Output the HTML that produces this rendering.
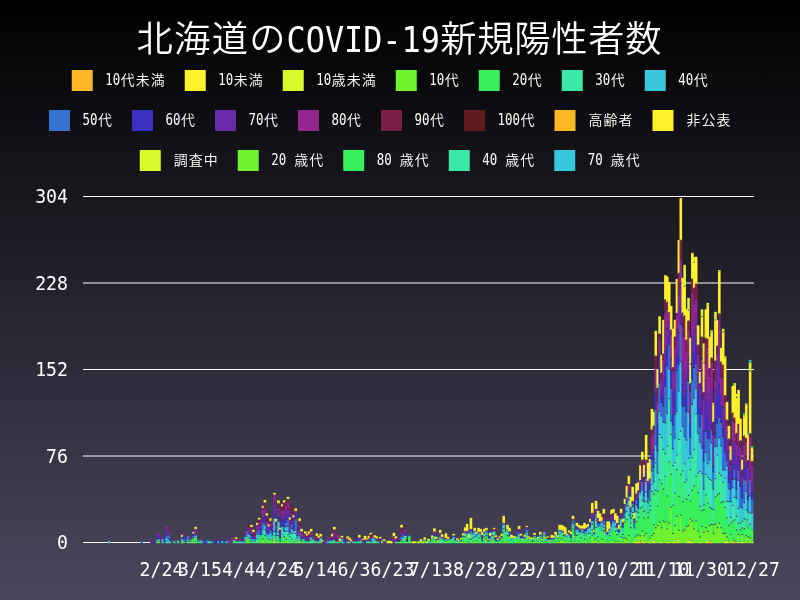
<!DOCTYPE html>
<html lang="ja"><head><meta charset="utf-8"><title>北海道のCOVID-19新規陽性者数</title>
<style>html,body{margin:0;padding:0;background:#000;overflow:hidden}svg{display:block}text{white-space:pre}.k{font-family:"Noto Sans CJK JP DemiLight","Noto Sans CJK JP","IPAGothic",sans-serif}.a{font-family:"DejaVu Sans Mono","Liberation Mono",monospace}</style></head>
<body>
<svg width="800" height="600" viewBox="0 0 800 600">
<defs><linearGradient id="bg" x1="0" y1="0" x2="0" y2="1"><stop offset="0" stop-color="#000000"/><stop offset="1" stop-color="#4a475d"/></linearGradient></defs>
<rect width="800" height="600" fill="url(#bg)"/>
<text fill="#fff"><tspan class="k" x="136.46" y="51.60" font-size="36.28" textLength="149.08" lengthAdjust="spacing">北海道の</tspan><tspan class="a" x="286.60" y="52.30" font-size="36.00" textLength="153.20" lengthAdjust="spacingAndGlyphs">COVID-19</tspan><tspan class="k" x="440.27" y="51.60" font-size="36.26" textLength="221.26" lengthAdjust="spacing">新規陽性者数</tspan></text>
<rect x="71.75" y="70" width="21" height="21" fill="#fdb827"/>
<text fill="#fff"><tspan class="a" x="105.30" y="85.40" font-size="15.00" textLength="15.00" lengthAdjust="spacingAndGlyphs">10</tspan><tspan class="k" x="120.83" y="85.10" font-size="13.95" textLength="43.95" lengthAdjust="spacing">代未満</tspan></text>
<rect x="184.75" y="70" width="21" height="21" fill="#fff12a"/>
<text fill="#fff"><tspan class="a" x="218.30" y="85.40" font-size="15.00" textLength="15.00" lengthAdjust="spacingAndGlyphs">10</tspan><tspan class="k" x="233.83" y="85.10" font-size="13.95" textLength="28.95" lengthAdjust="spacing">未満</tspan></text>
<rect x="282.75" y="70" width="21" height="21" fill="#d8fb2b"/>
<text fill="#fff"><tspan class="a" x="316.30" y="85.40" font-size="15.00" textLength="15.00" lengthAdjust="spacingAndGlyphs">10</tspan><tspan class="k" x="331.82" y="85.10" font-size="13.95" textLength="43.95" lengthAdjust="spacing">歳未満</tspan></text>
<rect x="395.75" y="70" width="21" height="21" fill="#70f32f"/>
<text fill="#fff"><tspan class="a" x="429.30" y="85.40" font-size="15.00" textLength="15.00" lengthAdjust="spacingAndGlyphs">10</tspan><tspan class="k" x="444.82" y="85.10" font-size="13.95" textLength="13.95" lengthAdjust="spacing">代</tspan></text>
<rect x="478.75" y="70" width="21" height="21" fill="#38ef5c"/>
<text fill="#fff"><tspan class="a" x="512.30" y="85.40" font-size="15.00" textLength="15.00" lengthAdjust="spacingAndGlyphs">20</tspan><tspan class="k" x="527.82" y="85.10" font-size="13.95" textLength="13.95" lengthAdjust="spacing">代</tspan></text>
<rect x="561.75" y="70" width="21" height="21" fill="#3ce8a8"/>
<text fill="#fff"><tspan class="a" x="595.30" y="85.40" font-size="15.00" textLength="15.00" lengthAdjust="spacingAndGlyphs">30</tspan><tspan class="k" x="610.82" y="85.10" font-size="13.95" textLength="13.95" lengthAdjust="spacing">代</tspan></text>
<rect x="644.75" y="70" width="21" height="21" fill="#38c8dc"/>
<text fill="#fff"><tspan class="a" x="678.30" y="85.40" font-size="15.00" textLength="15.00" lengthAdjust="spacingAndGlyphs">40</tspan><tspan class="k" x="693.82" y="85.10" font-size="13.95" textLength="13.95" lengthAdjust="spacing">代</tspan></text>
<rect x="49.00" y="110" width="21" height="21" fill="#3572d0"/>
<text fill="#fff"><tspan class="a" x="82.55" y="125.40" font-size="15.00" textLength="15.00" lengthAdjust="spacingAndGlyphs">50</tspan><tspan class="k" x="98.08" y="125.10" font-size="13.95" textLength="13.95" lengthAdjust="spacing">代</tspan></text>
<rect x="132.00" y="110" width="21" height="21" fill="#3a2fbf"/>
<text fill="#fff"><tspan class="a" x="165.55" y="125.40" font-size="15.00" textLength="15.00" lengthAdjust="spacingAndGlyphs">60</tspan><tspan class="k" x="181.08" y="125.10" font-size="13.95" textLength="13.95" lengthAdjust="spacing">代</tspan></text>
<rect x="215.00" y="110" width="21" height="21" fill="#6a2aa8"/>
<text fill="#fff"><tspan class="a" x="248.55" y="125.40" font-size="15.00" textLength="15.00" lengthAdjust="spacingAndGlyphs">70</tspan><tspan class="k" x="264.07" y="125.10" font-size="13.95" textLength="13.95" lengthAdjust="spacing">代</tspan></text>
<rect x="298.00" y="110" width="21" height="21" fill="#93258f"/>
<text fill="#fff"><tspan class="a" x="331.55" y="125.40" font-size="15.00" textLength="15.00" lengthAdjust="spacingAndGlyphs">80</tspan><tspan class="k" x="347.07" y="125.10" font-size="13.95" textLength="13.95" lengthAdjust="spacing">代</tspan></text>
<rect x="381.00" y="110" width="21" height="21" fill="#7a1f4a"/>
<text fill="#fff"><tspan class="a" x="414.55" y="125.40" font-size="15.00" textLength="15.00" lengthAdjust="spacingAndGlyphs">90</tspan><tspan class="k" x="430.07" y="125.10" font-size="13.95" textLength="13.95" lengthAdjust="spacing">代</tspan></text>
<rect x="464.00" y="110" width="21" height="21" fill="#5e1c1c"/>
<text fill="#fff"><tspan class="a" x="497.55" y="125.40" font-size="15.00" textLength="22.50" lengthAdjust="spacingAndGlyphs">100</tspan><tspan class="k" x="520.57" y="125.10" font-size="13.95" textLength="13.95" lengthAdjust="spacing">代</tspan></text>
<rect x="554.50" y="110" width="21" height="21" fill="#fdb827"/>
<text fill="#fff"><tspan class="k" x="588.57" y="125.10" font-size="13.95" textLength="43.95" lengthAdjust="spacing">高齢者</tspan></text>
<rect x="652.50" y="110" width="21" height="21" fill="#fff12a"/>
<text fill="#fff"><tspan class="k" x="686.57" y="125.10" font-size="13.95" textLength="43.95" lengthAdjust="spacing">非公表</tspan></text>
<rect x="139.75" y="150" width="21" height="21" fill="#d8fb2b"/>
<text fill="#fff"><tspan class="k" x="173.83" y="165.10" font-size="13.95" textLength="43.95" lengthAdjust="spacing">調査中</tspan></text>
<rect x="237.75" y="150" width="21" height="21" fill="#70f32f"/>
<text fill="#fff"><tspan class="a" x="271.30" y="165.40" font-size="15.00" textLength="22.50" lengthAdjust="spacingAndGlyphs">20 </tspan><tspan class="k" x="294.32" y="165.10" font-size="13.95" textLength="28.95" lengthAdjust="spacing">歳代</tspan></text>
<rect x="343.25" y="150" width="21" height="21" fill="#38ef5c"/>
<text fill="#fff"><tspan class="a" x="376.80" y="165.40" font-size="15.00" textLength="22.50" lengthAdjust="spacingAndGlyphs">80 </tspan><tspan class="k" x="399.82" y="165.10" font-size="13.95" textLength="28.95" lengthAdjust="spacing">歳代</tspan></text>
<rect x="448.75" y="150" width="21" height="21" fill="#3ce8a8"/>
<text fill="#fff"><tspan class="a" x="482.30" y="165.40" font-size="15.00" textLength="22.50" lengthAdjust="spacingAndGlyphs">40 </tspan><tspan class="k" x="505.32" y="165.10" font-size="13.95" textLength="28.95" lengthAdjust="spacing">歳代</tspan></text>
<rect x="554.25" y="150" width="21" height="21" fill="#38c8dc"/>
<text fill="#fff"><tspan class="a" x="587.80" y="165.40" font-size="15.00" textLength="22.50" lengthAdjust="spacingAndGlyphs">70 </tspan><tspan class="k" x="610.82" y="165.10" font-size="13.95" textLength="28.95" lengthAdjust="spacing">歳代</tspan></text>
<line x1="83.0" x2="753.8" y1="542.5" y2="542.5" stroke="#fff" stroke-width="1"/>
<text fill="#fff"><tspan class="a" x="57.05" y="549.40" font-size="20.05" textLength="10.95" lengthAdjust="spacingAndGlyphs">0</tspan></text>
<line x1="83.0" x2="753.8" y1="456.0" y2="456.0" stroke="#fff" stroke-width="1"/>
<text fill="#fff"><tspan class="a" x="46.10" y="462.90" font-size="20.05" textLength="21.90" lengthAdjust="spacingAndGlyphs">76</tspan></text>
<line x1="83.0" x2="753.8" y1="369.5" y2="369.5" stroke="#fff" stroke-width="1"/>
<text fill="#fff"><tspan class="a" x="35.15" y="376.40" font-size="20.05" textLength="32.85" lengthAdjust="spacingAndGlyphs">152</tspan></text>
<line x1="83.0" x2="753.8" y1="283.0" y2="283.0" stroke="#fff" stroke-width="1"/>
<text fill="#fff"><tspan class="a" x="35.15" y="289.90" font-size="20.05" textLength="32.85" lengthAdjust="spacingAndGlyphs">228</tspan></text>
<line x1="83.0" x2="753.8" y1="196.5" y2="196.5" stroke="#fff" stroke-width="1"/>
<text fill="#fff"><tspan class="a" x="35.15" y="203.40" font-size="20.05" textLength="32.85" lengthAdjust="spacingAndGlyphs">304</tspan></text>
<text fill="#fff"><tspan class="a" x="139.58" y="575.60" font-size="20.05" textLength="43.79" lengthAdjust="spacingAndGlyphs">2/24</tspan></text>
<text fill="#fff"><tspan class="a" x="178.08" y="575.60" font-size="20.05" textLength="43.79" lengthAdjust="spacingAndGlyphs">3/15</tspan></text>
<text fill="#fff"><tspan class="a" x="222.06" y="575.60" font-size="20.05" textLength="32.85" lengthAdjust="spacingAndGlyphs">4/4</tspan></text>
<text fill="#fff"><tspan class="a" x="255.09" y="575.60" font-size="20.05" textLength="43.79" lengthAdjust="spacingAndGlyphs">4/24</tspan></text>
<text fill="#fff"><tspan class="a" x="293.60" y="575.60" font-size="20.05" textLength="43.79" lengthAdjust="spacingAndGlyphs">5/14</tspan></text>
<text fill="#fff"><tspan class="a" x="337.58" y="575.60" font-size="20.05" textLength="32.85" lengthAdjust="spacingAndGlyphs">6/3</tspan></text>
<text fill="#fff"><tspan class="a" x="370.61" y="575.60" font-size="20.05" textLength="43.79" lengthAdjust="spacingAndGlyphs">6/23</tspan></text>
<text fill="#fff"><tspan class="a" x="409.12" y="575.60" font-size="20.05" textLength="43.79" lengthAdjust="spacingAndGlyphs">7/13</tspan></text>
<text fill="#fff"><tspan class="a" x="453.10" y="575.60" font-size="20.05" textLength="32.85" lengthAdjust="spacingAndGlyphs">8/2</tspan></text>
<text fill="#fff"><tspan class="a" x="486.13" y="575.60" font-size="20.05" textLength="43.79" lengthAdjust="spacingAndGlyphs">8/22</tspan></text>
<text fill="#fff"><tspan class="a" x="524.63" y="575.60" font-size="20.05" textLength="43.79" lengthAdjust="spacingAndGlyphs">9/11</tspan></text>
<text fill="#fff"><tspan class="a" x="563.14" y="575.60" font-size="20.05" textLength="43.79" lengthAdjust="spacingAndGlyphs">10/1</tspan></text>
<text fill="#fff"><tspan class="a" x="596.17" y="575.60" font-size="20.05" textLength="54.74" lengthAdjust="spacingAndGlyphs">10/21</tspan></text>
<text fill="#fff"><tspan class="a" x="634.68" y="575.60" font-size="20.05" textLength="54.74" lengthAdjust="spacingAndGlyphs">11/10</tspan></text>
<text fill="#fff"><tspan class="a" x="673.18" y="575.60" font-size="20.05" textLength="54.74" lengthAdjust="spacingAndGlyphs">11/30</tspan></text>
<text fill="#fff"><tspan class="a" x="725.17" y="575.60" font-size="20.05" textLength="54.74" lengthAdjust="spacingAndGlyphs">12/27</tspan></text>
<g shape-rendering="geometricPrecision">
<rect x="107.70" y="541.25" width="2.585" height="1.95" fill="#38c8dc"/>
<rect x="140.43" y="541.25" width="2.585" height="1.95" fill="#3572d0"/>
<rect x="150.06" y="541.35" width="2.585" height="1.85" fill="#6a2aa8"/>
<rect x="150.06" y="540.35" width="2.585" height="1.30" fill="#7a1f4a"/>
<rect x="151.98" y="540.35" width="2.585" height="2.85" fill="#6a2aa8"/>
<rect x="153.91" y="541.10" width="2.585" height="2.10" fill="#3a2fbf"/>
<rect x="153.91" y="539.85" width="2.585" height="1.55" fill="#7a1f4a"/>
<rect x="155.83" y="541.21" width="2.585" height="1.99" fill="#38ef5c"/>
<rect x="155.83" y="540.06" width="2.585" height="1.44" fill="#38c8dc"/>
<rect x="155.83" y="538.92" width="2.585" height="1.44" fill="#3572d0"/>
<rect x="155.83" y="536.63" width="2.585" height="2.59" fill="#3a2fbf"/>
<rect x="155.83" y="533.19" width="2.585" height="3.73" fill="#6a2aa8"/>
<rect x="155.83" y="532.05" width="2.585" height="1.44" fill="#93258f"/>
<rect x="157.76" y="541.15" width="2.585" height="2.05" fill="#70f32f"/>
<rect x="157.76" y="538.75" width="2.585" height="2.70" fill="#38ef5c"/>
<rect x="157.76" y="536.35" width="2.585" height="2.70" fill="#3a2fbf"/>
<rect x="157.76" y="535.15" width="2.585" height="1.50" fill="#6a2aa8"/>
<rect x="157.76" y="533.95" width="2.585" height="1.50" fill="#93258f"/>
<rect x="159.68" y="538.90" width="2.585" height="4.30" fill="#6a2aa8"/>
<rect x="159.68" y="537.75" width="2.585" height="1.45" fill="#7a1f4a"/>
<rect x="161.61" y="541.10" width="2.585" height="2.10" fill="#38ef5c"/>
<rect x="161.61" y="538.60" width="2.585" height="2.80" fill="#38c8dc"/>
<rect x="161.61" y="537.35" width="2.585" height="1.55" fill="#3a2fbf"/>
<rect x="163.53" y="541.35" width="2.585" height="1.85" fill="#3572d0"/>
<rect x="163.53" y="538.35" width="2.585" height="3.30" fill="#3a2fbf"/>
<rect x="165.46" y="541.24" width="2.585" height="1.96" fill="#38ef5c"/>
<rect x="165.46" y="540.14" width="2.585" height="1.41" fill="#3ce8a8"/>
<rect x="165.46" y="537.92" width="2.585" height="2.51" fill="#38c8dc"/>
<rect x="165.46" y="535.71" width="2.585" height="2.51" fill="#3572d0"/>
<rect x="165.46" y="529.06" width="2.585" height="6.94" fill="#3a2fbf"/>
<rect x="165.46" y="526.85" width="2.585" height="2.51" fill="#93258f"/>
<rect x="167.38" y="538.94" width="2.585" height="4.26" fill="#38c8dc"/>
<rect x="167.38" y="535.53" width="2.585" height="3.71" fill="#3572d0"/>
<rect x="167.38" y="533.26" width="2.585" height="2.57" fill="#6a2aa8"/>
<rect x="167.38" y="530.99" width="2.585" height="2.57" fill="#93258f"/>
<rect x="167.38" y="529.85" width="2.585" height="1.44" fill="#7a1f4a"/>
<rect x="169.31" y="541.18" width="2.585" height="2.02" fill="#38ef5c"/>
<rect x="169.31" y="538.85" width="2.585" height="2.63" fill="#3a2fbf"/>
<rect x="171.23" y="541.35" width="2.585" height="1.85" fill="#3a2fbf"/>
<rect x="171.23" y="540.35" width="2.585" height="1.30" fill="#93258f"/>
<rect x="173.16" y="541.35" width="2.585" height="1.85" fill="#70f32f"/>
<rect x="173.16" y="540.35" width="2.585" height="1.30" fill="#38ef5c"/>
<rect x="173.16" y="539.35" width="2.585" height="1.30" fill="#6a2aa8"/>
<rect x="173.16" y="538.35" width="2.585" height="1.30" fill="#7a1f4a"/>
<rect x="175.08" y="540.85" width="2.585" height="2.35" fill="#3572d0"/>
<rect x="177.01" y="540.85" width="2.585" height="2.35" fill="#38ef5c"/>
<rect x="178.93" y="540.85" width="2.585" height="2.35" fill="#93258f"/>
<rect x="180.86" y="541.25" width="2.585" height="1.95" fill="#70f32f"/>
<rect x="180.86" y="539.05" width="2.585" height="2.50" fill="#38c8dc"/>
<rect x="180.86" y="537.95" width="2.585" height="1.40" fill="#3572d0"/>
<rect x="180.86" y="536.85" width="2.585" height="1.40" fill="#7a1f4a"/>
<rect x="180.86" y="534.85" width="2.585" height="2.30" fill="#fff12a"/>
<rect x="182.78" y="541.14" width="2.585" height="2.06" fill="#38ef5c"/>
<rect x="182.78" y="539.92" width="2.585" height="1.51" fill="#38c8dc"/>
<rect x="182.78" y="538.71" width="2.585" height="1.51" fill="#3572d0"/>
<rect x="182.78" y="535.06" width="2.585" height="3.94" fill="#3a2fbf"/>
<rect x="182.78" y="533.85" width="2.585" height="1.51" fill="#93258f"/>
<rect x="184.71" y="541.35" width="2.585" height="1.85" fill="#3572d0"/>
<rect x="184.71" y="540.35" width="2.585" height="1.30" fill="#6a2aa8"/>
<rect x="186.64" y="541.27" width="2.585" height="1.93" fill="#70f32f"/>
<rect x="186.64" y="539.10" width="2.585" height="2.47" fill="#38c8dc"/>
<rect x="186.64" y="535.85" width="2.585" height="3.55" fill="#3572d0"/>
<rect x="188.56" y="541.35" width="2.585" height="1.85" fill="#3ce8a8"/>
<rect x="188.56" y="540.35" width="2.585" height="1.30" fill="#3572d0"/>
<rect x="190.49" y="541.27" width="2.585" height="1.93" fill="#70f32f"/>
<rect x="190.49" y="539.10" width="2.585" height="2.47" fill="#38ef5c"/>
<rect x="190.49" y="536.93" width="2.585" height="2.47" fill="#93258f"/>
<rect x="190.49" y="535.85" width="2.585" height="1.38" fill="#7a1f4a"/>
<rect x="192.41" y="541.23" width="2.585" height="1.97" fill="#70f32f"/>
<rect x="192.41" y="538.98" width="2.585" height="2.55" fill="#38ef5c"/>
<rect x="192.41" y="537.85" width="2.585" height="1.42" fill="#3ce8a8"/>
<rect x="192.41" y="535.60" width="2.585" height="2.55" fill="#3572d0"/>
<rect x="192.41" y="533.35" width="2.585" height="2.55" fill="#3a2fbf"/>
<rect x="192.41" y="531.85" width="2.585" height="1.80" fill="#fff12a"/>
<rect x="194.34" y="541.23" width="2.585" height="1.97" fill="#70f32f"/>
<rect x="194.34" y="536.73" width="2.585" height="4.80" fill="#38ef5c"/>
<rect x="194.34" y="535.60" width="2.585" height="1.42" fill="#38c8dc"/>
<rect x="194.34" y="534.48" width="2.585" height="1.42" fill="#3572d0"/>
<rect x="194.34" y="531.10" width="2.585" height="3.67" fill="#6a2aa8"/>
<rect x="194.34" y="528.85" width="2.585" height="2.55" fill="#93258f"/>
<rect x="194.34" y="526.85" width="2.585" height="2.30" fill="#fff12a"/>
<rect x="196.26" y="540.85" width="2.585" height="2.35" fill="#38c8dc"/>
<rect x="198.19" y="541.35" width="2.585" height="1.85" fill="#38ef5c"/>
<rect x="198.19" y="540.35" width="2.585" height="1.30" fill="#3ce8a8"/>
<rect x="198.19" y="539.35" width="2.585" height="1.30" fill="#3572d0"/>
<rect x="200.11" y="541.18" width="2.585" height="2.02" fill="#38ef5c"/>
<rect x="200.11" y="540.02" width="2.585" height="1.47" fill="#38c8dc"/>
<rect x="200.11" y="538.85" width="2.585" height="1.47" fill="#93258f"/>
<rect x="202.04" y="541.35" width="2.585" height="1.85" fill="#3572d0"/>
<rect x="203.96" y="540.85" width="2.585" height="2.35" fill="#3a2fbf"/>
<rect x="205.89" y="539.85" width="2.585" height="3.35" fill="#3572d0"/>
<rect x="207.81" y="541.35" width="2.585" height="1.85" fill="#38ef5c"/>
<rect x="209.74" y="541.35" width="2.585" height="1.85" fill="#38c8dc"/>
<rect x="211.66" y="541.35" width="2.585" height="1.85" fill="#3572d0"/>
<rect x="213.59" y="541.35" width="2.585" height="1.85" fill="#3a2fbf"/>
<rect x="215.51" y="541.85" width="2.585" height="1.35" fill="#3a2fbf"/>
<rect x="217.44" y="541.18" width="2.585" height="2.02" fill="#38ef5c"/>
<rect x="217.44" y="538.85" width="2.585" height="2.63" fill="#6a2aa8"/>
<rect x="219.37" y="540.85" width="2.585" height="2.35" fill="#3a2fbf"/>
<rect x="221.29" y="540.85" width="2.585" height="2.35" fill="#38c8dc"/>
<rect x="223.22" y="541.35" width="2.585" height="1.85" fill="#3a2fbf"/>
<rect x="223.22" y="540.35" width="2.585" height="1.30" fill="#6a2aa8"/>
<rect x="225.14" y="541.35" width="2.585" height="1.85" fill="#38ef5c"/>
<rect x="225.14" y="540.35" width="2.585" height="1.30" fill="#3572d0"/>
<rect x="225.14" y="539.35" width="2.585" height="1.30" fill="#6a2aa8"/>
<rect x="227.07" y="540.85" width="2.585" height="2.35" fill="#3572d0"/>
<rect x="228.99" y="541.35" width="2.585" height="1.85" fill="#93258f"/>
<rect x="230.92" y="541.10" width="2.585" height="2.10" fill="#6a2aa8"/>
<rect x="230.92" y="537.35" width="2.585" height="4.05" fill="#93258f"/>
<rect x="232.84" y="540.35" width="2.585" height="2.85" fill="#38ef5c"/>
<rect x="232.84" y="539.35" width="2.585" height="1.30" fill="#3ce8a8"/>
<rect x="232.84" y="538.35" width="2.585" height="1.30" fill="#93258f"/>
<rect x="234.77" y="541.18" width="2.585" height="2.02" fill="#38ef5c"/>
<rect x="234.77" y="540.02" width="2.585" height="1.47" fill="#3ce8a8"/>
<rect x="234.77" y="538.85" width="2.585" height="1.47" fill="#7a1f4a"/>
<rect x="234.77" y="537.35" width="2.585" height="1.80" fill="#fff12a"/>
<rect x="236.69" y="541.35" width="2.585" height="1.85" fill="#3ce8a8"/>
<rect x="236.69" y="540.35" width="2.585" height="1.30" fill="#6a2aa8"/>
<rect x="236.69" y="539.35" width="2.585" height="1.30" fill="#93258f"/>
<rect x="238.62" y="540.85" width="2.585" height="2.35" fill="#38c8dc"/>
<rect x="240.54" y="541.35" width="2.585" height="1.85" fill="#3ce8a8"/>
<rect x="240.54" y="540.35" width="2.585" height="1.30" fill="#6a2aa8"/>
<rect x="242.47" y="541.18" width="2.585" height="2.02" fill="#38c8dc"/>
<rect x="242.47" y="540.02" width="2.585" height="1.47" fill="#6a2aa8"/>
<rect x="242.47" y="538.85" width="2.585" height="1.47" fill="#93258f"/>
<rect x="244.39" y="541.18" width="2.585" height="2.02" fill="#38ef5c"/>
<rect x="244.39" y="540.02" width="2.585" height="1.47" fill="#3ce8a8"/>
<rect x="244.39" y="536.52" width="2.585" height="3.80" fill="#38c8dc"/>
<rect x="244.39" y="535.35" width="2.585" height="1.47" fill="#3a2fbf"/>
<rect x="244.39" y="534.18" width="2.585" height="1.47" fill="#6a2aa8"/>
<rect x="244.39" y="531.85" width="2.585" height="2.63" fill="#93258f"/>
<rect x="246.32" y="538.88" width="2.585" height="4.32" fill="#70f32f"/>
<rect x="246.32" y="536.57" width="2.585" height="2.61" fill="#38ef5c"/>
<rect x="246.32" y="534.26" width="2.585" height="2.61" fill="#38c8dc"/>
<rect x="246.32" y="530.79" width="2.585" height="3.77" fill="#3572d0"/>
<rect x="246.32" y="529.63" width="2.585" height="1.46" fill="#3a2fbf"/>
<rect x="246.32" y="527.32" width="2.585" height="2.61" fill="#6a2aa8"/>
<rect x="246.32" y="526.16" width="2.585" height="1.46" fill="#93258f"/>
<rect x="246.32" y="523.85" width="2.585" height="2.61" fill="#7a1f4a"/>
<rect x="248.24" y="541.23" width="2.585" height="1.97" fill="#70f32f"/>
<rect x="248.24" y="537.89" width="2.585" height="3.65" fill="#38ef5c"/>
<rect x="248.24" y="534.54" width="2.585" height="3.65" fill="#38c8dc"/>
<rect x="248.24" y="533.43" width="2.585" height="1.42" fill="#3572d0"/>
<rect x="248.24" y="532.31" width="2.585" height="1.42" fill="#3a2fbf"/>
<rect x="248.24" y="530.08" width="2.585" height="2.53" fill="#6a2aa8"/>
<rect x="248.24" y="527.85" width="2.585" height="2.53" fill="#93258f"/>
<rect x="250.17" y="541.24" width="2.585" height="1.96" fill="#38ef5c"/>
<rect x="250.17" y="540.14" width="2.585" height="1.41" fill="#3ce8a8"/>
<rect x="250.17" y="539.03" width="2.585" height="1.41" fill="#38c8dc"/>
<rect x="250.17" y="535.71" width="2.585" height="3.62" fill="#3572d0"/>
<rect x="250.17" y="534.60" width="2.585" height="1.41" fill="#3a2fbf"/>
<rect x="250.17" y="531.28" width="2.585" height="3.62" fill="#6a2aa8"/>
<rect x="250.17" y="529.06" width="2.585" height="2.51" fill="#93258f"/>
<rect x="250.17" y="526.85" width="2.585" height="2.51" fill="#7a1f4a"/>
<rect x="250.17" y="524.85" width="2.585" height="2.30" fill="#fff12a"/>
<rect x="252.10" y="541.18" width="2.585" height="2.02" fill="#3ce8a8"/>
<rect x="252.10" y="538.85" width="2.585" height="2.63" fill="#38c8dc"/>
<rect x="252.10" y="536.52" width="2.585" height="2.63" fill="#3a2fbf"/>
<rect x="252.10" y="535.35" width="2.585" height="1.47" fill="#93258f"/>
<rect x="252.10" y="531.85" width="2.585" height="3.80" fill="#7a1f4a"/>
<rect x="252.10" y="529.85" width="2.585" height="2.30" fill="#fff12a"/>
<rect x="254.02" y="541.16" width="2.585" height="2.04" fill="#38ef5c"/>
<rect x="254.02" y="539.98" width="2.585" height="1.49" fill="#3ce8a8"/>
<rect x="254.02" y="538.79" width="2.585" height="1.49" fill="#3572d0"/>
<rect x="254.02" y="535.23" width="2.585" height="3.86" fill="#93258f"/>
<rect x="254.02" y="532.85" width="2.585" height="2.67" fill="#7a1f4a"/>
<rect x="255.95" y="538.85" width="2.585" height="4.35" fill="#3ce8a8"/>
<rect x="255.95" y="534.18" width="2.585" height="4.97" fill="#38c8dc"/>
<rect x="255.95" y="531.85" width="2.585" height="2.63" fill="#3572d0"/>
<rect x="255.95" y="530.68" width="2.585" height="1.47" fill="#6a2aa8"/>
<rect x="255.95" y="524.85" width="2.585" height="6.13" fill="#93258f"/>
<rect x="255.95" y="522.85" width="2.585" height="2.30" fill="#fff12a"/>
<rect x="257.87" y="538.90" width="2.585" height="4.30" fill="#38ef5c"/>
<rect x="257.87" y="536.60" width="2.585" height="2.60" fill="#3ce8a8"/>
<rect x="257.87" y="534.30" width="2.585" height="2.60" fill="#38c8dc"/>
<rect x="257.87" y="529.70" width="2.585" height="4.90" fill="#3572d0"/>
<rect x="257.87" y="528.55" width="2.585" height="1.45" fill="#3a2fbf"/>
<rect x="257.87" y="525.10" width="2.585" height="3.75" fill="#6a2aa8"/>
<rect x="257.87" y="521.65" width="2.585" height="3.75" fill="#93258f"/>
<rect x="257.87" y="519.35" width="2.585" height="2.60" fill="#7a1f4a"/>
<rect x="257.87" y="517.85" width="2.585" height="1.80" fill="#fff12a"/>
<rect x="259.80" y="541.23" width="2.585" height="1.97" fill="#70f32f"/>
<rect x="259.80" y="537.85" width="2.585" height="3.67" fill="#38ef5c"/>
<rect x="259.80" y="535.60" width="2.585" height="2.55" fill="#3ce8a8"/>
<rect x="259.80" y="534.48" width="2.585" height="1.42" fill="#38c8dc"/>
<rect x="259.80" y="529.98" width="2.585" height="4.80" fill="#3a2fbf"/>
<rect x="259.80" y="524.35" width="2.585" height="5.93" fill="#6a2aa8"/>
<rect x="259.80" y="520.98" width="2.585" height="3.67" fill="#93258f"/>
<rect x="259.80" y="519.85" width="2.585" height="1.42" fill="#7a1f4a"/>
<rect x="261.72" y="538.90" width="2.585" height="4.30" fill="#70f32f"/>
<rect x="261.72" y="534.30" width="2.585" height="4.90" fill="#38ef5c"/>
<rect x="261.72" y="532.00" width="2.585" height="2.60" fill="#3ce8a8"/>
<rect x="261.72" y="529.70" width="2.585" height="2.60" fill="#38c8dc"/>
<rect x="261.72" y="522.80" width="2.585" height="7.20" fill="#3572d0"/>
<rect x="261.72" y="518.20" width="2.585" height="4.90" fill="#3a2fbf"/>
<rect x="261.72" y="509.00" width="2.585" height="9.50" fill="#93258f"/>
<rect x="261.72" y="507.85" width="2.585" height="1.45" fill="#7a1f4a"/>
<rect x="261.72" y="505.85" width="2.585" height="2.30" fill="#fff12a"/>
<rect x="263.65" y="541.21" width="2.585" height="1.99" fill="#70f32f"/>
<rect x="263.65" y="535.49" width="2.585" height="6.01" fill="#38ef5c"/>
<rect x="263.65" y="529.78" width="2.585" height="6.01" fill="#3ce8a8"/>
<rect x="263.65" y="525.21" width="2.585" height="4.87" fill="#38c8dc"/>
<rect x="263.65" y="522.92" width="2.585" height="2.59" fill="#3572d0"/>
<rect x="263.65" y="514.92" width="2.585" height="8.30" fill="#3a2fbf"/>
<rect x="263.65" y="513.78" width="2.585" height="1.44" fill="#6a2aa8"/>
<rect x="263.65" y="508.06" width="2.585" height="6.01" fill="#93258f"/>
<rect x="263.65" y="502.35" width="2.585" height="6.01" fill="#7a1f4a"/>
<rect x="263.65" y="499.85" width="2.585" height="2.80" fill="#fff12a"/>
<rect x="265.57" y="538.98" width="2.585" height="4.22" fill="#38ef5c"/>
<rect x="265.57" y="536.73" width="2.585" height="2.55" fill="#3ce8a8"/>
<rect x="265.57" y="534.48" width="2.585" height="2.55" fill="#38c8dc"/>
<rect x="265.57" y="532.23" width="2.585" height="2.55" fill="#3572d0"/>
<rect x="265.57" y="526.60" width="2.585" height="5.93" fill="#3a2fbf"/>
<rect x="265.57" y="524.35" width="2.585" height="2.55" fill="#6a2aa8"/>
<rect x="265.57" y="520.98" width="2.585" height="3.67" fill="#93258f"/>
<rect x="265.57" y="515.35" width="2.585" height="5.93" fill="#7a1f4a"/>
<rect x="265.57" y="513.35" width="2.585" height="2.30" fill="#fff12a"/>
<rect x="267.50" y="538.92" width="2.585" height="4.28" fill="#38ef5c"/>
<rect x="267.50" y="534.35" width="2.585" height="4.87" fill="#38c8dc"/>
<rect x="267.50" y="533.21" width="2.585" height="1.44" fill="#3572d0"/>
<rect x="267.50" y="532.06" width="2.585" height="1.44" fill="#3a2fbf"/>
<rect x="267.50" y="530.92" width="2.585" height="1.44" fill="#6a2aa8"/>
<rect x="267.50" y="526.35" width="2.585" height="4.87" fill="#93258f"/>
<rect x="267.50" y="524.35" width="2.585" height="2.30" fill="#fff12a"/>
<rect x="269.42" y="540.09" width="2.585" height="3.11" fill="#70f32f"/>
<rect x="269.42" y="538.96" width="2.585" height="1.43" fill="#38ef5c"/>
<rect x="269.42" y="536.69" width="2.585" height="2.56" fill="#3ce8a8"/>
<rect x="269.42" y="532.17" width="2.585" height="4.83" fill="#38c8dc"/>
<rect x="269.42" y="529.90" width="2.585" height="2.56" fill="#3572d0"/>
<rect x="269.42" y="527.64" width="2.585" height="2.56" fill="#3a2fbf"/>
<rect x="269.42" y="526.51" width="2.585" height="1.43" fill="#6a2aa8"/>
<rect x="269.42" y="523.11" width="2.585" height="3.69" fill="#93258f"/>
<rect x="269.42" y="520.85" width="2.585" height="2.56" fill="#7a1f4a"/>
<rect x="269.42" y="518.35" width="2.585" height="2.80" fill="#fff12a"/>
<rect x="271.35" y="540.11" width="2.585" height="3.09" fill="#38ef5c"/>
<rect x="271.35" y="538.99" width="2.585" height="1.42" fill="#3ce8a8"/>
<rect x="271.35" y="535.64" width="2.585" height="3.66" fill="#38c8dc"/>
<rect x="271.35" y="533.40" width="2.585" height="2.54" fill="#3572d0"/>
<rect x="271.35" y="530.04" width="2.585" height="3.66" fill="#3a2fbf"/>
<rect x="271.35" y="526.68" width="2.585" height="3.66" fill="#6a2aa8"/>
<rect x="271.35" y="521.09" width="2.585" height="5.90" fill="#93258f"/>
<rect x="271.35" y="518.85" width="2.585" height="2.54" fill="#7a1f4a"/>
<rect x="273.27" y="541.23" width="2.585" height="1.97" fill="#fff12a"/>
<rect x="273.27" y="537.88" width="2.585" height="3.65" fill="#70f32f"/>
<rect x="273.27" y="535.65" width="2.585" height="2.53" fill="#38ef5c"/>
<rect x="273.27" y="531.19" width="2.585" height="4.77" fill="#3ce8a8"/>
<rect x="273.27" y="517.79" width="2.585" height="13.70" fill="#38c8dc"/>
<rect x="273.27" y="514.44" width="2.585" height="3.65" fill="#3a2fbf"/>
<rect x="273.27" y="502.16" width="2.585" height="12.58" fill="#6a2aa8"/>
<rect x="273.27" y="494.35" width="2.585" height="8.11" fill="#93258f"/>
<rect x="273.27" y="492.85" width="2.585" height="1.80" fill="#fff12a"/>
<rect x="275.20" y="540.02" width="2.585" height="3.18" fill="#38ef5c"/>
<rect x="275.20" y="538.85" width="2.585" height="1.47" fill="#3ce8a8"/>
<rect x="275.20" y="535.35" width="2.585" height="3.80" fill="#38c8dc"/>
<rect x="275.20" y="531.85" width="2.585" height="3.80" fill="#3572d0"/>
<rect x="275.20" y="530.68" width="2.585" height="1.47" fill="#3a2fbf"/>
<rect x="275.20" y="528.35" width="2.585" height="2.63" fill="#6a2aa8"/>
<rect x="275.20" y="524.85" width="2.585" height="3.80" fill="#93258f"/>
<rect x="275.20" y="521.35" width="2.585" height="3.80" fill="#7a1f4a"/>
<rect x="275.20" y="518.85" width="2.585" height="2.80" fill="#fff12a"/>
<rect x="277.12" y="541.20" width="2.585" height="2.00" fill="#70f32f"/>
<rect x="277.12" y="535.47" width="2.585" height="6.04" fill="#38ef5c"/>
<rect x="277.12" y="532.03" width="2.585" height="3.74" fill="#3ce8a8"/>
<rect x="277.12" y="521.70" width="2.585" height="10.62" fill="#38c8dc"/>
<rect x="277.12" y="520.56" width="2.585" height="1.45" fill="#3572d0"/>
<rect x="277.12" y="517.11" width="2.585" height="3.74" fill="#3a2fbf"/>
<rect x="277.12" y="511.38" width="2.585" height="6.04" fill="#6a2aa8"/>
<rect x="277.12" y="507.94" width="2.585" height="3.74" fill="#93258f"/>
<rect x="277.12" y="503.35" width="2.585" height="4.89" fill="#7a1f4a"/>
<rect x="277.12" y="500.35" width="2.585" height="3.30" fill="#fff12a"/>
<rect x="279.05" y="541.17" width="2.585" height="2.03" fill="#3ce8a8"/>
<rect x="279.05" y="539.99" width="2.585" height="1.48" fill="#38c8dc"/>
<rect x="279.05" y="537.62" width="2.585" height="2.66" fill="#3572d0"/>
<rect x="279.05" y="536.44" width="2.585" height="1.48" fill="#3a2fbf"/>
<rect x="279.05" y="534.08" width="2.585" height="2.66" fill="#6a2aa8"/>
<rect x="279.05" y="532.90" width="2.585" height="1.48" fill="#93258f"/>
<rect x="279.05" y="529.35" width="2.585" height="3.85" fill="#7a1f4a"/>
<rect x="279.05" y="527.85" width="2.585" height="1.80" fill="#fff12a"/>
<rect x="280.97" y="541.23" width="2.585" height="1.97" fill="#70f32f"/>
<rect x="280.97" y="536.73" width="2.585" height="4.80" fill="#38ef5c"/>
<rect x="280.97" y="534.48" width="2.585" height="2.55" fill="#3ce8a8"/>
<rect x="280.97" y="526.60" width="2.585" height="8.18" fill="#38c8dc"/>
<rect x="280.97" y="525.48" width="2.585" height="1.42" fill="#3572d0"/>
<rect x="280.97" y="519.85" width="2.585" height="5.93" fill="#3a2fbf"/>
<rect x="280.97" y="515.35" width="2.585" height="4.80" fill="#6a2aa8"/>
<rect x="280.97" y="509.73" width="2.585" height="5.93" fill="#93258f"/>
<rect x="280.97" y="506.35" width="2.585" height="3.67" fill="#7a1f4a"/>
<rect x="280.97" y="504.35" width="2.585" height="2.30" fill="#fff12a"/>
<rect x="282.90" y="541.21" width="2.585" height="1.99" fill="#70f32f"/>
<rect x="282.90" y="536.64" width="2.585" height="4.87" fill="#38ef5c"/>
<rect x="282.90" y="530.92" width="2.585" height="6.01" fill="#38c8dc"/>
<rect x="282.90" y="526.35" width="2.585" height="4.87" fill="#3572d0"/>
<rect x="282.90" y="519.49" width="2.585" height="7.16" fill="#3a2fbf"/>
<rect x="282.90" y="514.92" width="2.585" height="4.87" fill="#6a2aa8"/>
<rect x="282.90" y="509.21" width="2.585" height="6.01" fill="#93258f"/>
<rect x="282.90" y="502.35" width="2.585" height="7.16" fill="#7a1f4a"/>
<rect x="282.90" y="500.35" width="2.585" height="2.30" fill="#fff12a"/>
<rect x="284.83" y="538.98" width="2.585" height="4.22" fill="#38ef5c"/>
<rect x="284.83" y="531.10" width="2.585" height="8.18" fill="#3ce8a8"/>
<rect x="284.83" y="526.60" width="2.585" height="4.80" fill="#38c8dc"/>
<rect x="284.83" y="522.10" width="2.585" height="4.80" fill="#3572d0"/>
<rect x="284.83" y="517.60" width="2.585" height="4.80" fill="#3a2fbf"/>
<rect x="284.83" y="510.85" width="2.585" height="7.05" fill="#6a2aa8"/>
<rect x="284.83" y="505.23" width="2.585" height="5.93" fill="#93258f"/>
<rect x="284.83" y="501.85" width="2.585" height="3.67" fill="#7a1f4a"/>
<rect x="286.75" y="540.06" width="2.585" height="3.14" fill="#70f32f"/>
<rect x="286.75" y="534.34" width="2.585" height="6.02" fill="#38ef5c"/>
<rect x="286.75" y="530.90" width="2.585" height="3.73" fill="#3ce8a8"/>
<rect x="286.75" y="526.32" width="2.585" height="4.88" fill="#38c8dc"/>
<rect x="286.75" y="519.46" width="2.585" height="7.17" fill="#3572d0"/>
<rect x="286.75" y="514.88" width="2.585" height="4.88" fill="#3a2fbf"/>
<rect x="286.75" y="509.15" width="2.585" height="6.02" fill="#6a2aa8"/>
<rect x="286.75" y="502.28" width="2.585" height="7.17" fill="#93258f"/>
<rect x="286.75" y="498.85" width="2.585" height="3.73" fill="#7a1f4a"/>
<rect x="286.75" y="496.85" width="2.585" height="2.30" fill="#fff12a"/>
<rect x="288.68" y="541.23" width="2.585" height="1.97" fill="#70f32f"/>
<rect x="288.68" y="536.73" width="2.585" height="4.80" fill="#3ce8a8"/>
<rect x="288.68" y="533.35" width="2.585" height="3.67" fill="#38c8dc"/>
<rect x="288.68" y="532.23" width="2.585" height="1.42" fill="#3572d0"/>
<rect x="288.68" y="529.98" width="2.585" height="2.55" fill="#3a2fbf"/>
<rect x="288.68" y="523.23" width="2.585" height="7.05" fill="#6a2aa8"/>
<rect x="288.68" y="520.98" width="2.585" height="2.55" fill="#93258f"/>
<rect x="288.68" y="519.85" width="2.585" height="1.42" fill="#7a1f4a"/>
<rect x="288.68" y="517.35" width="2.585" height="2.80" fill="#fff12a"/>
<rect x="290.60" y="538.91" width="2.585" height="4.29" fill="#38ef5c"/>
<rect x="290.60" y="533.19" width="2.585" height="6.03" fill="#3ce8a8"/>
<rect x="290.60" y="528.61" width="2.585" height="4.88" fill="#38c8dc"/>
<rect x="290.60" y="524.03" width="2.585" height="4.88" fill="#3572d0"/>
<rect x="290.60" y="519.45" width="2.585" height="4.88" fill="#3a2fbf"/>
<rect x="290.60" y="514.87" width="2.585" height="4.88" fill="#6a2aa8"/>
<rect x="290.60" y="512.58" width="2.585" height="2.59" fill="#93258f"/>
<rect x="290.60" y="506.85" width="2.585" height="6.03" fill="#7a1f4a"/>
<rect x="292.53" y="541.21" width="2.585" height="1.99" fill="#38ef5c"/>
<rect x="292.53" y="533.26" width="2.585" height="8.25" fill="#3ce8a8"/>
<rect x="292.53" y="530.99" width="2.585" height="2.57" fill="#38c8dc"/>
<rect x="292.53" y="526.44" width="2.585" height="4.85" fill="#3a2fbf"/>
<rect x="292.53" y="520.76" width="2.585" height="5.98" fill="#6a2aa8"/>
<rect x="292.53" y="517.35" width="2.585" height="3.71" fill="#7a1f4a"/>
<rect x="292.53" y="515.35" width="2.585" height="2.30" fill="#fff12a"/>
<rect x="294.45" y="541.23" width="2.585" height="1.97" fill="#70f32f"/>
<rect x="294.45" y="538.98" width="2.585" height="2.55" fill="#38ef5c"/>
<rect x="294.45" y="533.35" width="2.585" height="5.93" fill="#3ce8a8"/>
<rect x="294.45" y="529.98" width="2.585" height="3.67" fill="#38c8dc"/>
<rect x="294.45" y="518.73" width="2.585" height="11.55" fill="#3572d0"/>
<rect x="294.45" y="514.23" width="2.585" height="4.80" fill="#3a2fbf"/>
<rect x="294.45" y="513.10" width="2.585" height="1.42" fill="#6a2aa8"/>
<rect x="294.45" y="511.98" width="2.585" height="1.42" fill="#93258f"/>
<rect x="294.45" y="510.85" width="2.585" height="1.42" fill="#7a1f4a"/>
<rect x="294.45" y="508.35" width="2.585" height="2.80" fill="#fff12a"/>
<rect x="296.38" y="540.10" width="2.585" height="3.10" fill="#3ce8a8"/>
<rect x="296.38" y="537.85" width="2.585" height="2.55" fill="#38c8dc"/>
<rect x="296.38" y="535.60" width="2.585" height="2.55" fill="#3572d0"/>
<rect x="296.38" y="534.48" width="2.585" height="1.42" fill="#3a2fbf"/>
<rect x="296.38" y="529.98" width="2.585" height="4.80" fill="#93258f"/>
<rect x="296.38" y="528.85" width="2.585" height="1.42" fill="#7a1f4a"/>
<rect x="298.30" y="540.09" width="2.585" height="3.11" fill="#70f32f"/>
<rect x="298.30" y="537.82" width="2.585" height="2.56" fill="#38ef5c"/>
<rect x="298.30" y="536.69" width="2.585" height="1.43" fill="#3ce8a8"/>
<rect x="298.30" y="535.56" width="2.585" height="1.43" fill="#38c8dc"/>
<rect x="298.30" y="532.17" width="2.585" height="3.69" fill="#3572d0"/>
<rect x="298.30" y="527.64" width="2.585" height="4.83" fill="#3a2fbf"/>
<rect x="298.30" y="524.24" width="2.585" height="3.69" fill="#93258f"/>
<rect x="298.30" y="520.85" width="2.585" height="3.69" fill="#7a1f4a"/>
<rect x="298.30" y="518.35" width="2.585" height="2.80" fill="#fff12a"/>
<rect x="300.23" y="541.25" width="2.585" height="1.95" fill="#38ef5c"/>
<rect x="300.23" y="540.15" width="2.585" height="1.40" fill="#3ce8a8"/>
<rect x="300.23" y="539.05" width="2.585" height="1.40" fill="#3572d0"/>
<rect x="300.23" y="536.85" width="2.585" height="2.50" fill="#6a2aa8"/>
<rect x="300.23" y="532.45" width="2.585" height="4.70" fill="#93258f"/>
<rect x="300.23" y="531.35" width="2.585" height="1.40" fill="#7a1f4a"/>
<rect x="300.23" y="528.85" width="2.585" height="2.80" fill="#fff12a"/>
<rect x="302.15" y="541.25" width="2.585" height="1.95" fill="#70f32f"/>
<rect x="302.15" y="539.05" width="2.585" height="2.50" fill="#3ce8a8"/>
<rect x="302.15" y="537.95" width="2.585" height="1.40" fill="#3572d0"/>
<rect x="302.15" y="536.85" width="2.585" height="1.40" fill="#6a2aa8"/>
<rect x="304.08" y="541.23" width="2.585" height="1.97" fill="#38ef5c"/>
<rect x="304.08" y="540.10" width="2.585" height="1.42" fill="#3ce8a8"/>
<rect x="304.08" y="538.98" width="2.585" height="1.42" fill="#3572d0"/>
<rect x="304.08" y="537.85" width="2.585" height="1.42" fill="#3a2fbf"/>
<rect x="304.08" y="535.60" width="2.585" height="2.55" fill="#6a2aa8"/>
<rect x="304.08" y="533.35" width="2.585" height="2.55" fill="#93258f"/>
<rect x="304.08" y="531.35" width="2.585" height="2.30" fill="#fff12a"/>
<rect x="306.00" y="541.18" width="2.585" height="2.02" fill="#3ce8a8"/>
<rect x="306.00" y="540.02" width="2.585" height="1.47" fill="#3572d0"/>
<rect x="306.00" y="538.85" width="2.585" height="1.47" fill="#3a2fbf"/>
<rect x="306.00" y="536.52" width="2.585" height="2.63" fill="#93258f"/>
<rect x="306.00" y="535.35" width="2.585" height="1.47" fill="#7a1f4a"/>
<rect x="306.00" y="533.85" width="2.585" height="1.80" fill="#fff12a"/>
<rect x="307.93" y="541.14" width="2.585" height="2.06" fill="#3ce8a8"/>
<rect x="307.93" y="539.92" width="2.585" height="1.51" fill="#3572d0"/>
<rect x="307.93" y="538.71" width="2.585" height="1.51" fill="#6a2aa8"/>
<rect x="307.93" y="536.28" width="2.585" height="2.73" fill="#93258f"/>
<rect x="307.93" y="533.85" width="2.585" height="2.73" fill="#7a1f4a"/>
<rect x="307.93" y="531.35" width="2.585" height="2.80" fill="#fff12a"/>
<rect x="309.85" y="540.15" width="2.585" height="3.05" fill="#3ce8a8"/>
<rect x="309.85" y="536.85" width="2.585" height="3.60" fill="#38c8dc"/>
<rect x="309.85" y="535.75" width="2.585" height="1.40" fill="#3a2fbf"/>
<rect x="309.85" y="532.45" width="2.585" height="3.60" fill="#93258f"/>
<rect x="309.85" y="531.35" width="2.585" height="1.40" fill="#7a1f4a"/>
<rect x="309.85" y="528.85" width="2.585" height="2.80" fill="#fff12a"/>
<rect x="311.78" y="541.23" width="2.585" height="1.97" fill="#70f32f"/>
<rect x="311.78" y="538.98" width="2.585" height="2.55" fill="#38ef5c"/>
<rect x="311.78" y="537.85" width="2.585" height="1.42" fill="#7a1f4a"/>
<rect x="313.70" y="540.15" width="2.585" height="3.05" fill="#38c8dc"/>
<rect x="313.70" y="539.05" width="2.585" height="1.40" fill="#6a2aa8"/>
<rect x="313.70" y="536.85" width="2.585" height="2.50" fill="#93258f"/>
<rect x="315.63" y="541.27" width="2.585" height="1.93" fill="#38ef5c"/>
<rect x="315.63" y="540.18" width="2.585" height="1.38" fill="#3572d0"/>
<rect x="315.63" y="539.10" width="2.585" height="1.38" fill="#6a2aa8"/>
<rect x="315.63" y="535.85" width="2.585" height="3.55" fill="#7a1f4a"/>
<rect x="315.63" y="533.35" width="2.585" height="2.80" fill="#fff12a"/>
<rect x="317.56" y="541.23" width="2.585" height="1.97" fill="#3ce8a8"/>
<rect x="317.56" y="540.10" width="2.585" height="1.42" fill="#3572d0"/>
<rect x="317.56" y="538.98" width="2.585" height="1.42" fill="#3a2fbf"/>
<rect x="317.56" y="537.85" width="2.585" height="1.42" fill="#7a1f4a"/>
<rect x="317.56" y="535.85" width="2.585" height="2.30" fill="#fff12a"/>
<rect x="319.48" y="541.15" width="2.585" height="2.05" fill="#70f32f"/>
<rect x="319.48" y="538.75" width="2.585" height="2.70" fill="#3ce8a8"/>
<rect x="319.48" y="537.55" width="2.585" height="1.50" fill="#38c8dc"/>
<rect x="319.48" y="536.35" width="2.585" height="1.50" fill="#93258f"/>
<rect x="319.48" y="533.85" width="2.585" height="2.80" fill="#fff12a"/>
<rect x="321.41" y="541.85" width="2.585" height="1.35" fill="#7a1f4a"/>
<rect x="321.41" y="540.35" width="2.585" height="1.80" fill="#fff12a"/>
<rect x="323.33" y="540.35" width="2.585" height="2.85" fill="#3a2fbf"/>
<rect x="325.26" y="541.10" width="2.585" height="2.10" fill="#3572d0"/>
<rect x="325.26" y="539.85" width="2.585" height="1.55" fill="#93258f"/>
<rect x="327.18" y="541.23" width="2.585" height="1.97" fill="#38c8dc"/>
<rect x="327.18" y="540.10" width="2.585" height="1.42" fill="#3572d0"/>
<rect x="327.18" y="537.85" width="2.585" height="2.55" fill="#93258f"/>
<rect x="329.11" y="540.15" width="2.585" height="3.05" fill="#38c8dc"/>
<rect x="329.11" y="539.05" width="2.585" height="1.40" fill="#3a2fbf"/>
<rect x="329.11" y="537.95" width="2.585" height="1.40" fill="#6a2aa8"/>
<rect x="329.11" y="536.85" width="2.585" height="1.40" fill="#93258f"/>
<rect x="331.03" y="541.15" width="2.585" height="2.05" fill="#38ef5c"/>
<rect x="331.03" y="539.95" width="2.585" height="1.50" fill="#38c8dc"/>
<rect x="331.03" y="538.75" width="2.585" height="1.50" fill="#3a2fbf"/>
<rect x="331.03" y="536.35" width="2.585" height="2.70" fill="#7a1f4a"/>
<rect x="331.03" y="533.85" width="2.585" height="2.80" fill="#fff12a"/>
<rect x="332.96" y="539.99" width="2.585" height="3.21" fill="#38ef5c"/>
<rect x="332.96" y="538.80" width="2.585" height="1.48" fill="#3572d0"/>
<rect x="332.96" y="537.62" width="2.585" height="1.48" fill="#3a2fbf"/>
<rect x="332.96" y="535.26" width="2.585" height="2.66" fill="#6a2aa8"/>
<rect x="332.96" y="531.71" width="2.585" height="3.85" fill="#93258f"/>
<rect x="332.96" y="529.35" width="2.585" height="2.66" fill="#7a1f4a"/>
<rect x="332.96" y="526.85" width="2.585" height="2.80" fill="#fff12a"/>
<rect x="334.88" y="541.23" width="2.585" height="1.97" fill="#38c8dc"/>
<rect x="334.88" y="540.10" width="2.585" height="1.42" fill="#6a2aa8"/>
<rect x="334.88" y="538.98" width="2.585" height="1.42" fill="#93258f"/>
<rect x="334.88" y="537.85" width="2.585" height="1.42" fill="#7a1f4a"/>
<rect x="336.81" y="541.16" width="2.585" height="2.04" fill="#70f32f"/>
<rect x="336.81" y="539.98" width="2.585" height="1.49" fill="#3a2fbf"/>
<rect x="336.81" y="538.79" width="2.585" height="1.49" fill="#6a2aa8"/>
<rect x="336.81" y="534.04" width="2.585" height="5.05" fill="#93258f"/>
<rect x="336.81" y="532.85" width="2.585" height="1.49" fill="#7a1f4a"/>
<rect x="338.73" y="541.35" width="2.585" height="1.85" fill="#3572d0"/>
<rect x="338.73" y="538.35" width="2.585" height="3.30" fill="#fff12a"/>
<rect x="340.66" y="541.10" width="2.585" height="2.10" fill="#38ef5c"/>
<rect x="340.66" y="539.85" width="2.585" height="1.55" fill="#3ce8a8"/>
<rect x="340.66" y="538.60" width="2.585" height="1.55" fill="#38c8dc"/>
<rect x="340.66" y="537.35" width="2.585" height="1.55" fill="#6a2aa8"/>
<rect x="340.66" y="535.85" width="2.585" height="1.80" fill="#fff12a"/>
<rect x="342.58" y="541.35" width="2.585" height="1.85" fill="#38c8dc"/>
<rect x="342.58" y="540.35" width="2.585" height="1.30" fill="#6a2aa8"/>
<rect x="344.51" y="540.35" width="2.585" height="2.85" fill="#3a2fbf"/>
<rect x="344.51" y="539.35" width="2.585" height="1.30" fill="#93258f"/>
<rect x="346.43" y="541.35" width="2.585" height="1.85" fill="#38ef5c"/>
<rect x="346.43" y="540.35" width="2.585" height="1.30" fill="#6a2aa8"/>
<rect x="346.43" y="538.35" width="2.585" height="2.30" fill="#93258f"/>
<rect x="346.43" y="536.35" width="2.585" height="2.30" fill="#fff12a"/>
<rect x="348.36" y="541.10" width="2.585" height="2.10" fill="#3ce8a8"/>
<rect x="348.36" y="539.85" width="2.585" height="1.55" fill="#6a2aa8"/>
<rect x="348.36" y="537.85" width="2.585" height="2.30" fill="#fff12a"/>
<rect x="350.28" y="541.35" width="2.585" height="1.85" fill="#93258f"/>
<rect x="350.28" y="539.85" width="2.585" height="1.80" fill="#fff12a"/>
<rect x="352.21" y="541.10" width="2.585" height="2.10" fill="#38ef5c"/>
<rect x="352.21" y="539.85" width="2.585" height="1.55" fill="#7a1f4a"/>
<rect x="354.14" y="541.35" width="2.585" height="1.85" fill="#38c8dc"/>
<rect x="354.14" y="540.35" width="2.585" height="1.30" fill="#3572d0"/>
<rect x="354.14" y="539.35" width="2.585" height="1.30" fill="#3a2fbf"/>
<rect x="356.06" y="541.10" width="2.585" height="2.10" fill="#38c8dc"/>
<rect x="356.06" y="539.85" width="2.585" height="1.55" fill="#6a2aa8"/>
<rect x="357.99" y="541.10" width="2.585" height="2.10" fill="#38ef5c"/>
<rect x="357.99" y="539.85" width="2.585" height="1.55" fill="#3572d0"/>
<rect x="357.99" y="537.35" width="2.585" height="2.80" fill="#6a2aa8"/>
<rect x="357.99" y="534.85" width="2.585" height="2.80" fill="#fff12a"/>
<rect x="359.91" y="541.18" width="2.585" height="2.02" fill="#38ef5c"/>
<rect x="359.91" y="540.02" width="2.585" height="1.47" fill="#38c8dc"/>
<rect x="359.91" y="538.85" width="2.585" height="1.47" fill="#93258f"/>
<rect x="361.84" y="541.10" width="2.585" height="2.10" fill="#3572d0"/>
<rect x="361.84" y="539.85" width="2.585" height="1.55" fill="#7a1f4a"/>
<rect x="361.84" y="538.85" width="2.585" height="1.30" fill="#fff12a"/>
<rect x="363.76" y="541.35" width="2.585" height="1.85" fill="#3a2fbf"/>
<rect x="363.76" y="540.35" width="2.585" height="1.30" fill="#6a2aa8"/>
<rect x="363.76" y="539.35" width="2.585" height="1.30" fill="#93258f"/>
<rect x="363.76" y="535.85" width="2.585" height="3.80" fill="#fff12a"/>
<rect x="365.69" y="541.35" width="2.585" height="1.85" fill="#38ef5c"/>
<rect x="365.69" y="540.35" width="2.585" height="1.30" fill="#3572d0"/>
<rect x="365.69" y="539.35" width="2.585" height="1.30" fill="#6a2aa8"/>
<rect x="365.69" y="538.35" width="2.585" height="1.30" fill="#fff12a"/>
<rect x="367.61" y="541.35" width="2.585" height="1.85" fill="#70f32f"/>
<rect x="367.61" y="540.35" width="2.585" height="1.30" fill="#38ef5c"/>
<rect x="367.61" y="539.35" width="2.585" height="1.30" fill="#6a2aa8"/>
<rect x="367.61" y="538.35" width="2.585" height="1.30" fill="#93258f"/>
<rect x="367.61" y="535.85" width="2.585" height="2.80" fill="#fff12a"/>
<rect x="369.54" y="541.21" width="2.585" height="1.99" fill="#38c8dc"/>
<rect x="369.54" y="538.92" width="2.585" height="2.59" fill="#3a2fbf"/>
<rect x="369.54" y="537.78" width="2.585" height="1.44" fill="#6a2aa8"/>
<rect x="369.54" y="536.64" width="2.585" height="1.44" fill="#93258f"/>
<rect x="369.54" y="534.35" width="2.585" height="2.59" fill="#7a1f4a"/>
<rect x="369.54" y="532.85" width="2.585" height="1.80" fill="#fff12a"/>
<rect x="371.46" y="541.21" width="2.585" height="1.99" fill="#38ef5c"/>
<rect x="371.46" y="537.78" width="2.585" height="3.73" fill="#38c8dc"/>
<rect x="371.46" y="536.64" width="2.585" height="1.44" fill="#6a2aa8"/>
<rect x="371.46" y="535.49" width="2.585" height="1.44" fill="#93258f"/>
<rect x="371.46" y="534.35" width="2.585" height="1.44" fill="#7a1f4a"/>
<rect x="373.39" y="539.85" width="2.585" height="3.35" fill="#3ce8a8"/>
<rect x="373.39" y="538.60" width="2.585" height="1.55" fill="#38c8dc"/>
<rect x="373.39" y="537.35" width="2.585" height="1.55" fill="#3a2fbf"/>
<rect x="373.39" y="535.35" width="2.585" height="2.30" fill="#fff12a"/>
<rect x="375.31" y="541.35" width="2.585" height="1.85" fill="#38ef5c"/>
<rect x="375.31" y="540.35" width="2.585" height="1.30" fill="#38c8dc"/>
<rect x="375.31" y="539.35" width="2.585" height="1.30" fill="#6a2aa8"/>
<rect x="375.31" y="538.35" width="2.585" height="1.30" fill="#93258f"/>
<rect x="375.31" y="536.35" width="2.585" height="2.30" fill="#fff12a"/>
<rect x="377.24" y="541.10" width="2.585" height="2.10" fill="#38c8dc"/>
<rect x="377.24" y="539.85" width="2.585" height="1.55" fill="#93258f"/>
<rect x="379.16" y="540.35" width="2.585" height="2.85" fill="#93258f"/>
<rect x="379.16" y="538.35" width="2.585" height="2.30" fill="#7a1f4a"/>
<rect x="379.16" y="536.85" width="2.585" height="1.80" fill="#fff12a"/>
<rect x="381.09" y="540.10" width="2.585" height="3.10" fill="#38ef5c"/>
<rect x="381.09" y="538.98" width="2.585" height="1.42" fill="#3572d0"/>
<rect x="381.09" y="537.85" width="2.585" height="1.42" fill="#6a2aa8"/>
<rect x="383.01" y="540.85" width="2.585" height="2.35" fill="#7a1f4a"/>
<rect x="383.01" y="539.35" width="2.585" height="1.80" fill="#fff12a"/>
<rect x="384.94" y="541.35" width="2.585" height="1.85" fill="#3572d0"/>
<rect x="386.87" y="540.85" width="2.585" height="2.35" fill="#fff12a"/>
<rect x="388.79" y="540.85" width="2.585" height="2.35" fill="#fff12a"/>
<rect x="390.72" y="541.35" width="2.585" height="1.85" fill="#fff12a"/>
<rect x="392.64" y="541.15" width="2.585" height="2.05" fill="#3a2fbf"/>
<rect x="392.64" y="536.35" width="2.585" height="5.10" fill="#93258f"/>
<rect x="392.64" y="532.85" width="2.585" height="3.80" fill="#fff12a"/>
<rect x="394.57" y="541.35" width="2.585" height="1.85" fill="#70f32f"/>
<rect x="394.57" y="539.35" width="2.585" height="2.30" fill="#6a2aa8"/>
<rect x="394.57" y="538.35" width="2.585" height="1.30" fill="#93258f"/>
<rect x="394.57" y="536.35" width="2.585" height="2.30" fill="#fff12a"/>
<rect x="396.49" y="541.35" width="2.585" height="1.85" fill="#3ce8a8"/>
<rect x="396.49" y="540.35" width="2.585" height="1.30" fill="#3a2fbf"/>
<rect x="396.49" y="539.35" width="2.585" height="1.30" fill="#6a2aa8"/>
<rect x="396.49" y="538.35" width="2.585" height="1.30" fill="#7a1f4a"/>
<rect x="398.42" y="541.35" width="2.585" height="1.85" fill="#38ef5c"/>
<rect x="398.42" y="540.35" width="2.585" height="1.30" fill="#3a2fbf"/>
<rect x="398.42" y="539.35" width="2.585" height="1.30" fill="#6a2aa8"/>
<rect x="398.42" y="538.35" width="2.585" height="1.30" fill="#93258f"/>
<rect x="400.34" y="541.20" width="2.585" height="2.00" fill="#70f32f"/>
<rect x="400.34" y="540.04" width="2.585" height="1.45" fill="#3ce8a8"/>
<rect x="400.34" y="536.58" width="2.585" height="3.76" fill="#3572d0"/>
<rect x="400.34" y="534.27" width="2.585" height="2.61" fill="#3a2fbf"/>
<rect x="400.34" y="531.97" width="2.585" height="2.61" fill="#93258f"/>
<rect x="400.34" y="527.35" width="2.585" height="4.92" fill="#7a1f4a"/>
<rect x="400.34" y="524.85" width="2.585" height="2.80" fill="#fff12a"/>
<rect x="402.27" y="541.21" width="2.585" height="1.99" fill="#38ef5c"/>
<rect x="402.27" y="537.80" width="2.585" height="3.71" fill="#3ce8a8"/>
<rect x="402.27" y="536.67" width="2.585" height="1.44" fill="#38c8dc"/>
<rect x="402.27" y="534.40" width="2.585" height="2.57" fill="#3572d0"/>
<rect x="402.27" y="533.26" width="2.585" height="1.44" fill="#3a2fbf"/>
<rect x="402.27" y="532.12" width="2.585" height="1.44" fill="#6a2aa8"/>
<rect x="402.27" y="530.99" width="2.585" height="1.44" fill="#93258f"/>
<rect x="402.27" y="529.85" width="2.585" height="1.44" fill="#7a1f4a"/>
<rect x="404.19" y="541.21" width="2.585" height="1.99" fill="#70f32f"/>
<rect x="404.19" y="537.80" width="2.585" height="3.71" fill="#38ef5c"/>
<rect x="404.19" y="535.53" width="2.585" height="2.57" fill="#3ce8a8"/>
<rect x="404.19" y="534.40" width="2.585" height="1.44" fill="#3a2fbf"/>
<rect x="404.19" y="532.12" width="2.585" height="2.57" fill="#6a2aa8"/>
<rect x="404.19" y="529.85" width="2.585" height="2.57" fill="#93258f"/>
<rect x="406.12" y="541.18" width="2.585" height="2.02" fill="#3ce8a8"/>
<rect x="406.12" y="540.02" width="2.585" height="1.47" fill="#3a2fbf"/>
<rect x="406.12" y="538.85" width="2.585" height="1.47" fill="#7a1f4a"/>
<rect x="408.04" y="536.64" width="2.585" height="6.56" fill="#38ef5c"/>
<rect x="408.04" y="535.49" width="2.585" height="1.44" fill="#3ce8a8"/>
<rect x="408.04" y="534.35" width="2.585" height="1.44" fill="#6a2aa8"/>
<rect x="409.97" y="541.85" width="2.585" height="1.35" fill="#38ef5c"/>
<rect x="411.89" y="541.35" width="2.585" height="1.85" fill="#fff12a"/>
<rect x="413.82" y="541.35" width="2.585" height="1.85" fill="#fff12a"/>
<rect x="415.74" y="541.85" width="2.585" height="1.35" fill="#38ef5c"/>
<rect x="417.67" y="541.35" width="2.585" height="1.85" fill="#fff12a"/>
<rect x="419.60" y="541.35" width="2.585" height="1.85" fill="#38ef5c"/>
<rect x="419.60" y="539.35" width="2.585" height="2.30" fill="#fff12a"/>
<rect x="421.52" y="541.35" width="2.585" height="1.85" fill="#fff12a"/>
<rect x="423.45" y="541.35" width="2.585" height="1.85" fill="#38ef5c"/>
<rect x="423.45" y="539.35" width="2.585" height="2.30" fill="#3ce8a8"/>
<rect x="423.45" y="537.35" width="2.585" height="2.30" fill="#fff12a"/>
<rect x="425.37" y="541.35" width="2.585" height="1.85" fill="#fff12a"/>
<rect x="427.30" y="540.85" width="2.585" height="2.35" fill="#3ce8a8"/>
<rect x="427.30" y="538.85" width="2.585" height="2.30" fill="#fff12a"/>
<rect x="429.22" y="541.35" width="2.585" height="1.85" fill="#38c8dc"/>
<rect x="431.15" y="541.23" width="2.585" height="1.97" fill="#70f32f"/>
<rect x="431.15" y="538.98" width="2.585" height="2.55" fill="#38ef5c"/>
<rect x="431.15" y="537.85" width="2.585" height="1.42" fill="#3ce8a8"/>
<rect x="431.15" y="535.35" width="2.585" height="2.80" fill="#fff12a"/>
<rect x="433.07" y="536.85" width="2.585" height="6.35" fill="#38ef5c"/>
<rect x="433.07" y="535.75" width="2.585" height="1.40" fill="#38c8dc"/>
<rect x="433.07" y="533.55" width="2.585" height="2.50" fill="#3a2fbf"/>
<rect x="433.07" y="531.35" width="2.585" height="2.50" fill="#93258f"/>
<rect x="433.07" y="528.35" width="2.585" height="3.30" fill="#fff12a"/>
<rect x="435.00" y="541.18" width="2.585" height="2.02" fill="#70f32f"/>
<rect x="435.00" y="540.02" width="2.585" height="1.47" fill="#38ef5c"/>
<rect x="435.00" y="538.85" width="2.585" height="1.47" fill="#6a2aa8"/>
<rect x="435.00" y="536.85" width="2.585" height="2.30" fill="#fff12a"/>
<rect x="436.92" y="541.85" width="2.585" height="1.35" fill="#3ce8a8"/>
<rect x="436.92" y="540.35" width="2.585" height="1.80" fill="#fff12a"/>
<rect x="438.85" y="538.79" width="2.585" height="4.41" fill="#38ef5c"/>
<rect x="438.85" y="537.60" width="2.585" height="1.49" fill="#3ce8a8"/>
<rect x="438.85" y="536.41" width="2.585" height="1.49" fill="#38c8dc"/>
<rect x="438.85" y="534.04" width="2.585" height="2.67" fill="#3a2fbf"/>
<rect x="438.85" y="532.85" width="2.585" height="1.49" fill="#6a2aa8"/>
<rect x="438.85" y="529.85" width="2.585" height="3.30" fill="#fff12a"/>
<rect x="440.77" y="539.05" width="2.585" height="4.15" fill="#3ce8a8"/>
<rect x="440.77" y="537.95" width="2.585" height="1.40" fill="#38c8dc"/>
<rect x="440.77" y="536.85" width="2.585" height="1.40" fill="#93258f"/>
<rect x="440.77" y="534.35" width="2.585" height="2.80" fill="#fff12a"/>
<rect x="442.70" y="540.85" width="2.585" height="2.35" fill="#38ef5c"/>
<rect x="444.62" y="541.23" width="2.585" height="1.97" fill="#70f32f"/>
<rect x="444.62" y="538.98" width="2.585" height="2.55" fill="#38ef5c"/>
<rect x="444.62" y="537.85" width="2.585" height="1.42" fill="#7a1f4a"/>
<rect x="444.62" y="533.35" width="2.585" height="4.80" fill="#fff12a"/>
<rect x="446.55" y="540.02" width="2.585" height="3.18" fill="#3ce8a8"/>
<rect x="446.55" y="538.85" width="2.585" height="1.47" fill="#3572d0"/>
<rect x="446.55" y="536.85" width="2.585" height="2.30" fill="#fff12a"/>
<rect x="448.47" y="539.85" width="2.585" height="3.35" fill="#38ef5c"/>
<rect x="450.40" y="539.95" width="2.585" height="3.25" fill="#38ef5c"/>
<rect x="450.40" y="538.75" width="2.585" height="1.50" fill="#3ce8a8"/>
<rect x="450.40" y="537.55" width="2.585" height="1.50" fill="#3a2fbf"/>
<rect x="450.40" y="536.35" width="2.585" height="1.50" fill="#7a1f4a"/>
<rect x="452.33" y="541.18" width="2.585" height="2.02" fill="#38ef5c"/>
<rect x="452.33" y="537.68" width="2.585" height="3.80" fill="#3ce8a8"/>
<rect x="452.33" y="536.52" width="2.585" height="1.47" fill="#38c8dc"/>
<rect x="452.33" y="535.35" width="2.585" height="1.47" fill="#3a2fbf"/>
<rect x="452.33" y="533.85" width="2.585" height="1.80" fill="#fff12a"/>
<rect x="454.25" y="540.02" width="2.585" height="3.18" fill="#38ef5c"/>
<rect x="454.25" y="538.85" width="2.585" height="1.47" fill="#3a2fbf"/>
<rect x="456.18" y="541.10" width="2.585" height="2.10" fill="#3ce8a8"/>
<rect x="456.18" y="539.85" width="2.585" height="1.55" fill="#38c8dc"/>
<rect x="456.18" y="538.35" width="2.585" height="1.80" fill="#fff12a"/>
<rect x="458.10" y="541.35" width="2.585" height="1.85" fill="#3ce8a8"/>
<rect x="458.10" y="540.35" width="2.585" height="1.30" fill="#fff12a"/>
<rect x="460.03" y="541.35" width="2.585" height="1.85" fill="#70f32f"/>
<rect x="460.03" y="540.35" width="2.585" height="1.30" fill="#38ef5c"/>
<rect x="460.03" y="539.35" width="2.585" height="1.30" fill="#3572d0"/>
<rect x="460.03" y="537.85" width="2.585" height="1.80" fill="#fff12a"/>
<rect x="461.95" y="541.18" width="2.585" height="2.02" fill="#70f32f"/>
<rect x="461.95" y="536.52" width="2.585" height="4.97" fill="#38ef5c"/>
<rect x="461.95" y="535.35" width="2.585" height="1.47" fill="#3572d0"/>
<rect x="461.95" y="533.35" width="2.585" height="2.30" fill="#fff12a"/>
<rect x="463.88" y="536.60" width="2.585" height="6.60" fill="#38ef5c"/>
<rect x="463.88" y="533.15" width="2.585" height="3.75" fill="#3ce8a8"/>
<rect x="463.88" y="532.00" width="2.585" height="1.45" fill="#38c8dc"/>
<rect x="463.88" y="530.85" width="2.585" height="1.45" fill="#93258f"/>
<rect x="463.88" y="527.35" width="2.585" height="3.80" fill="#fff12a"/>
<rect x="465.80" y="541.20" width="2.585" height="2.00" fill="#70f32f"/>
<rect x="465.80" y="537.75" width="2.585" height="3.75" fill="#38ef5c"/>
<rect x="465.80" y="535.45" width="2.585" height="2.60" fill="#3ce8a8"/>
<rect x="465.80" y="533.15" width="2.585" height="2.60" fill="#38c8dc"/>
<rect x="465.80" y="532.00" width="2.585" height="1.45" fill="#3a2fbf"/>
<rect x="465.80" y="530.85" width="2.585" height="1.45" fill="#93258f"/>
<rect x="465.80" y="523.85" width="2.585" height="7.30" fill="#fff12a"/>
<rect x="467.73" y="541.23" width="2.585" height="1.97" fill="#38ef5c"/>
<rect x="467.73" y="538.98" width="2.585" height="2.55" fill="#3ce8a8"/>
<rect x="467.73" y="537.85" width="2.585" height="1.42" fill="#38c8dc"/>
<rect x="467.73" y="533.85" width="2.585" height="4.30" fill="#fff12a"/>
<rect x="469.65" y="538.98" width="2.585" height="4.22" fill="#38ef5c"/>
<rect x="469.65" y="534.48" width="2.585" height="4.80" fill="#3ce8a8"/>
<rect x="469.65" y="532.23" width="2.585" height="2.55" fill="#38c8dc"/>
<rect x="469.65" y="529.98" width="2.585" height="2.55" fill="#3572d0"/>
<rect x="469.65" y="528.85" width="2.585" height="1.42" fill="#3a2fbf"/>
<rect x="469.65" y="517.85" width="2.585" height="11.30" fill="#fff12a"/>
<rect x="471.58" y="541.20" width="2.585" height="2.00" fill="#70f32f"/>
<rect x="471.58" y="537.75" width="2.585" height="3.75" fill="#38ef5c"/>
<rect x="471.58" y="534.30" width="2.585" height="3.75" fill="#3ce8a8"/>
<rect x="471.58" y="533.15" width="2.585" height="1.45" fill="#38c8dc"/>
<rect x="471.58" y="532.00" width="2.585" height="1.45" fill="#3572d0"/>
<rect x="471.58" y="530.85" width="2.585" height="1.45" fill="#3a2fbf"/>
<rect x="473.50" y="540.05" width="2.585" height="3.15" fill="#38ef5c"/>
<rect x="473.50" y="536.60" width="2.585" height="3.75" fill="#3ce8a8"/>
<rect x="473.50" y="532.00" width="2.585" height="4.90" fill="#38c8dc"/>
<rect x="473.50" y="530.85" width="2.585" height="1.45" fill="#3572d0"/>
<rect x="473.50" y="527.85" width="2.585" height="3.30" fill="#fff12a"/>
<rect x="475.43" y="541.14" width="2.585" height="2.06" fill="#70f32f"/>
<rect x="475.43" y="539.92" width="2.585" height="1.51" fill="#38ef5c"/>
<rect x="475.43" y="536.28" width="2.585" height="3.94" fill="#3ce8a8"/>
<rect x="475.43" y="535.06" width="2.585" height="1.51" fill="#38c8dc"/>
<rect x="475.43" y="533.85" width="2.585" height="1.51" fill="#3a2fbf"/>
<rect x="475.43" y="531.85" width="2.585" height="2.30" fill="#fff12a"/>
<rect x="477.35" y="537.68" width="2.585" height="5.52" fill="#38ef5c"/>
<rect x="477.35" y="534.18" width="2.585" height="3.80" fill="#3ce8a8"/>
<rect x="477.35" y="533.02" width="2.585" height="1.47" fill="#38c8dc"/>
<rect x="477.35" y="531.85" width="2.585" height="1.47" fill="#3572d0"/>
<rect x="477.35" y="527.85" width="2.585" height="4.30" fill="#fff12a"/>
<rect x="479.28" y="536.52" width="2.585" height="6.68" fill="#38ef5c"/>
<rect x="479.28" y="535.35" width="2.585" height="1.47" fill="#3ce8a8"/>
<rect x="479.28" y="533.02" width="2.585" height="2.63" fill="#38c8dc"/>
<rect x="479.28" y="531.85" width="2.585" height="1.47" fill="#7a1f4a"/>
<rect x="479.28" y="528.85" width="2.585" height="3.30" fill="#fff12a"/>
<rect x="481.20" y="541.28" width="2.585" height="1.92" fill="#38ef5c"/>
<rect x="481.20" y="540.21" width="2.585" height="1.37" fill="#38c8dc"/>
<rect x="481.20" y="539.14" width="2.585" height="1.37" fill="#3572d0"/>
<rect x="481.20" y="536.99" width="2.585" height="2.44" fill="#6a2aa8"/>
<rect x="481.20" y="535.92" width="2.585" height="1.37" fill="#93258f"/>
<rect x="481.20" y="534.85" width="2.585" height="1.37" fill="#7a1f4a"/>
<rect x="481.20" y="531.85" width="2.585" height="3.30" fill="#fff12a"/>
<rect x="483.13" y="536.52" width="2.585" height="6.68" fill="#38ef5c"/>
<rect x="483.13" y="533.02" width="2.585" height="3.80" fill="#3ce8a8"/>
<rect x="483.13" y="531.85" width="2.585" height="1.47" fill="#6a2aa8"/>
<rect x="483.13" y="528.85" width="2.585" height="3.30" fill="#fff12a"/>
<rect x="485.06" y="538.94" width="2.585" height="4.26" fill="#70f32f"/>
<rect x="485.06" y="535.53" width="2.585" height="3.71" fill="#38ef5c"/>
<rect x="485.06" y="532.12" width="2.585" height="3.71" fill="#38c8dc"/>
<rect x="485.06" y="529.85" width="2.585" height="2.57" fill="#3572d0"/>
<rect x="485.06" y="527.85" width="2.585" height="2.30" fill="#fff12a"/>
<rect x="486.98" y="541.10" width="2.585" height="2.10" fill="#3ce8a8"/>
<rect x="486.98" y="539.85" width="2.585" height="1.55" fill="#93258f"/>
<rect x="486.98" y="538.85" width="2.585" height="1.30" fill="#fff12a"/>
<rect x="488.91" y="540.18" width="2.585" height="3.02" fill="#3ce8a8"/>
<rect x="488.91" y="538.02" width="2.585" height="2.47" fill="#38c8dc"/>
<rect x="488.91" y="536.93" width="2.585" height="1.38" fill="#3a2fbf"/>
<rect x="488.91" y="535.85" width="2.585" height="1.38" fill="#6a2aa8"/>
<rect x="488.91" y="532.85" width="2.585" height="3.30" fill="#fff12a"/>
<rect x="490.83" y="541.20" width="2.585" height="2.00" fill="#70f32f"/>
<rect x="490.83" y="538.90" width="2.585" height="2.60" fill="#38ef5c"/>
<rect x="490.83" y="535.45" width="2.585" height="3.75" fill="#3ce8a8"/>
<rect x="490.83" y="532.00" width="2.585" height="3.75" fill="#38c8dc"/>
<rect x="490.83" y="530.85" width="2.585" height="1.45" fill="#3a2fbf"/>
<rect x="492.76" y="538.98" width="2.585" height="4.22" fill="#70f32f"/>
<rect x="492.76" y="535.60" width="2.585" height="3.67" fill="#38ef5c"/>
<rect x="492.76" y="531.10" width="2.585" height="4.80" fill="#3ce8a8"/>
<rect x="492.76" y="529.98" width="2.585" height="1.42" fill="#93258f"/>
<rect x="492.76" y="528.85" width="2.585" height="1.42" fill="#7a1f4a"/>
<rect x="492.76" y="527.85" width="2.585" height="1.30" fill="#fff12a"/>
<rect x="494.68" y="541.25" width="2.585" height="1.95" fill="#38ef5c"/>
<rect x="494.68" y="540.15" width="2.585" height="1.40" fill="#38c8dc"/>
<rect x="494.68" y="537.95" width="2.585" height="2.50" fill="#3a2fbf"/>
<rect x="494.68" y="536.85" width="2.585" height="1.40" fill="#93258f"/>
<rect x="494.68" y="535.35" width="2.585" height="1.80" fill="#fff12a"/>
<rect x="496.61" y="541.10" width="2.585" height="2.10" fill="#38ef5c"/>
<rect x="496.61" y="539.85" width="2.585" height="1.55" fill="#3572d0"/>
<rect x="496.61" y="538.35" width="2.585" height="1.80" fill="#fff12a"/>
<rect x="498.53" y="540.10" width="2.585" height="3.10" fill="#38ef5c"/>
<rect x="498.53" y="538.98" width="2.585" height="1.42" fill="#38c8dc"/>
<rect x="498.53" y="537.85" width="2.585" height="1.42" fill="#93258f"/>
<rect x="498.53" y="536.35" width="2.585" height="1.80" fill="#fff12a"/>
<rect x="500.46" y="541.27" width="2.585" height="1.93" fill="#70f32f"/>
<rect x="500.46" y="538.02" width="2.585" height="3.55" fill="#38ef5c"/>
<rect x="500.46" y="536.93" width="2.585" height="1.38" fill="#3572d0"/>
<rect x="500.46" y="535.85" width="2.585" height="1.38" fill="#3a2fbf"/>
<rect x="500.46" y="533.85" width="2.585" height="2.30" fill="#fff12a"/>
<rect x="502.38" y="541.20" width="2.585" height="2.00" fill="#70f32f"/>
<rect x="502.38" y="532.03" width="2.585" height="9.48" fill="#38ef5c"/>
<rect x="502.38" y="528.59" width="2.585" height="3.74" fill="#3ce8a8"/>
<rect x="502.38" y="524.00" width="2.585" height="4.89" fill="#38c8dc"/>
<rect x="502.38" y="522.85" width="2.585" height="1.45" fill="#6a2aa8"/>
<rect x="502.38" y="515.85" width="2.585" height="7.30" fill="#fff12a"/>
<rect x="504.31" y="534.18" width="2.585" height="9.02" fill="#38ef5c"/>
<rect x="504.31" y="531.85" width="2.585" height="2.63" fill="#3ce8a8"/>
<rect x="506.23" y="541.23" width="2.585" height="1.97" fill="#70f32f"/>
<rect x="506.23" y="535.60" width="2.585" height="5.93" fill="#38ef5c"/>
<rect x="506.23" y="531.10" width="2.585" height="4.80" fill="#3ce8a8"/>
<rect x="506.23" y="528.85" width="2.585" height="2.55" fill="#38c8dc"/>
<rect x="506.23" y="524.85" width="2.585" height="4.30" fill="#fff12a"/>
<rect x="508.16" y="540.15" width="2.585" height="3.05" fill="#38ef5c"/>
<rect x="508.16" y="535.75" width="2.585" height="4.70" fill="#3ce8a8"/>
<rect x="508.16" y="532.45" width="2.585" height="3.60" fill="#3572d0"/>
<rect x="508.16" y="531.35" width="2.585" height="1.40" fill="#7a1f4a"/>
<rect x="508.16" y="527.85" width="2.585" height="3.80" fill="#fff12a"/>
<rect x="510.08" y="540.10" width="2.585" height="3.10" fill="#38ef5c"/>
<rect x="510.08" y="537.85" width="2.585" height="2.55" fill="#38c8dc"/>
<rect x="510.08" y="534.85" width="2.585" height="3.30" fill="#fff12a"/>
<rect x="512.01" y="541.23" width="2.585" height="1.97" fill="#38ef5c"/>
<rect x="512.01" y="538.98" width="2.585" height="2.55" fill="#3ce8a8"/>
<rect x="512.01" y="537.85" width="2.585" height="1.42" fill="#38c8dc"/>
<rect x="512.01" y="535.85" width="2.585" height="2.30" fill="#fff12a"/>
<rect x="513.93" y="537.85" width="2.585" height="5.35" fill="#38ef5c"/>
<rect x="513.93" y="536.35" width="2.585" height="1.80" fill="#fff12a"/>
<rect x="515.86" y="538.85" width="2.585" height="4.35" fill="#38ef5c"/>
<rect x="515.86" y="536.52" width="2.585" height="2.63" fill="#3ce8a8"/>
<rect x="515.86" y="535.35" width="2.585" height="1.47" fill="#3572d0"/>
<rect x="515.86" y="534.18" width="2.585" height="1.47" fill="#3a2fbf"/>
<rect x="515.86" y="531.85" width="2.585" height="2.63" fill="#6a2aa8"/>
<rect x="517.78" y="541.23" width="2.585" height="1.97" fill="#70f32f"/>
<rect x="517.78" y="536.73" width="2.585" height="4.80" fill="#38ef5c"/>
<rect x="517.78" y="534.48" width="2.585" height="2.55" fill="#3ce8a8"/>
<rect x="517.78" y="533.35" width="2.585" height="1.42" fill="#38c8dc"/>
<rect x="517.78" y="532.23" width="2.585" height="1.42" fill="#3572d0"/>
<rect x="517.78" y="531.10" width="2.585" height="1.42" fill="#3a2fbf"/>
<rect x="517.78" y="529.98" width="2.585" height="1.42" fill="#6a2aa8"/>
<rect x="517.78" y="528.85" width="2.585" height="1.42" fill="#93258f"/>
<rect x="517.78" y="525.85" width="2.585" height="3.30" fill="#fff12a"/>
<rect x="519.71" y="540.02" width="2.585" height="3.18" fill="#38ef5c"/>
<rect x="519.71" y="538.85" width="2.585" height="1.47" fill="#3ce8a8"/>
<rect x="519.71" y="537.68" width="2.585" height="1.47" fill="#38c8dc"/>
<rect x="519.71" y="535.35" width="2.585" height="2.63" fill="#3a2fbf"/>
<rect x="519.71" y="533.85" width="2.585" height="1.80" fill="#fff12a"/>
<rect x="521.64" y="539.85" width="2.585" height="3.35" fill="#38ef5c"/>
<rect x="521.64" y="538.85" width="2.585" height="1.30" fill="#fff12a"/>
<rect x="523.56" y="539.05" width="2.585" height="4.15" fill="#38ef5c"/>
<rect x="523.56" y="537.95" width="2.585" height="1.40" fill="#38c8dc"/>
<rect x="523.56" y="536.85" width="2.585" height="1.40" fill="#3a2fbf"/>
<rect x="523.56" y="534.85" width="2.585" height="2.30" fill="#fff12a"/>
<rect x="525.49" y="541.24" width="2.585" height="1.96" fill="#70f32f"/>
<rect x="525.49" y="535.71" width="2.585" height="5.84" fill="#38ef5c"/>
<rect x="525.49" y="534.60" width="2.585" height="1.41" fill="#3ce8a8"/>
<rect x="525.49" y="532.39" width="2.585" height="2.51" fill="#38c8dc"/>
<rect x="525.49" y="529.06" width="2.585" height="3.62" fill="#3572d0"/>
<rect x="525.49" y="527.96" width="2.585" height="1.41" fill="#3a2fbf"/>
<rect x="525.49" y="526.85" width="2.585" height="1.41" fill="#6a2aa8"/>
<rect x="525.49" y="525.85" width="2.585" height="1.30" fill="#fff12a"/>
<rect x="527.41" y="541.23" width="2.585" height="1.97" fill="#70f32f"/>
<rect x="527.41" y="538.98" width="2.585" height="2.55" fill="#38ef5c"/>
<rect x="527.41" y="537.85" width="2.585" height="1.42" fill="#38c8dc"/>
<rect x="527.41" y="536.35" width="2.585" height="1.80" fill="#fff12a"/>
<rect x="529.34" y="538.85" width="2.585" height="4.35" fill="#38ef5c"/>
<rect x="529.34" y="537.35" width="2.585" height="1.80" fill="#fff12a"/>
<rect x="531.26" y="541.35" width="2.585" height="1.85" fill="#38ef5c"/>
<rect x="531.26" y="540.35" width="2.585" height="1.30" fill="#3ce8a8"/>
<rect x="531.26" y="539.35" width="2.585" height="1.30" fill="#3572d0"/>
<rect x="531.26" y="537.85" width="2.585" height="1.80" fill="#fff12a"/>
<rect x="533.19" y="541.28" width="2.585" height="1.92" fill="#70f32f"/>
<rect x="533.19" y="536.99" width="2.585" height="4.59" fill="#38ef5c"/>
<rect x="533.19" y="535.92" width="2.585" height="1.37" fill="#3ce8a8"/>
<rect x="533.19" y="534.85" width="2.585" height="1.37" fill="#3a2fbf"/>
<rect x="533.19" y="532.85" width="2.585" height="2.30" fill="#fff12a"/>
<rect x="535.11" y="540.10" width="2.585" height="3.10" fill="#38ef5c"/>
<rect x="535.11" y="537.85" width="2.585" height="2.55" fill="#3ce8a8"/>
<rect x="537.04" y="541.35" width="2.585" height="1.85" fill="#70f32f"/>
<rect x="537.04" y="538.35" width="2.585" height="3.30" fill="#38ef5c"/>
<rect x="537.04" y="536.85" width="2.585" height="1.80" fill="#fff12a"/>
<rect x="538.96" y="538.92" width="2.585" height="4.28" fill="#38ef5c"/>
<rect x="538.96" y="537.78" width="2.585" height="1.44" fill="#3ce8a8"/>
<rect x="538.96" y="535.49" width="2.585" height="2.59" fill="#38c8dc"/>
<rect x="538.96" y="534.35" width="2.585" height="1.44" fill="#3572d0"/>
<rect x="538.96" y="531.85" width="2.585" height="2.80" fill="#fff12a"/>
<rect x="540.89" y="541.10" width="2.585" height="2.10" fill="#38ef5c"/>
<rect x="540.89" y="539.85" width="2.585" height="1.55" fill="#3ce8a8"/>
<rect x="540.89" y="538.85" width="2.585" height="1.30" fill="#fff12a"/>
<rect x="542.81" y="541.20" width="2.585" height="2.00" fill="#70f32f"/>
<rect x="542.81" y="535.45" width="2.585" height="6.05" fill="#38ef5c"/>
<rect x="542.81" y="534.30" width="2.585" height="1.45" fill="#3ce8a8"/>
<rect x="542.81" y="532.00" width="2.585" height="2.60" fill="#38c8dc"/>
<rect x="542.81" y="530.85" width="2.585" height="1.45" fill="#93258f"/>
<rect x="544.74" y="540.35" width="2.585" height="2.85" fill="#38ef5c"/>
<rect x="544.74" y="538.35" width="2.585" height="2.30" fill="#38c8dc"/>
<rect x="544.74" y="537.35" width="2.585" height="1.30" fill="#fff12a"/>
<rect x="546.66" y="539.85" width="2.585" height="3.35" fill="#38ef5c"/>
<rect x="546.66" y="538.60" width="2.585" height="1.55" fill="#3572d0"/>
<rect x="546.66" y="537.35" width="2.585" height="1.55" fill="#93258f"/>
<rect x="546.66" y="536.35" width="2.585" height="1.30" fill="#fff12a"/>
<rect x="548.59" y="541.35" width="2.585" height="1.85" fill="#3ce8a8"/>
<rect x="548.59" y="540.35" width="2.585" height="1.30" fill="#fff12a"/>
<rect x="550.51" y="541.23" width="2.585" height="1.97" fill="#38ef5c"/>
<rect x="550.51" y="538.98" width="2.585" height="2.55" fill="#3ce8a8"/>
<rect x="550.51" y="537.85" width="2.585" height="1.42" fill="#3a2fbf"/>
<rect x="550.51" y="534.85" width="2.585" height="3.30" fill="#fff12a"/>
<rect x="552.44" y="540.10" width="2.585" height="3.10" fill="#38ef5c"/>
<rect x="552.44" y="538.98" width="2.585" height="1.42" fill="#3ce8a8"/>
<rect x="552.44" y="537.85" width="2.585" height="1.42" fill="#6a2aa8"/>
<rect x="552.44" y="535.85" width="2.585" height="2.30" fill="#fff12a"/>
<rect x="554.37" y="541.28" width="2.585" height="1.92" fill="#70f32f"/>
<rect x="554.37" y="538.06" width="2.585" height="3.51" fill="#38ef5c"/>
<rect x="554.37" y="536.99" width="2.585" height="1.37" fill="#3ce8a8"/>
<rect x="554.37" y="534.85" width="2.585" height="2.44" fill="#38c8dc"/>
<rect x="554.37" y="531.85" width="2.585" height="3.30" fill="#fff12a"/>
<rect x="556.29" y="541.10" width="2.585" height="2.10" fill="#70f32f"/>
<rect x="556.29" y="538.60" width="2.585" height="2.80" fill="#38ef5c"/>
<rect x="556.29" y="537.35" width="2.585" height="1.55" fill="#3ce8a8"/>
<rect x="556.29" y="535.35" width="2.585" height="2.30" fill="#fff12a"/>
<rect x="558.22" y="541.21" width="2.585" height="1.99" fill="#70f32f"/>
<rect x="558.22" y="536.67" width="2.585" height="4.85" fill="#38ef5c"/>
<rect x="558.22" y="534.40" width="2.585" height="2.57" fill="#3ce8a8"/>
<rect x="558.22" y="530.99" width="2.585" height="3.71" fill="#38c8dc"/>
<rect x="558.22" y="529.85" width="2.585" height="1.44" fill="#3572d0"/>
<rect x="558.22" y="524.85" width="2.585" height="5.30" fill="#fff12a"/>
<rect x="560.14" y="538.94" width="2.585" height="4.26" fill="#70f32f"/>
<rect x="560.14" y="533.26" width="2.585" height="5.98" fill="#38ef5c"/>
<rect x="560.14" y="532.12" width="2.585" height="1.44" fill="#3ce8a8"/>
<rect x="560.14" y="530.99" width="2.585" height="1.44" fill="#38c8dc"/>
<rect x="560.14" y="529.85" width="2.585" height="1.44" fill="#3572d0"/>
<rect x="560.14" y="524.85" width="2.585" height="5.30" fill="#fff12a"/>
<rect x="562.07" y="540.05" width="2.585" height="3.15" fill="#70f32f"/>
<rect x="562.07" y="535.45" width="2.585" height="4.90" fill="#38ef5c"/>
<rect x="562.07" y="532.00" width="2.585" height="3.75" fill="#3ce8a8"/>
<rect x="562.07" y="530.85" width="2.585" height="1.45" fill="#6a2aa8"/>
<rect x="562.07" y="525.85" width="2.585" height="5.30" fill="#fff12a"/>
<rect x="563.99" y="541.14" width="2.585" height="2.06" fill="#70f32f"/>
<rect x="563.99" y="537.49" width="2.585" height="3.94" fill="#38ef5c"/>
<rect x="563.99" y="536.28" width="2.585" height="1.51" fill="#3ce8a8"/>
<rect x="563.99" y="535.06" width="2.585" height="1.51" fill="#38c8dc"/>
<rect x="563.99" y="533.85" width="2.585" height="1.51" fill="#3572d0"/>
<rect x="563.99" y="527.35" width="2.585" height="6.80" fill="#fff12a"/>
<rect x="565.92" y="538.85" width="2.585" height="4.35" fill="#38ef5c"/>
<rect x="565.92" y="536.52" width="2.585" height="2.63" fill="#3ce8a8"/>
<rect x="565.92" y="535.35" width="2.585" height="1.47" fill="#38c8dc"/>
<rect x="565.92" y="533.85" width="2.585" height="1.80" fill="#fff12a"/>
<rect x="567.84" y="541.24" width="2.585" height="1.96" fill="#70f32f"/>
<rect x="567.84" y="535.68" width="2.585" height="5.86" fill="#38ef5c"/>
<rect x="567.84" y="534.57" width="2.585" height="1.41" fill="#3ce8a8"/>
<rect x="567.84" y="533.46" width="2.585" height="1.41" fill="#3572d0"/>
<rect x="567.84" y="532.35" width="2.585" height="1.41" fill="#6a2aa8"/>
<rect x="567.84" y="530.35" width="2.585" height="2.30" fill="#fff12a"/>
<rect x="569.77" y="541.14" width="2.585" height="2.06" fill="#70f32f"/>
<rect x="569.77" y="539.92" width="2.585" height="1.51" fill="#38ef5c"/>
<rect x="569.77" y="538.71" width="2.585" height="1.51" fill="#3ce8a8"/>
<rect x="569.77" y="537.49" width="2.585" height="1.51" fill="#38c8dc"/>
<rect x="569.77" y="536.28" width="2.585" height="1.51" fill="#3572d0"/>
<rect x="569.77" y="535.06" width="2.585" height="1.51" fill="#3a2fbf"/>
<rect x="569.77" y="533.85" width="2.585" height="1.51" fill="#93258f"/>
<rect x="569.77" y="531.85" width="2.585" height="2.30" fill="#fff12a"/>
<rect x="571.69" y="528.92" width="2.585" height="14.28" fill="#38ef5c"/>
<rect x="571.69" y="525.56" width="2.585" height="3.66" fill="#3ce8a8"/>
<rect x="571.69" y="523.33" width="2.585" height="2.54" fill="#38c8dc"/>
<rect x="571.69" y="519.97" width="2.585" height="3.66" fill="#3572d0"/>
<rect x="571.69" y="518.85" width="2.585" height="1.42" fill="#7a1f4a"/>
<rect x="571.69" y="515.85" width="2.585" height="3.30" fill="#fff12a"/>
<rect x="573.62" y="541.10" width="2.585" height="2.10" fill="#70f32f"/>
<rect x="573.62" y="539.85" width="2.585" height="1.55" fill="#38ef5c"/>
<rect x="573.62" y="537.35" width="2.585" height="2.80" fill="#3ce8a8"/>
<rect x="573.62" y="536.35" width="2.585" height="1.30" fill="#fff12a"/>
<rect x="575.54" y="535.28" width="2.585" height="7.92" fill="#38ef5c"/>
<rect x="575.54" y="531.74" width="2.585" height="3.84" fill="#3ce8a8"/>
<rect x="575.54" y="529.39" width="2.585" height="2.66" fill="#38c8dc"/>
<rect x="575.54" y="528.21" width="2.585" height="1.48" fill="#3572d0"/>
<rect x="575.54" y="525.85" width="2.585" height="2.66" fill="#3a2fbf"/>
<rect x="575.54" y="522.85" width="2.585" height="3.30" fill="#fff12a"/>
<rect x="577.47" y="541.20" width="2.585" height="2.00" fill="#70f32f"/>
<rect x="577.47" y="534.27" width="2.585" height="7.22" fill="#38ef5c"/>
<rect x="577.47" y="531.97" width="2.585" height="2.61" fill="#3ce8a8"/>
<rect x="577.47" y="530.81" width="2.585" height="1.45" fill="#38c8dc"/>
<rect x="577.47" y="528.50" width="2.585" height="2.61" fill="#3572d0"/>
<rect x="577.47" y="527.35" width="2.585" height="1.45" fill="#6a2aa8"/>
<rect x="577.47" y="524.85" width="2.585" height="2.80" fill="#fff12a"/>
<rect x="579.39" y="537.68" width="2.585" height="5.52" fill="#38ef5c"/>
<rect x="579.39" y="533.02" width="2.585" height="4.97" fill="#3ce8a8"/>
<rect x="579.39" y="531.85" width="2.585" height="1.47" fill="#38c8dc"/>
<rect x="579.39" y="530.68" width="2.585" height="1.47" fill="#3a2fbf"/>
<rect x="579.39" y="529.52" width="2.585" height="1.47" fill="#6a2aa8"/>
<rect x="579.39" y="528.35" width="2.585" height="1.47" fill="#93258f"/>
<rect x="579.39" y="525.85" width="2.585" height="2.80" fill="#fff12a"/>
<rect x="581.32" y="532.23" width="2.585" height="10.97" fill="#38ef5c"/>
<rect x="581.32" y="528.85" width="2.585" height="3.67" fill="#3ce8a8"/>
<rect x="581.32" y="525.35" width="2.585" height="3.80" fill="#fff12a"/>
<rect x="583.24" y="538.98" width="2.585" height="4.22" fill="#38ef5c"/>
<rect x="583.24" y="535.60" width="2.585" height="3.67" fill="#3ce8a8"/>
<rect x="583.24" y="533.35" width="2.585" height="2.55" fill="#38c8dc"/>
<rect x="583.24" y="531.10" width="2.585" height="2.55" fill="#3572d0"/>
<rect x="583.24" y="529.98" width="2.585" height="1.42" fill="#3a2fbf"/>
<rect x="583.24" y="528.85" width="2.585" height="1.42" fill="#6a2aa8"/>
<rect x="583.24" y="522.85" width="2.585" height="6.30" fill="#fff12a"/>
<rect x="585.17" y="540.12" width="2.585" height="3.08" fill="#70f32f"/>
<rect x="585.17" y="534.54" width="2.585" height="5.88" fill="#38ef5c"/>
<rect x="585.17" y="533.43" width="2.585" height="1.42" fill="#3ce8a8"/>
<rect x="585.17" y="531.20" width="2.585" height="2.53" fill="#38c8dc"/>
<rect x="585.17" y="530.08" width="2.585" height="1.42" fill="#3572d0"/>
<rect x="585.17" y="527.85" width="2.585" height="2.53" fill="#6a2aa8"/>
<rect x="585.17" y="524.85" width="2.585" height="3.30" fill="#fff12a"/>
<rect x="587.10" y="541.21" width="2.585" height="1.99" fill="#70f32f"/>
<rect x="587.10" y="533.21" width="2.585" height="8.30" fill="#38ef5c"/>
<rect x="587.10" y="532.06" width="2.585" height="1.44" fill="#3ce8a8"/>
<rect x="587.10" y="528.64" width="2.585" height="3.73" fill="#38c8dc"/>
<rect x="587.10" y="526.35" width="2.585" height="2.59" fill="#3572d0"/>
<rect x="587.10" y="523.85" width="2.585" height="2.80" fill="#fff12a"/>
<rect x="589.02" y="537.79" width="2.585" height="5.41" fill="#38ef5c"/>
<rect x="589.02" y="533.24" width="2.585" height="4.86" fill="#3ce8a8"/>
<rect x="589.02" y="527.54" width="2.585" height="5.99" fill="#38c8dc"/>
<rect x="589.02" y="526.41" width="2.585" height="1.44" fill="#3572d0"/>
<rect x="589.02" y="522.99" width="2.585" height="3.72" fill="#3a2fbf"/>
<rect x="589.02" y="521.85" width="2.585" height="1.44" fill="#93258f"/>
<rect x="589.02" y="518.85" width="2.585" height="3.30" fill="#fff12a"/>
<rect x="590.95" y="535.54" width="2.585" height="7.66" fill="#70f32f"/>
<rect x="590.95" y="529.87" width="2.585" height="5.97" fill="#38ef5c"/>
<rect x="590.95" y="524.20" width="2.585" height="5.97" fill="#3ce8a8"/>
<rect x="590.95" y="520.79" width="2.585" height="3.70" fill="#38c8dc"/>
<rect x="590.95" y="518.52" width="2.585" height="2.57" fill="#3a2fbf"/>
<rect x="590.95" y="516.25" width="2.585" height="2.57" fill="#6a2aa8"/>
<rect x="590.95" y="513.98" width="2.585" height="2.57" fill="#93258f"/>
<rect x="590.95" y="512.85" width="2.585" height="1.43" fill="#7a1f4a"/>
<rect x="590.95" y="502.85" width="2.585" height="10.30" fill="#fff12a"/>
<rect x="592.87" y="540.02" width="2.585" height="3.18" fill="#70f32f"/>
<rect x="592.87" y="537.68" width="2.585" height="2.63" fill="#38ef5c"/>
<rect x="592.87" y="534.18" width="2.585" height="3.80" fill="#3ce8a8"/>
<rect x="592.87" y="533.02" width="2.585" height="1.47" fill="#3572d0"/>
<rect x="592.87" y="531.85" width="2.585" height="1.47" fill="#3a2fbf"/>
<rect x="592.87" y="530.35" width="2.585" height="1.80" fill="#fff12a"/>
<rect x="594.80" y="538.88" width="2.585" height="4.32" fill="#70f32f"/>
<rect x="594.80" y="527.33" width="2.585" height="11.85" fill="#38ef5c"/>
<rect x="594.80" y="520.40" width="2.585" height="7.23" fill="#3ce8a8"/>
<rect x="594.80" y="518.09" width="2.585" height="2.61" fill="#38c8dc"/>
<rect x="594.80" y="513.47" width="2.585" height="4.92" fill="#3572d0"/>
<rect x="594.80" y="512.32" width="2.585" height="1.46" fill="#3a2fbf"/>
<rect x="594.80" y="510.01" width="2.585" height="2.61" fill="#6a2aa8"/>
<rect x="594.80" y="508.85" width="2.585" height="1.46" fill="#93258f"/>
<rect x="594.80" y="500.85" width="2.585" height="8.30" fill="#fff12a"/>
<rect x="596.72" y="541.24" width="2.585" height="1.96" fill="#70f32f"/>
<rect x="596.72" y="536.78" width="2.585" height="4.75" fill="#38ef5c"/>
<rect x="596.72" y="526.76" width="2.585" height="10.32" fill="#3ce8a8"/>
<rect x="596.72" y="525.65" width="2.585" height="1.41" fill="#38c8dc"/>
<rect x="596.72" y="523.42" width="2.585" height="2.53" fill="#3572d0"/>
<rect x="596.72" y="521.19" width="2.585" height="2.53" fill="#6a2aa8"/>
<rect x="596.72" y="518.96" width="2.585" height="2.53" fill="#93258f"/>
<rect x="596.72" y="517.85" width="2.585" height="1.41" fill="#7a1f4a"/>
<rect x="596.72" y="510.85" width="2.585" height="7.30" fill="#fff12a"/>
<rect x="598.65" y="541.18" width="2.585" height="2.02" fill="#70f32f"/>
<rect x="598.65" y="530.68" width="2.585" height="10.80" fill="#38ef5c"/>
<rect x="598.65" y="528.35" width="2.585" height="2.63" fill="#3ce8a8"/>
<rect x="598.65" y="526.02" width="2.585" height="2.63" fill="#38c8dc"/>
<rect x="598.65" y="523.68" width="2.585" height="2.63" fill="#3572d0"/>
<rect x="598.65" y="522.52" width="2.585" height="1.47" fill="#3a2fbf"/>
<rect x="598.65" y="521.35" width="2.585" height="1.47" fill="#7a1f4a"/>
<rect x="598.65" y="513.35" width="2.585" height="8.30" fill="#fff12a"/>
<rect x="600.57" y="538.96" width="2.585" height="4.24" fill="#70f32f"/>
<rect x="600.57" y="529.90" width="2.585" height="9.35" fill="#38ef5c"/>
<rect x="600.57" y="526.51" width="2.585" height="3.69" fill="#3ce8a8"/>
<rect x="600.57" y="521.98" width="2.585" height="4.83" fill="#38c8dc"/>
<rect x="600.57" y="520.85" width="2.585" height="1.43" fill="#3572d0"/>
<rect x="600.57" y="516.85" width="2.585" height="4.30" fill="#fff12a"/>
<rect x="602.50" y="540.07" width="2.585" height="3.13" fill="#70f32f"/>
<rect x="602.50" y="530.95" width="2.585" height="9.42" fill="#38ef5c"/>
<rect x="602.50" y="527.53" width="2.585" height="3.72" fill="#3ce8a8"/>
<rect x="602.50" y="524.11" width="2.585" height="3.72" fill="#38c8dc"/>
<rect x="602.50" y="520.69" width="2.585" height="3.72" fill="#3572d0"/>
<rect x="602.50" y="519.55" width="2.585" height="1.44" fill="#3a2fbf"/>
<rect x="602.50" y="517.27" width="2.585" height="2.58" fill="#93258f"/>
<rect x="602.50" y="513.85" width="2.585" height="3.72" fill="#7a1f4a"/>
<rect x="602.50" y="508.85" width="2.585" height="5.30" fill="#fff12a"/>
<rect x="604.42" y="541.21" width="2.585" height="1.99" fill="#70f32f"/>
<rect x="604.42" y="535.53" width="2.585" height="5.98" fill="#38ef5c"/>
<rect x="604.42" y="533.26" width="2.585" height="2.57" fill="#3ce8a8"/>
<rect x="604.42" y="530.99" width="2.585" height="2.57" fill="#38c8dc"/>
<rect x="604.42" y="529.85" width="2.585" height="1.44" fill="#7a1f4a"/>
<rect x="606.35" y="541.18" width="2.585" height="2.02" fill="#70f32f"/>
<rect x="606.35" y="538.85" width="2.585" height="2.63" fill="#38ef5c"/>
<rect x="606.35" y="534.18" width="2.585" height="4.97" fill="#3ce8a8"/>
<rect x="606.35" y="533.02" width="2.585" height="1.47" fill="#6a2aa8"/>
<rect x="606.35" y="531.85" width="2.585" height="1.47" fill="#7a1f4a"/>
<rect x="606.35" y="521.35" width="2.585" height="10.80" fill="#fff12a"/>
<rect x="608.27" y="535.60" width="2.585" height="7.60" fill="#38ef5c"/>
<rect x="608.27" y="532.23" width="2.585" height="3.67" fill="#3ce8a8"/>
<rect x="608.27" y="529.98" width="2.585" height="2.55" fill="#38c8dc"/>
<rect x="608.27" y="528.85" width="2.585" height="1.42" fill="#6a2aa8"/>
<rect x="608.27" y="521.35" width="2.585" height="7.80" fill="#fff12a"/>
<rect x="610.20" y="540.07" width="2.585" height="3.13" fill="#70f32f"/>
<rect x="610.20" y="530.95" width="2.585" height="9.42" fill="#38ef5c"/>
<rect x="610.20" y="528.67" width="2.585" height="2.58" fill="#3ce8a8"/>
<rect x="610.20" y="526.39" width="2.585" height="2.58" fill="#38c8dc"/>
<rect x="610.20" y="522.97" width="2.585" height="3.72" fill="#3572d0"/>
<rect x="610.20" y="519.55" width="2.585" height="3.72" fill="#3a2fbf"/>
<rect x="610.20" y="517.27" width="2.585" height="2.58" fill="#6a2aa8"/>
<rect x="610.20" y="516.13" width="2.585" height="1.44" fill="#93258f"/>
<rect x="610.20" y="513.85" width="2.585" height="2.58" fill="#7a1f4a"/>
<rect x="610.20" y="509.85" width="2.585" height="4.30" fill="#fff12a"/>
<rect x="612.12" y="540.08" width="2.585" height="3.12" fill="#70f32f"/>
<rect x="612.12" y="529.87" width="2.585" height="10.51" fill="#38ef5c"/>
<rect x="612.12" y="527.60" width="2.585" height="2.57" fill="#3ce8a8"/>
<rect x="612.12" y="521.93" width="2.585" height="5.97" fill="#38c8dc"/>
<rect x="612.12" y="520.79" width="2.585" height="1.43" fill="#3572d0"/>
<rect x="612.12" y="519.66" width="2.585" height="1.43" fill="#3a2fbf"/>
<rect x="612.12" y="515.12" width="2.585" height="4.84" fill="#6a2aa8"/>
<rect x="612.12" y="513.98" width="2.585" height="1.43" fill="#93258f"/>
<rect x="612.12" y="512.85" width="2.585" height="1.43" fill="#7a1f4a"/>
<rect x="612.12" y="508.85" width="2.585" height="4.30" fill="#fff12a"/>
<rect x="614.05" y="541.23" width="2.585" height="1.97" fill="#70f32f"/>
<rect x="614.05" y="531.10" width="2.585" height="10.43" fill="#38ef5c"/>
<rect x="614.05" y="526.60" width="2.585" height="4.80" fill="#3ce8a8"/>
<rect x="614.05" y="522.10" width="2.585" height="4.80" fill="#38c8dc"/>
<rect x="614.05" y="519.85" width="2.585" height="2.55" fill="#3572d0"/>
<rect x="614.05" y="513.35" width="2.585" height="6.80" fill="#fff12a"/>
<rect x="615.97" y="541.20" width="2.585" height="2.00" fill="#70f32f"/>
<rect x="615.97" y="534.32" width="2.585" height="7.18" fill="#38ef5c"/>
<rect x="615.97" y="530.88" width="2.585" height="3.74" fill="#3ce8a8"/>
<rect x="615.97" y="527.44" width="2.585" height="3.74" fill="#38c8dc"/>
<rect x="615.97" y="526.29" width="2.585" height="1.45" fill="#3572d0"/>
<rect x="615.97" y="525.14" width="2.585" height="1.45" fill="#3a2fbf"/>
<rect x="615.97" y="522.85" width="2.585" height="2.59" fill="#6a2aa8"/>
<rect x="615.97" y="515.85" width="2.585" height="7.30" fill="#fff12a"/>
<rect x="617.90" y="541.23" width="2.585" height="1.97" fill="#70f32f"/>
<rect x="617.90" y="532.23" width="2.585" height="9.30" fill="#38ef5c"/>
<rect x="617.90" y="531.10" width="2.585" height="1.42" fill="#3572d0"/>
<rect x="617.90" y="529.98" width="2.585" height="1.42" fill="#3a2fbf"/>
<rect x="617.90" y="528.85" width="2.585" height="1.42" fill="#93258f"/>
<rect x="617.90" y="524.85" width="2.585" height="4.30" fill="#fff12a"/>
<rect x="619.83" y="536.68" width="2.585" height="6.52" fill="#70f32f"/>
<rect x="619.83" y="526.47" width="2.585" height="10.51" fill="#38ef5c"/>
<rect x="619.83" y="519.66" width="2.585" height="7.11" fill="#3ce8a8"/>
<rect x="619.83" y="518.52" width="2.585" height="1.43" fill="#38c8dc"/>
<rect x="619.83" y="517.39" width="2.585" height="1.43" fill="#3572d0"/>
<rect x="619.83" y="516.25" width="2.585" height="1.43" fill="#3a2fbf"/>
<rect x="619.83" y="515.12" width="2.585" height="1.43" fill="#6a2aa8"/>
<rect x="619.83" y="513.98" width="2.585" height="1.43" fill="#93258f"/>
<rect x="619.83" y="512.85" width="2.585" height="1.43" fill="#7a1f4a"/>
<rect x="619.83" y="508.85" width="2.585" height="4.30" fill="#fff12a"/>
<rect x="621.75" y="541.21" width="2.585" height="1.99" fill="#70f32f"/>
<rect x="621.75" y="537.79" width="2.585" height="3.72" fill="#38ef5c"/>
<rect x="621.75" y="534.38" width="2.585" height="3.72" fill="#3ce8a8"/>
<rect x="621.75" y="527.54" width="2.585" height="7.13" fill="#38c8dc"/>
<rect x="621.75" y="526.41" width="2.585" height="1.44" fill="#3572d0"/>
<rect x="621.75" y="524.13" width="2.585" height="2.58" fill="#3a2fbf"/>
<rect x="621.75" y="522.99" width="2.585" height="1.44" fill="#6a2aa8"/>
<rect x="621.75" y="521.85" width="2.585" height="1.44" fill="#7a1f4a"/>
<rect x="621.75" y="518.85" width="2.585" height="3.30" fill="#fff12a"/>
<rect x="623.68" y="537.82" width="2.585" height="5.38" fill="#70f32f"/>
<rect x="623.68" y="521.97" width="2.585" height="16.15" fill="#38ef5c"/>
<rect x="623.68" y="518.57" width="2.585" height="3.70" fill="#3ce8a8"/>
<rect x="623.68" y="517.44" width="2.585" height="1.43" fill="#38c8dc"/>
<rect x="623.68" y="512.91" width="2.585" height="4.83" fill="#3572d0"/>
<rect x="623.68" y="510.64" width="2.585" height="2.56" fill="#3a2fbf"/>
<rect x="623.68" y="506.11" width="2.585" height="4.83" fill="#6a2aa8"/>
<rect x="623.68" y="504.98" width="2.585" height="1.43" fill="#93258f"/>
<rect x="623.68" y="503.85" width="2.585" height="1.43" fill="#7a1f4a"/>
<rect x="623.68" y="498.85" width="2.585" height="5.30" fill="#fff12a"/>
<rect x="625.60" y="538.93" width="2.585" height="4.27" fill="#70f32f"/>
<rect x="625.60" y="519.53" width="2.585" height="19.70" fill="#38ef5c"/>
<rect x="625.60" y="511.54" width="2.585" height="8.29" fill="#3ce8a8"/>
<rect x="625.60" y="505.84" width="2.585" height="6.01" fill="#38c8dc"/>
<rect x="625.60" y="502.41" width="2.585" height="3.72" fill="#3572d0"/>
<rect x="625.60" y="497.85" width="2.585" height="4.86" fill="#3a2fbf"/>
<rect x="625.60" y="485.85" width="2.585" height="12.30" fill="#fff12a"/>
<rect x="627.53" y="535.47" width="2.585" height="7.73" fill="#70f32f"/>
<rect x="627.53" y="514.82" width="2.585" height="20.95" fill="#38ef5c"/>
<rect x="627.53" y="505.64" width="2.585" height="9.48" fill="#3ce8a8"/>
<rect x="627.53" y="499.91" width="2.585" height="6.04" fill="#38c8dc"/>
<rect x="627.53" y="495.32" width="2.585" height="4.89" fill="#3572d0"/>
<rect x="627.53" y="491.88" width="2.585" height="3.74" fill="#3a2fbf"/>
<rect x="627.53" y="489.59" width="2.585" height="2.59" fill="#6a2aa8"/>
<rect x="627.53" y="485.00" width="2.585" height="4.89" fill="#93258f"/>
<rect x="627.53" y="483.85" width="2.585" height="1.45" fill="#7a1f4a"/>
<rect x="627.53" y="475.85" width="2.585" height="8.30" fill="#fff12a"/>
<rect x="629.45" y="541.20" width="2.585" height="2.00" fill="#70f32f"/>
<rect x="629.45" y="527.46" width="2.585" height="14.04" fill="#38ef5c"/>
<rect x="629.45" y="522.88" width="2.585" height="4.88" fill="#3ce8a8"/>
<rect x="629.45" y="518.30" width="2.585" height="4.88" fill="#38c8dc"/>
<rect x="629.45" y="511.43" width="2.585" height="7.17" fill="#3572d0"/>
<rect x="629.45" y="510.29" width="2.585" height="1.45" fill="#3a2fbf"/>
<rect x="629.45" y="508.00" width="2.585" height="2.59" fill="#6a2aa8"/>
<rect x="629.45" y="506.85" width="2.585" height="1.45" fill="#93258f"/>
<rect x="629.45" y="496.85" width="2.585" height="10.30" fill="#fff12a"/>
<rect x="631.38" y="540.04" width="2.585" height="3.16" fill="#70f32f"/>
<rect x="631.38" y="515.84" width="2.585" height="24.51" fill="#38ef5c"/>
<rect x="631.38" y="512.38" width="2.585" height="3.76" fill="#3ce8a8"/>
<rect x="631.38" y="506.61" width="2.585" height="6.06" fill="#38c8dc"/>
<rect x="631.38" y="503.16" width="2.585" height="3.76" fill="#3572d0"/>
<rect x="631.38" y="502.00" width="2.585" height="1.45" fill="#3a2fbf"/>
<rect x="631.38" y="500.85" width="2.585" height="1.45" fill="#93258f"/>
<rect x="631.38" y="486.85" width="2.585" height="14.30" fill="#fff12a"/>
<rect x="633.30" y="537.78" width="2.585" height="5.42" fill="#70f32f"/>
<rect x="633.30" y="536.64" width="2.585" height="1.44" fill="#38ef5c"/>
<rect x="633.30" y="528.64" width="2.585" height="8.30" fill="#3ce8a8"/>
<rect x="633.30" y="527.49" width="2.585" height="1.44" fill="#38c8dc"/>
<rect x="633.30" y="522.92" width="2.585" height="4.87" fill="#3572d0"/>
<rect x="633.30" y="520.64" width="2.585" height="2.59" fill="#6a2aa8"/>
<rect x="633.30" y="519.49" width="2.585" height="1.44" fill="#93258f"/>
<rect x="633.30" y="518.35" width="2.585" height="1.44" fill="#7a1f4a"/>
<rect x="633.30" y="512.85" width="2.585" height="5.80" fill="#fff12a"/>
<rect x="635.23" y="541.25" width="2.585" height="1.95" fill="#d8fb2b"/>
<rect x="635.23" y="535.74" width="2.585" height="5.81" fill="#70f32f"/>
<rect x="635.23" y="521.41" width="2.585" height="14.63" fill="#38ef5c"/>
<rect x="635.23" y="511.49" width="2.585" height="10.22" fill="#3ce8a8"/>
<rect x="635.23" y="504.87" width="2.585" height="6.91" fill="#38c8dc"/>
<rect x="635.23" y="499.36" width="2.585" height="5.81" fill="#3572d0"/>
<rect x="635.23" y="497.16" width="2.585" height="2.50" fill="#3a2fbf"/>
<rect x="635.23" y="493.85" width="2.585" height="3.61" fill="#6a2aa8"/>
<rect x="635.23" y="483.35" width="2.585" height="10.80" fill="#fff12a"/>
<rect x="637.15" y="541.24" width="2.585" height="1.96" fill="#fff12a"/>
<rect x="637.15" y="534.61" width="2.585" height="6.94" fill="#70f32f"/>
<rect x="637.15" y="516.90" width="2.585" height="18.00" fill="#38ef5c"/>
<rect x="637.15" y="512.48" width="2.585" height="4.73" fill="#3ce8a8"/>
<rect x="637.15" y="508.05" width="2.585" height="4.73" fill="#38c8dc"/>
<rect x="637.15" y="499.20" width="2.585" height="9.15" fill="#3a2fbf"/>
<rect x="637.15" y="498.09" width="2.585" height="1.41" fill="#6a2aa8"/>
<rect x="637.15" y="491.46" width="2.585" height="6.94" fill="#93258f"/>
<rect x="637.15" y="490.35" width="2.585" height="1.41" fill="#7a1f4a"/>
<rect x="637.15" y="482.35" width="2.585" height="8.30" fill="#fff12a"/>
<rect x="639.08" y="541.24" width="2.585" height="1.96" fill="#fdb827"/>
<rect x="639.08" y="540.14" width="2.585" height="1.41" fill="#d8fb2b"/>
<rect x="639.08" y="535.71" width="2.585" height="4.73" fill="#70f32f"/>
<rect x="639.08" y="508.03" width="2.585" height="27.98" fill="#38ef5c"/>
<rect x="639.08" y="494.74" width="2.585" height="13.59" fill="#3ce8a8"/>
<rect x="639.08" y="492.53" width="2.585" height="2.51" fill="#38c8dc"/>
<rect x="639.08" y="491.42" width="2.585" height="1.41" fill="#3572d0"/>
<rect x="639.08" y="485.89" width="2.585" height="5.84" fill="#3a2fbf"/>
<rect x="639.08" y="484.78" width="2.585" height="1.41" fill="#6a2aa8"/>
<rect x="639.08" y="480.35" width="2.585" height="4.73" fill="#93258f"/>
<rect x="639.08" y="465.35" width="2.585" height="15.30" fill="#fff12a"/>
<rect x="641.00" y="530.89" width="2.585" height="12.31" fill="#70f32f"/>
<rect x="641.00" y="506.83" width="2.585" height="24.36" fill="#38ef5c"/>
<rect x="641.00" y="499.95" width="2.585" height="7.18" fill="#3ce8a8"/>
<rect x="641.00" y="489.64" width="2.585" height="10.61" fill="#38c8dc"/>
<rect x="641.00" y="481.62" width="2.585" height="8.32" fill="#3572d0"/>
<rect x="641.00" y="478.18" width="2.585" height="3.74" fill="#3a2fbf"/>
<rect x="641.00" y="474.75" width="2.585" height="3.74" fill="#6a2aa8"/>
<rect x="641.00" y="467.87" width="2.585" height="7.18" fill="#93258f"/>
<rect x="641.00" y="459.85" width="2.585" height="8.32" fill="#7a1f4a"/>
<rect x="641.00" y="451.85" width="2.585" height="8.30" fill="#fff12a"/>
<rect x="642.93" y="541.24" width="2.585" height="1.96" fill="#fff12a"/>
<rect x="642.93" y="535.69" width="2.585" height="5.85" fill="#70f32f"/>
<rect x="642.93" y="517.93" width="2.585" height="18.06" fill="#38ef5c"/>
<rect x="642.93" y="511.27" width="2.585" height="6.96" fill="#3ce8a8"/>
<rect x="642.93" y="501.27" width="2.585" height="10.29" fill="#38c8dc"/>
<rect x="642.93" y="495.72" width="2.585" height="5.85" fill="#3572d0"/>
<rect x="642.93" y="491.28" width="2.585" height="4.74" fill="#3a2fbf"/>
<rect x="642.93" y="484.62" width="2.585" height="6.96" fill="#6a2aa8"/>
<rect x="642.93" y="481.29" width="2.585" height="3.63" fill="#93258f"/>
<rect x="642.93" y="476.85" width="2.585" height="4.74" fill="#7a1f4a"/>
<rect x="642.93" y="464.85" width="2.585" height="12.30" fill="#fff12a"/>
<rect x="644.85" y="533.18" width="2.585" height="10.02" fill="#70f32f"/>
<rect x="644.85" y="501.10" width="2.585" height="32.38" fill="#38ef5c"/>
<rect x="644.85" y="491.93" width="2.585" height="9.47" fill="#3ce8a8"/>
<rect x="644.85" y="481.62" width="2.585" height="10.61" fill="#38c8dc"/>
<rect x="644.85" y="478.18" width="2.585" height="3.74" fill="#3572d0"/>
<rect x="644.85" y="469.02" width="2.585" height="9.47" fill="#3a2fbf"/>
<rect x="644.85" y="463.29" width="2.585" height="6.03" fill="#6a2aa8"/>
<rect x="644.85" y="459.85" width="2.585" height="3.74" fill="#93258f"/>
<rect x="644.85" y="434.85" width="2.585" height="25.30" fill="#fff12a"/>
<rect x="646.78" y="540.07" width="2.585" height="3.13" fill="#70f32f"/>
<rect x="646.78" y="517.29" width="2.585" height="23.08" fill="#38ef5c"/>
<rect x="646.78" y="512.74" width="2.585" height="4.86" fill="#3ce8a8"/>
<rect x="646.78" y="502.49" width="2.585" height="10.55" fill="#38c8dc"/>
<rect x="646.78" y="496.79" width="2.585" height="5.99" fill="#3572d0"/>
<rect x="646.78" y="489.96" width="2.585" height="7.13" fill="#3a2fbf"/>
<rect x="646.78" y="483.13" width="2.585" height="7.13" fill="#6a2aa8"/>
<rect x="646.78" y="480.85" width="2.585" height="2.58" fill="#93258f"/>
<rect x="646.78" y="462.85" width="2.585" height="18.30" fill="#fff12a"/>
<rect x="648.70" y="541.24" width="2.585" height="1.96" fill="#fff12a"/>
<rect x="648.70" y="537.89" width="2.585" height="3.64" fill="#70f32f"/>
<rect x="648.70" y="510.04" width="2.585" height="28.15" fill="#38ef5c"/>
<rect x="648.70" y="505.59" width="2.585" height="4.76" fill="#3ce8a8"/>
<rect x="648.70" y="500.02" width="2.585" height="5.87" fill="#38c8dc"/>
<rect x="648.70" y="488.88" width="2.585" height="11.44" fill="#3572d0"/>
<rect x="648.70" y="485.53" width="2.585" height="3.64" fill="#3a2fbf"/>
<rect x="648.70" y="483.31" width="2.585" height="2.53" fill="#6a2aa8"/>
<rect x="648.70" y="478.85" width="2.585" height="4.76" fill="#93258f"/>
<rect x="648.70" y="458.85" width="2.585" height="20.30" fill="#fff12a"/>
<rect x="650.63" y="535.53" width="2.585" height="7.67" fill="#70f32f"/>
<rect x="650.63" y="491.21" width="2.585" height="44.62" fill="#38ef5c"/>
<rect x="650.63" y="484.40" width="2.585" height="7.12" fill="#3ce8a8"/>
<rect x="650.63" y="470.76" width="2.585" height="13.94" fill="#38c8dc"/>
<rect x="650.63" y="459.40" width="2.585" height="11.66" fill="#3572d0"/>
<rect x="650.63" y="452.58" width="2.585" height="7.12" fill="#3a2fbf"/>
<rect x="650.63" y="451.44" width="2.585" height="1.44" fill="#6a2aa8"/>
<rect x="650.63" y="436.67" width="2.585" height="15.07" fill="#93258f"/>
<rect x="650.63" y="429.85" width="2.585" height="7.12" fill="#7a1f4a"/>
<rect x="650.63" y="408.85" width="2.585" height="21.30" fill="#fff12a"/>
<rect x="652.56" y="540.11" width="2.585" height="3.09" fill="#d8fb2b"/>
<rect x="652.56" y="533.39" width="2.585" height="7.02" fill="#70f32f"/>
<rect x="652.56" y="524.43" width="2.585" height="9.26" fill="#38ef5c"/>
<rect x="652.56" y="494.18" width="2.585" height="30.55" fill="#3ce8a8"/>
<rect x="652.56" y="481.86" width="2.585" height="12.62" fill="#38c8dc"/>
<rect x="652.56" y="467.30" width="2.585" height="14.86" fill="#3572d0"/>
<rect x="652.56" y="458.34" width="2.585" height="9.26" fill="#3a2fbf"/>
<rect x="652.56" y="449.37" width="2.585" height="9.26" fill="#6a2aa8"/>
<rect x="652.56" y="433.69" width="2.585" height="15.98" fill="#93258f"/>
<rect x="652.56" y="425.85" width="2.585" height="8.14" fill="#7a1f4a"/>
<rect x="652.56" y="411.85" width="2.585" height="14.30" fill="#fff12a"/>
<rect x="654.48" y="527.57" width="2.585" height="15.63" fill="#70f32f"/>
<rect x="654.48" y="490.04" width="2.585" height="37.83" fill="#38ef5c"/>
<rect x="654.48" y="462.75" width="2.585" height="27.59" fill="#3ce8a8"/>
<rect x="654.48" y="444.55" width="2.585" height="18.50" fill="#38c8dc"/>
<rect x="654.48" y="409.30" width="2.585" height="35.55" fill="#3572d0"/>
<rect x="654.48" y="393.38" width="2.585" height="16.22" fill="#3a2fbf"/>
<rect x="654.48" y="385.42" width="2.585" height="8.26" fill="#6a2aa8"/>
<rect x="654.48" y="367.22" width="2.585" height="18.50" fill="#93258f"/>
<rect x="654.48" y="355.85" width="2.585" height="11.67" fill="#7a1f4a"/>
<rect x="654.48" y="330.85" width="2.585" height="25.30" fill="#fff12a"/>
<rect x="656.41" y="525.31" width="2.585" height="17.89" fill="#70f32f"/>
<rect x="656.41" y="506.00" width="2.585" height="19.61" fill="#38ef5c"/>
<rect x="656.41" y="491.23" width="2.585" height="15.07" fill="#3ce8a8"/>
<rect x="656.41" y="473.05" width="2.585" height="18.48" fill="#38c8dc"/>
<rect x="656.41" y="450.33" width="2.585" height="23.02" fill="#3572d0"/>
<rect x="656.41" y="424.20" width="2.585" height="26.43" fill="#3a2fbf"/>
<rect x="656.41" y="413.98" width="2.585" height="10.52" fill="#6a2aa8"/>
<rect x="656.41" y="401.48" width="2.585" height="12.80" fill="#93258f"/>
<rect x="656.41" y="387.85" width="2.585" height="13.93" fill="#7a1f4a"/>
<rect x="656.41" y="369.35" width="2.585" height="18.80" fill="#fff12a"/>
<rect x="658.33" y="521.84" width="2.585" height="21.36" fill="#70f32f"/>
<rect x="658.33" y="479.69" width="2.585" height="42.46" fill="#38ef5c"/>
<rect x="658.33" y="434.11" width="2.585" height="45.87" fill="#3ce8a8"/>
<rect x="658.33" y="411.33" width="2.585" height="23.09" fill="#38c8dc"/>
<rect x="658.33" y="382.84" width="2.585" height="28.78" fill="#3572d0"/>
<rect x="658.33" y="368.03" width="2.585" height="15.11" fill="#3a2fbf"/>
<rect x="658.33" y="355.50" width="2.585" height="12.83" fill="#6a2aa8"/>
<rect x="658.33" y="338.41" width="2.585" height="17.39" fill="#93258f"/>
<rect x="658.33" y="333.85" width="2.585" height="4.86" fill="#7a1f4a"/>
<rect x="658.33" y="316.35" width="2.585" height="17.80" fill="#fff12a"/>
<rect x="660.26" y="541.22" width="2.585" height="1.98" fill="#fff12a"/>
<rect x="660.26" y="527.66" width="2.585" height="13.86" fill="#70f32f"/>
<rect x="660.26" y="483.59" width="2.585" height="44.37" fill="#38ef5c"/>
<rect x="660.26" y="437.26" width="2.585" height="46.63" fill="#3ce8a8"/>
<rect x="660.26" y="415.79" width="2.585" height="21.77" fill="#38c8dc"/>
<rect x="660.26" y="402.23" width="2.585" height="13.86" fill="#3572d0"/>
<rect x="660.26" y="394.32" width="2.585" height="8.21" fill="#3a2fbf"/>
<rect x="660.26" y="389.80" width="2.585" height="4.82" fill="#6a2aa8"/>
<rect x="660.26" y="378.50" width="2.585" height="11.60" fill="#93258f"/>
<rect x="660.26" y="372.85" width="2.585" height="5.95" fill="#7a1f4a"/>
<rect x="660.26" y="354.85" width="2.585" height="18.30" fill="#fff12a"/>
<rect x="662.18" y="520.77" width="2.585" height="22.43" fill="#70f32f"/>
<rect x="662.18" y="488.98" width="2.585" height="32.10" fill="#38ef5c"/>
<rect x="662.18" y="449.24" width="2.585" height="40.04" fill="#3ce8a8"/>
<rect x="662.18" y="421.98" width="2.585" height="27.55" fill="#38c8dc"/>
<rect x="662.18" y="406.08" width="2.585" height="16.20" fill="#3572d0"/>
<rect x="662.18" y="398.14" width="2.585" height="8.25" fill="#3a2fbf"/>
<rect x="662.18" y="379.97" width="2.585" height="18.47" fill="#6a2aa8"/>
<rect x="662.18" y="359.53" width="2.585" height="20.74" fill="#93258f"/>
<rect x="662.18" y="353.85" width="2.585" height="5.98" fill="#7a1f4a"/>
<rect x="662.18" y="319.85" width="2.585" height="34.30" fill="#fff12a"/>
<rect x="664.11" y="521.84" width="2.585" height="21.36" fill="#70f32f"/>
<rect x="664.11" y="476.26" width="2.585" height="45.88" fill="#38ef5c"/>
<rect x="664.11" y="453.47" width="2.585" height="23.09" fill="#3ce8a8"/>
<rect x="664.11" y="422.71" width="2.585" height="31.06" fill="#38c8dc"/>
<rect x="664.11" y="386.25" width="2.585" height="36.76" fill="#3572d0"/>
<rect x="664.11" y="363.46" width="2.585" height="23.09" fill="#3a2fbf"/>
<rect x="664.11" y="350.92" width="2.585" height="12.83" fill="#6a2aa8"/>
<rect x="664.11" y="312.18" width="2.585" height="39.04" fill="#93258f"/>
<rect x="664.11" y="299.65" width="2.585" height="12.83" fill="#7a1f4a"/>
<rect x="664.11" y="275.15" width="2.585" height="24.80" fill="#fff12a"/>
<rect x="666.03" y="541.22" width="2.585" height="1.98" fill="#d8fb2b"/>
<rect x="666.03" y="528.74" width="2.585" height="12.77" fill="#70f32f"/>
<rect x="666.03" y="495.86" width="2.585" height="33.18" fill="#38ef5c"/>
<rect x="666.03" y="445.96" width="2.585" height="50.19" fill="#3ce8a8"/>
<rect x="666.03" y="413.08" width="2.585" height="33.18" fill="#38c8dc"/>
<rect x="666.03" y="365.45" width="2.585" height="47.93" fill="#3572d0"/>
<rect x="666.03" y="346.17" width="2.585" height="19.58" fill="#3a2fbf"/>
<rect x="666.03" y="328.03" width="2.585" height="18.44" fill="#6a2aa8"/>
<rect x="666.03" y="308.75" width="2.585" height="19.58" fill="#93258f"/>
<rect x="666.03" y="301.95" width="2.585" height="7.10" fill="#7a1f4a"/>
<rect x="666.03" y="276.45" width="2.585" height="25.80" fill="#fff12a"/>
<rect x="667.96" y="541.22" width="2.585" height="1.98" fill="#d8fb2b"/>
<rect x="667.96" y="523.09" width="2.585" height="18.43" fill="#70f32f"/>
<rect x="667.96" y="461.91" width="2.585" height="61.48" fill="#38ef5c"/>
<rect x="667.96" y="398.46" width="2.585" height="63.75" fill="#3ce8a8"/>
<rect x="667.96" y="369.00" width="2.585" height="29.76" fill="#38c8dc"/>
<rect x="667.96" y="344.07" width="2.585" height="25.23" fill="#3572d0"/>
<rect x="667.96" y="336.14" width="2.585" height="8.23" fill="#3a2fbf"/>
<rect x="667.96" y="322.55" width="2.585" height="13.90" fill="#6a2aa8"/>
<rect x="667.96" y="312.35" width="2.585" height="10.50" fill="#93258f"/>
<rect x="667.96" y="281.85" width="2.585" height="30.80" fill="#fff12a"/>
<rect x="669.88" y="507.12" width="2.585" height="36.08" fill="#70f32f"/>
<rect x="669.88" y="474.17" width="2.585" height="33.25" fill="#38ef5c"/>
<rect x="669.88" y="434.40" width="2.585" height="40.07" fill="#3ce8a8"/>
<rect x="669.88" y="420.76" width="2.585" height="13.94" fill="#38c8dc"/>
<rect x="669.88" y="387.80" width="2.585" height="33.25" fill="#3572d0"/>
<rect x="669.88" y="370.76" width="2.585" height="17.35" fill="#3a2fbf"/>
<rect x="669.88" y="358.26" width="2.585" height="12.80" fill="#6a2aa8"/>
<rect x="669.88" y="334.40" width="2.585" height="24.16" fill="#93258f"/>
<rect x="669.88" y="329.85" width="2.585" height="4.85" fill="#7a1f4a"/>
<rect x="669.88" y="305.85" width="2.585" height="24.30" fill="#fff12a"/>
<rect x="671.81" y="541.22" width="2.585" height="1.98" fill="#d8fb2b"/>
<rect x="671.81" y="533.32" width="2.585" height="8.20" fill="#70f32f"/>
<rect x="671.81" y="505.09" width="2.585" height="28.53" fill="#38ef5c"/>
<rect x="671.81" y="465.58" width="2.585" height="39.82" fill="#3ce8a8"/>
<rect x="671.81" y="448.64" width="2.585" height="17.24" fill="#38c8dc"/>
<rect x="671.81" y="424.93" width="2.585" height="24.01" fill="#3572d0"/>
<rect x="671.81" y="415.90" width="2.585" height="9.33" fill="#3a2fbf"/>
<rect x="671.81" y="392.19" width="2.585" height="24.01" fill="#6a2aa8"/>
<rect x="671.81" y="370.74" width="2.585" height="21.75" fill="#93258f"/>
<rect x="671.81" y="367.35" width="2.585" height="3.69" fill="#7a1f4a"/>
<rect x="671.81" y="328.85" width="2.585" height="38.80" fill="#fff12a"/>
<rect x="673.73" y="540.10" width="2.585" height="3.10" fill="#d8fb2b"/>
<rect x="673.73" y="525.51" width="2.585" height="14.90" fill="#70f32f"/>
<rect x="673.73" y="492.94" width="2.585" height="32.87" fill="#38ef5c"/>
<rect x="673.73" y="462.62" width="2.585" height="30.62" fill="#3ce8a8"/>
<rect x="673.73" y="437.92" width="2.585" height="25.00" fill="#38c8dc"/>
<rect x="673.73" y="414.33" width="2.585" height="23.88" fill="#3572d0"/>
<rect x="673.73" y="389.63" width="2.585" height="25.00" fill="#3a2fbf"/>
<rect x="673.73" y="369.42" width="2.585" height="20.51" fill="#6a2aa8"/>
<rect x="673.73" y="346.96" width="2.585" height="22.76" fill="#93258f"/>
<rect x="673.73" y="336.85" width="2.585" height="10.41" fill="#7a1f4a"/>
<rect x="673.73" y="319.85" width="2.585" height="17.30" fill="#fff12a"/>
<rect x="675.66" y="516.22" width="2.585" height="26.98" fill="#70f32f"/>
<rect x="675.66" y="469.64" width="2.585" height="46.88" fill="#38ef5c"/>
<rect x="675.66" y="454.87" width="2.585" height="15.07" fill="#3ce8a8"/>
<rect x="675.66" y="411.69" width="2.585" height="43.47" fill="#38c8dc"/>
<rect x="675.66" y="370.79" width="2.585" height="41.20" fill="#3572d0"/>
<rect x="675.66" y="354.89" width="2.585" height="16.21" fill="#3a2fbf"/>
<rect x="675.66" y="329.89" width="2.585" height="25.30" fill="#6a2aa8"/>
<rect x="675.66" y="315.12" width="2.585" height="15.07" fill="#93258f"/>
<rect x="675.66" y="312.85" width="2.585" height="2.57" fill="#7a1f4a"/>
<rect x="675.66" y="278.85" width="2.585" height="34.30" fill="#fff12a"/>
<rect x="677.58" y="541.23" width="2.585" height="1.97" fill="#fff12a"/>
<rect x="677.58" y="538.98" width="2.585" height="2.54" fill="#d8fb2b"/>
<rect x="677.58" y="530.01" width="2.585" height="9.28" fill="#70f32f"/>
<rect x="677.58" y="496.35" width="2.585" height="33.96" fill="#38ef5c"/>
<rect x="677.58" y="439.14" width="2.585" height="57.52" fill="#3ce8a8"/>
<rect x="677.58" y="390.90" width="2.585" height="48.54" fill="#38c8dc"/>
<rect x="677.58" y="363.97" width="2.585" height="27.22" fill="#3572d0"/>
<rect x="677.58" y="357.24" width="2.585" height="7.03" fill="#3a2fbf"/>
<rect x="677.58" y="332.56" width="2.585" height="24.98" fill="#6a2aa8"/>
<rect x="677.58" y="294.42" width="2.585" height="38.44" fill="#93258f"/>
<rect x="677.58" y="273.10" width="2.585" height="21.62" fill="#7a1f4a"/>
<rect x="677.58" y="240.10" width="2.585" height="33.30" fill="#fff12a"/>
<rect x="679.51" y="515.08" width="2.585" height="28.12" fill="#70f32f"/>
<rect x="679.51" y="474.17" width="2.585" height="41.21" fill="#38ef5c"/>
<rect x="679.51" y="430.99" width="2.585" height="43.48" fill="#3ce8a8"/>
<rect x="679.51" y="361.68" width="2.585" height="69.61" fill="#38c8dc"/>
<rect x="679.51" y="324.18" width="2.585" height="37.80" fill="#3572d0"/>
<rect x="679.51" y="308.28" width="2.585" height="16.21" fill="#3a2fbf"/>
<rect x="679.51" y="283.28" width="2.585" height="25.30" fill="#6a2aa8"/>
<rect x="679.51" y="259.42" width="2.585" height="24.16" fill="#93258f"/>
<rect x="679.51" y="240.10" width="2.585" height="19.62" fill="#7a1f4a"/>
<rect x="679.51" y="198.10" width="2.585" height="42.30" fill="#fff12a"/>
<rect x="681.43" y="530.99" width="2.585" height="12.21" fill="#70f32f"/>
<rect x="681.43" y="501.45" width="2.585" height="29.84" fill="#38ef5c"/>
<rect x="681.43" y="470.77" width="2.585" height="30.98" fill="#3ce8a8"/>
<rect x="681.43" y="426.46" width="2.585" height="44.61" fill="#38c8dc"/>
<rect x="681.43" y="406.01" width="2.585" height="20.75" fill="#3572d0"/>
<rect x="681.43" y="384.43" width="2.585" height="21.89" fill="#3a2fbf"/>
<rect x="681.43" y="362.84" width="2.585" height="21.89" fill="#6a2aa8"/>
<rect x="681.43" y="326.48" width="2.585" height="36.66" fill="#93258f"/>
<rect x="681.43" y="312.85" width="2.585" height="13.93" fill="#7a1f4a"/>
<rect x="681.43" y="277.85" width="2.585" height="35.30" fill="#fff12a"/>
<rect x="683.36" y="529.83" width="2.585" height="13.37" fill="#70f32f"/>
<rect x="683.36" y="482.03" width="2.585" height="48.10" fill="#38ef5c"/>
<rect x="683.36" y="463.81" width="2.585" height="18.51" fill="#3ce8a8"/>
<rect x="683.36" y="436.50" width="2.585" height="27.62" fill="#38c8dc"/>
<rect x="683.36" y="405.77" width="2.585" height="31.03" fill="#3572d0"/>
<rect x="683.36" y="396.66" width="2.585" height="9.41" fill="#3a2fbf"/>
<rect x="683.36" y="373.90" width="2.585" height="23.06" fill="#6a2aa8"/>
<rect x="683.36" y="336.34" width="2.585" height="37.86" fill="#93258f"/>
<rect x="683.36" y="315.85" width="2.585" height="20.79" fill="#7a1f4a"/>
<rect x="683.36" y="285.85" width="2.585" height="30.30" fill="#fff12a"/>
<rect x="683.36" y="264.85" width="2.585" height="21.30" fill="#d8fb2b"/>
<rect x="685.28" y="526.42" width="2.585" height="16.78" fill="#70f32f"/>
<rect x="685.28" y="499.12" width="2.585" height="27.60" fill="#38ef5c"/>
<rect x="685.28" y="479.78" width="2.585" height="19.64" fill="#3ce8a8"/>
<rect x="685.28" y="439.96" width="2.585" height="40.12" fill="#38c8dc"/>
<rect x="685.28" y="411.52" width="2.585" height="28.74" fill="#3572d0"/>
<rect x="685.28" y="391.04" width="2.585" height="20.78" fill="#3a2fbf"/>
<rect x="685.28" y="378.53" width="2.585" height="12.81" fill="#6a2aa8"/>
<rect x="685.28" y="351.23" width="2.585" height="27.60" fill="#93258f"/>
<rect x="685.28" y="339.85" width="2.585" height="11.68" fill="#7a1f4a"/>
<rect x="685.28" y="308.85" width="2.585" height="31.30" fill="#fff12a"/>
<rect x="687.21" y="540.10" width="2.585" height="3.10" fill="#d8fb2b"/>
<rect x="687.21" y="525.48" width="2.585" height="14.92" fill="#70f32f"/>
<rect x="687.21" y="495.13" width="2.585" height="30.66" fill="#38ef5c"/>
<rect x="687.21" y="458.02" width="2.585" height="37.40" fill="#3ce8a8"/>
<rect x="687.21" y="411.92" width="2.585" height="46.40" fill="#38c8dc"/>
<rect x="687.21" y="380.44" width="2.585" height="31.78" fill="#3572d0"/>
<rect x="687.21" y="370.32" width="2.585" height="10.42" fill="#3a2fbf"/>
<rect x="687.21" y="357.95" width="2.585" height="12.67" fill="#6a2aa8"/>
<rect x="687.21" y="329.84" width="2.585" height="28.41" fill="#93258f"/>
<rect x="687.21" y="320.85" width="2.585" height="9.29" fill="#7a1f4a"/>
<rect x="687.21" y="309.85" width="2.585" height="11.30" fill="#fff12a"/>
<rect x="687.21" y="297.85" width="2.585" height="12.30" fill="#d8fb2b"/>
<rect x="689.14" y="540.11" width="2.585" height="3.09" fill="#d8fb2b"/>
<rect x="689.14" y="518.84" width="2.585" height="21.57" fill="#70f32f"/>
<rect x="689.14" y="500.92" width="2.585" height="18.22" fill="#38ef5c"/>
<rect x="689.14" y="469.57" width="2.585" height="31.65" fill="#3ce8a8"/>
<rect x="689.14" y="453.89" width="2.585" height="15.98" fill="#38c8dc"/>
<rect x="689.14" y="437.10" width="2.585" height="17.10" fill="#3572d0"/>
<rect x="689.14" y="423.66" width="2.585" height="13.74" fill="#3a2fbf"/>
<rect x="689.14" y="415.82" width="2.585" height="8.14" fill="#6a2aa8"/>
<rect x="689.14" y="391.19" width="2.585" height="24.93" fill="#93258f"/>
<rect x="689.14" y="383.35" width="2.585" height="8.14" fill="#7a1f4a"/>
<rect x="689.14" y="363.85" width="2.585" height="19.80" fill="#fff12a"/>
<rect x="689.14" y="337.85" width="2.585" height="26.30" fill="#d8fb2b"/>
<rect x="691.06" y="541.22" width="2.585" height="1.98" fill="#d8fb2b"/>
<rect x="691.06" y="520.86" width="2.585" height="20.66" fill="#70f32f"/>
<rect x="691.06" y="490.33" width="2.585" height="30.83" fill="#38ef5c"/>
<rect x="691.06" y="457.53" width="2.585" height="33.10" fill="#3ce8a8"/>
<rect x="691.06" y="404.38" width="2.585" height="53.45" fill="#38c8dc"/>
<rect x="691.06" y="378.37" width="2.585" height="26.31" fill="#3572d0"/>
<rect x="691.06" y="363.67" width="2.585" height="15.00" fill="#3a2fbf"/>
<rect x="691.06" y="336.53" width="2.585" height="27.44" fill="#6a2aa8"/>
<rect x="691.06" y="292.42" width="2.585" height="44.41" fill="#93258f"/>
<rect x="691.06" y="278.85" width="2.585" height="13.87" fill="#7a1f4a"/>
<rect x="691.06" y="252.85" width="2.585" height="26.30" fill="#fff12a"/>
<rect x="692.99" y="528.72" width="2.585" height="14.48" fill="#70f32f"/>
<rect x="692.99" y="485.54" width="2.585" height="43.47" fill="#38ef5c"/>
<rect x="692.99" y="449.18" width="2.585" height="36.66" fill="#3ce8a8"/>
<rect x="692.99" y="398.06" width="2.585" height="51.43" fill="#38c8dc"/>
<rect x="692.99" y="367.38" width="2.585" height="30.98" fill="#3572d0"/>
<rect x="692.99" y="351.48" width="2.585" height="16.21" fill="#3a2fbf"/>
<rect x="692.99" y="331.02" width="2.585" height="20.75" fill="#6a2aa8"/>
<rect x="692.99" y="303.76" width="2.585" height="27.57" fill="#93258f"/>
<rect x="692.99" y="287.85" width="2.585" height="16.21" fill="#7a1f4a"/>
<rect x="692.99" y="261.85" width="2.585" height="26.30" fill="#fff12a"/>
<rect x="692.99" y="256.85" width="2.585" height="5.30" fill="#d8fb2b"/>
<rect x="694.91" y="520.71" width="2.585" height="22.49" fill="#70f32f"/>
<rect x="694.91" y="476.30" width="2.585" height="44.71" fill="#38ef5c"/>
<rect x="694.91" y="413.67" width="2.585" height="62.93" fill="#3ce8a8"/>
<rect x="694.91" y="388.62" width="2.585" height="25.35" fill="#38c8dc"/>
<rect x="694.91" y="363.56" width="2.585" height="25.35" fill="#3572d0"/>
<rect x="694.91" y="340.79" width="2.585" height="23.08" fill="#3a2fbf"/>
<rect x="694.91" y="316.87" width="2.585" height="24.21" fill="#6a2aa8"/>
<rect x="694.91" y="299.79" width="2.585" height="17.38" fill="#93258f"/>
<rect x="694.91" y="283.85" width="2.585" height="16.24" fill="#7a1f4a"/>
<rect x="694.91" y="256.85" width="2.585" height="27.30" fill="#fff12a"/>
<rect x="696.84" y="531.00" width="2.585" height="12.20" fill="#70f32f"/>
<rect x="696.84" y="492.41" width="2.585" height="38.89" fill="#38ef5c"/>
<rect x="696.84" y="473.11" width="2.585" height="19.60" fill="#3ce8a8"/>
<rect x="696.84" y="433.38" width="2.585" height="40.03" fill="#38c8dc"/>
<rect x="696.84" y="412.95" width="2.585" height="20.73" fill="#3572d0"/>
<rect x="696.84" y="391.39" width="2.585" height="21.87" fill="#3a2fbf"/>
<rect x="696.84" y="374.36" width="2.585" height="17.33" fill="#6a2aa8"/>
<rect x="696.84" y="353.93" width="2.585" height="20.73" fill="#93258f"/>
<rect x="696.84" y="344.85" width="2.585" height="9.38" fill="#7a1f4a"/>
<rect x="696.84" y="325.35" width="2.585" height="19.80" fill="#fff12a"/>
<rect x="698.76" y="541.22" width="2.585" height="1.98" fill="#d8fb2b"/>
<rect x="698.76" y="536.71" width="2.585" height="4.81" fill="#70f32f"/>
<rect x="698.76" y="506.26" width="2.585" height="30.75" fill="#38ef5c"/>
<rect x="698.76" y="471.31" width="2.585" height="35.26" fill="#3ce8a8"/>
<rect x="698.76" y="441.99" width="2.585" height="29.62" fill="#38c8dc"/>
<rect x="698.76" y="426.20" width="2.585" height="16.09" fill="#3572d0"/>
<rect x="698.76" y="408.16" width="2.585" height="18.34" fill="#3a2fbf"/>
<rect x="698.76" y="395.75" width="2.585" height="12.70" fill="#6a2aa8"/>
<rect x="698.76" y="387.86" width="2.585" height="8.19" fill="#93258f"/>
<rect x="698.76" y="383.35" width="2.585" height="4.81" fill="#7a1f4a"/>
<rect x="698.76" y="371.85" width="2.585" height="11.80" fill="#fff12a"/>
<rect x="700.69" y="526.45" width="2.585" height="16.75" fill="#70f32f"/>
<rect x="700.69" y="510.56" width="2.585" height="16.20" fill="#38ef5c"/>
<rect x="700.69" y="473.09" width="2.585" height="37.77" fill="#3ce8a8"/>
<rect x="700.69" y="448.12" width="2.585" height="25.28" fill="#38c8dc"/>
<rect x="700.69" y="414.05" width="2.585" height="34.36" fill="#3572d0"/>
<rect x="700.69" y="387.94" width="2.585" height="26.41" fill="#3a2fbf"/>
<rect x="700.69" y="369.78" width="2.585" height="18.47" fill="#6a2aa8"/>
<rect x="700.69" y="358.42" width="2.585" height="11.65" fill="#93258f"/>
<rect x="700.69" y="336.85" width="2.585" height="21.87" fill="#7a1f4a"/>
<rect x="700.69" y="316.35" width="2.585" height="20.80" fill="#fff12a"/>
<rect x="700.69" y="309.35" width="2.585" height="7.30" fill="#d8fb2b"/>
<rect x="702.61" y="532.12" width="2.585" height="11.08" fill="#70f32f"/>
<rect x="702.61" y="509.40" width="2.585" height="23.03" fill="#38ef5c"/>
<rect x="702.61" y="504.85" width="2.585" height="4.85" fill="#3ce8a8"/>
<rect x="702.61" y="488.94" width="2.585" height="16.21" fill="#38c8dc"/>
<rect x="702.61" y="460.53" width="2.585" height="28.71" fill="#3572d0"/>
<rect x="702.61" y="445.76" width="2.585" height="15.07" fill="#3a2fbf"/>
<rect x="702.61" y="430.99" width="2.585" height="15.07" fill="#6a2aa8"/>
<rect x="702.61" y="399.17" width="2.585" height="32.12" fill="#93258f"/>
<rect x="702.61" y="392.35" width="2.585" height="7.12" fill="#7a1f4a"/>
<rect x="702.61" y="362.85" width="2.585" height="29.80" fill="#fff12a"/>
<rect x="702.61" y="343.35" width="2.585" height="19.80" fill="#d8fb2b"/>
<rect x="704.54" y="527.58" width="2.585" height="15.62" fill="#70f32f"/>
<rect x="704.54" y="494.63" width="2.585" height="33.25" fill="#38ef5c"/>
<rect x="704.54" y="474.18" width="2.585" height="20.75" fill="#3ce8a8"/>
<rect x="704.54" y="452.60" width="2.585" height="21.89" fill="#38c8dc"/>
<rect x="704.54" y="431.01" width="2.585" height="21.89" fill="#3572d0"/>
<rect x="704.54" y="400.34" width="2.585" height="30.97" fill="#3a2fbf"/>
<rect x="704.54" y="379.89" width="2.585" height="20.75" fill="#6a2aa8"/>
<rect x="704.54" y="362.84" width="2.585" height="17.34" fill="#93258f"/>
<rect x="704.54" y="337.85" width="2.585" height="25.29" fill="#7a1f4a"/>
<rect x="704.54" y="309.35" width="2.585" height="28.80" fill="#fff12a"/>
<rect x="706.46" y="540.10" width="2.585" height="3.10" fill="#d8fb2b"/>
<rect x="706.46" y="531.11" width="2.585" height="9.29" fill="#70f32f"/>
<rect x="706.46" y="503.00" width="2.585" height="28.41" fill="#38ef5c"/>
<rect x="706.46" y="477.14" width="2.585" height="26.16" fill="#3ce8a8"/>
<rect x="706.46" y="463.65" width="2.585" height="13.79" fill="#38c8dc"/>
<rect x="706.46" y="437.79" width="2.585" height="26.16" fill="#3572d0"/>
<rect x="706.46" y="417.55" width="2.585" height="20.54" fill="#3a2fbf"/>
<rect x="706.46" y="393.94" width="2.585" height="23.91" fill="#6a2aa8"/>
<rect x="706.46" y="346.72" width="2.585" height="47.52" fill="#93258f"/>
<rect x="706.46" y="338.85" width="2.585" height="8.17" fill="#7a1f4a"/>
<rect x="706.46" y="304.85" width="2.585" height="34.30" fill="#fff12a"/>
<rect x="706.46" y="302.85" width="2.585" height="2.30" fill="#d8fb2b"/>
<rect x="708.39" y="541.22" width="2.585" height="1.98" fill="#fdb827"/>
<rect x="708.39" y="525.40" width="2.585" height="16.12" fill="#70f32f"/>
<rect x="708.39" y="507.32" width="2.585" height="18.38" fill="#38ef5c"/>
<rect x="708.39" y="479.08" width="2.585" height="28.55" fill="#3ce8a8"/>
<rect x="708.39" y="459.87" width="2.585" height="19.51" fill="#38c8dc"/>
<rect x="708.39" y="438.40" width="2.585" height="21.77" fill="#3572d0"/>
<rect x="708.39" y="430.49" width="2.585" height="8.21" fill="#3a2fbf"/>
<rect x="708.39" y="402.25" width="2.585" height="28.55" fill="#6a2aa8"/>
<rect x="708.39" y="376.26" width="2.585" height="26.29" fill="#93258f"/>
<rect x="708.39" y="368.35" width="2.585" height="8.21" fill="#7a1f4a"/>
<rect x="708.39" y="336.85" width="2.585" height="31.80" fill="#fff12a"/>
<rect x="710.31" y="541.22" width="2.585" height="1.98" fill="#fff12a"/>
<rect x="710.31" y="524.24" width="2.585" height="17.28" fill="#70f32f"/>
<rect x="710.31" y="508.39" width="2.585" height="16.15" fill="#38ef5c"/>
<rect x="710.31" y="480.10" width="2.585" height="28.60" fill="#3ce8a8"/>
<rect x="710.31" y="442.74" width="2.585" height="37.65" fill="#38c8dc"/>
<rect x="710.31" y="429.16" width="2.585" height="13.88" fill="#3572d0"/>
<rect x="710.31" y="424.63" width="2.585" height="4.83" fill="#3a2fbf"/>
<rect x="710.31" y="388.41" width="2.585" height="36.52" fill="#6a2aa8"/>
<rect x="710.31" y="362.38" width="2.585" height="26.33" fill="#93258f"/>
<rect x="710.31" y="357.85" width="2.585" height="4.83" fill="#7a1f4a"/>
<rect x="710.31" y="332.35" width="2.585" height="25.80" fill="#fff12a"/>
<rect x="710.31" y="330.35" width="2.585" height="2.30" fill="#d8fb2b"/>
<rect x="712.24" y="533.26" width="2.585" height="9.94" fill="#70f32f"/>
<rect x="712.24" y="524.16" width="2.585" height="9.39" fill="#38ef5c"/>
<rect x="712.24" y="509.38" width="2.585" height="15.08" fill="#3ce8a8"/>
<rect x="712.24" y="488.92" width="2.585" height="20.76" fill="#38c8dc"/>
<rect x="712.24" y="471.87" width="2.585" height="17.35" fill="#3572d0"/>
<rect x="712.24" y="466.18" width="2.585" height="5.98" fill="#3a2fbf"/>
<rect x="712.24" y="443.45" width="2.585" height="23.04" fill="#6a2aa8"/>
<rect x="712.24" y="434.35" width="2.585" height="9.39" fill="#93258f"/>
<rect x="712.24" y="421.85" width="2.585" height="12.80" fill="#7a1f4a"/>
<rect x="712.24" y="404.85" width="2.585" height="17.30" fill="#fff12a"/>
<rect x="712.24" y="402.85" width="2.585" height="2.30" fill="#d8fb2b"/>
<rect x="714.16" y="524.09" width="2.585" height="19.11" fill="#70f32f"/>
<rect x="714.16" y="496.69" width="2.585" height="27.70" fill="#38ef5c"/>
<rect x="714.16" y="478.43" width="2.585" height="18.56" fill="#3ce8a8"/>
<rect x="714.16" y="446.46" width="2.585" height="32.26" fill="#38c8dc"/>
<rect x="714.16" y="437.33" width="2.585" height="9.43" fill="#3572d0"/>
<rect x="714.16" y="419.07" width="2.585" height="18.56" fill="#3a2fbf"/>
<rect x="714.16" y="390.53" width="2.585" height="28.84" fill="#6a2aa8"/>
<rect x="714.16" y="380.26" width="2.585" height="10.57" fill="#93258f"/>
<rect x="714.16" y="360.85" width="2.585" height="19.71" fill="#7a1f4a"/>
<rect x="714.16" y="319.85" width="2.585" height="41.30" fill="#fff12a"/>
<rect x="714.16" y="311.85" width="2.585" height="8.30" fill="#d8fb2b"/>
<rect x="716.09" y="527.58" width="2.585" height="15.62" fill="#70f32f"/>
<rect x="716.09" y="494.64" width="2.585" height="33.24" fill="#38ef5c"/>
<rect x="716.09" y="454.89" width="2.585" height="40.05" fill="#3ce8a8"/>
<rect x="716.09" y="445.80" width="2.585" height="9.39" fill="#38c8dc"/>
<rect x="716.09" y="423.09" width="2.585" height="23.02" fill="#3572d0"/>
<rect x="716.09" y="395.83" width="2.585" height="27.56" fill="#3a2fbf"/>
<rect x="716.09" y="364.02" width="2.585" height="32.10" fill="#6a2aa8"/>
<rect x="716.09" y="353.80" width="2.585" height="10.52" fill="#93258f"/>
<rect x="716.09" y="345.85" width="2.585" height="8.25" fill="#7a1f4a"/>
<rect x="716.09" y="319.85" width="2.585" height="26.30" fill="#fff12a"/>
<rect x="718.01" y="523.00" width="2.585" height="20.20" fill="#70f32f"/>
<rect x="718.01" y="493.41" width="2.585" height="29.89" fill="#38ef5c"/>
<rect x="718.01" y="472.93" width="2.585" height="20.79" fill="#3ce8a8"/>
<rect x="718.01" y="437.65" width="2.585" height="35.58" fill="#38c8dc"/>
<rect x="718.01" y="417.16" width="2.585" height="20.79" fill="#3572d0"/>
<rect x="718.01" y="384.16" width="2.585" height="33.30" fill="#3a2fbf"/>
<rect x="718.01" y="348.88" width="2.585" height="35.58" fill="#6a2aa8"/>
<rect x="718.01" y="319.29" width="2.585" height="29.89" fill="#93258f"/>
<rect x="718.01" y="313.60" width="2.585" height="5.99" fill="#7a1f4a"/>
<rect x="718.01" y="271.60" width="2.585" height="42.30" fill="#fff12a"/>
<rect x="718.01" y="270.10" width="2.585" height="1.80" fill="#d8fb2b"/>
<rect x="719.94" y="527.59" width="2.585" height="15.61" fill="#70f32f"/>
<rect x="719.94" y="502.62" width="2.585" height="25.27" fill="#38ef5c"/>
<rect x="719.94" y="475.37" width="2.585" height="27.55" fill="#3ce8a8"/>
<rect x="719.94" y="445.86" width="2.585" height="29.82" fill="#38c8dc"/>
<rect x="719.94" y="422.02" width="2.585" height="24.14" fill="#3572d0"/>
<rect x="719.94" y="406.12" width="2.585" height="16.19" fill="#3a2fbf"/>
<rect x="719.94" y="394.77" width="2.585" height="11.65" fill="#6a2aa8"/>
<rect x="719.94" y="377.74" width="2.585" height="17.33" fill="#93258f"/>
<rect x="719.94" y="361.85" width="2.585" height="16.19" fill="#7a1f4a"/>
<rect x="719.94" y="347.85" width="2.585" height="14.30" fill="#fff12a"/>
<rect x="721.87" y="533.25" width="2.585" height="9.95" fill="#70f32f"/>
<rect x="721.87" y="501.39" width="2.585" height="32.16" fill="#38ef5c"/>
<rect x="721.87" y="482.05" width="2.585" height="19.64" fill="#3ce8a8"/>
<rect x="721.87" y="469.53" width="2.585" height="12.82" fill="#38c8dc"/>
<rect x="721.87" y="436.53" width="2.585" height="33.30" fill="#3572d0"/>
<rect x="721.87" y="428.57" width="2.585" height="8.26" fill="#3a2fbf"/>
<rect x="721.87" y="406.95" width="2.585" height="21.92" fill="#6a2aa8"/>
<rect x="721.87" y="376.23" width="2.585" height="31.02" fill="#93258f"/>
<rect x="721.87" y="364.85" width="2.585" height="11.68" fill="#7a1f4a"/>
<rect x="721.87" y="331.85" width="2.585" height="33.30" fill="#fff12a"/>
<rect x="721.87" y="328.85" width="2.585" height="3.30" fill="#d8fb2b"/>
<rect x="723.79" y="541.22" width="2.585" height="1.98" fill="#d8fb2b"/>
<rect x="723.79" y="533.30" width="2.585" height="8.22" fill="#70f32f"/>
<rect x="723.79" y="507.30" width="2.585" height="26.31" fill="#38ef5c"/>
<rect x="723.79" y="477.90" width="2.585" height="29.70" fill="#3ce8a8"/>
<rect x="723.79" y="469.98" width="2.585" height="8.22" fill="#38c8dc"/>
<rect x="723.79" y="451.89" width="2.585" height="18.39" fill="#3572d0"/>
<rect x="723.79" y="438.32" width="2.585" height="13.87" fill="#3a2fbf"/>
<rect x="723.79" y="419.10" width="2.585" height="19.52" fill="#6a2aa8"/>
<rect x="723.79" y="402.13" width="2.585" height="17.26" fill="#93258f"/>
<rect x="723.79" y="395.35" width="2.585" height="7.08" fill="#7a1f4a"/>
<rect x="723.79" y="357.85" width="2.585" height="37.80" fill="#fff12a"/>
<rect x="723.79" y="356.35" width="2.585" height="1.80" fill="#d8fb2b"/>
<rect x="725.72" y="540.12" width="2.585" height="3.08" fill="#d8fb2b"/>
<rect x="725.72" y="536.78" width="2.585" height="3.64" fill="#70f32f"/>
<rect x="725.72" y="517.85" width="2.585" height="19.23" fill="#38ef5c"/>
<rect x="725.72" y="501.15" width="2.585" height="17.00" fill="#3ce8a8"/>
<rect x="725.72" y="465.51" width="2.585" height="35.94" fill="#38c8dc"/>
<rect x="725.72" y="459.94" width="2.585" height="5.87" fill="#3572d0"/>
<rect x="725.72" y="453.26" width="2.585" height="6.98" fill="#3a2fbf"/>
<rect x="725.72" y="432.10" width="2.585" height="21.46" fill="#6a2aa8"/>
<rect x="725.72" y="425.42" width="2.585" height="6.98" fill="#93258f"/>
<rect x="725.72" y="419.85" width="2.585" height="5.87" fill="#7a1f4a"/>
<rect x="725.72" y="401.85" width="2.585" height="18.30" fill="#fff12a"/>
<rect x="727.64" y="540.08" width="2.585" height="3.12" fill="#70f32f"/>
<rect x="727.64" y="525.29" width="2.585" height="15.09" fill="#38ef5c"/>
<rect x="727.64" y="501.40" width="2.585" height="24.18" fill="#3ce8a8"/>
<rect x="727.64" y="488.89" width="2.585" height="12.81" fill="#38c8dc"/>
<rect x="727.64" y="482.07" width="2.585" height="7.12" fill="#3572d0"/>
<rect x="727.64" y="468.42" width="2.585" height="13.95" fill="#3a2fbf"/>
<rect x="727.64" y="451.36" width="2.585" height="17.36" fill="#6a2aa8"/>
<rect x="727.64" y="444.54" width="2.585" height="7.12" fill="#93258f"/>
<rect x="727.64" y="438.85" width="2.585" height="5.99" fill="#7a1f4a"/>
<rect x="727.64" y="425.85" width="2.585" height="13.30" fill="#fff12a"/>
<rect x="729.57" y="534.37" width="2.585" height="8.83" fill="#70f32f"/>
<rect x="729.57" y="522.97" width="2.585" height="11.70" fill="#38ef5c"/>
<rect x="729.57" y="517.26" width="2.585" height="6.00" fill="#3ce8a8"/>
<rect x="729.57" y="501.30" width="2.585" height="16.26" fill="#38c8dc"/>
<rect x="729.57" y="488.76" width="2.585" height="12.84" fill="#3572d0"/>
<rect x="729.57" y="478.49" width="2.585" height="10.56" fill="#3a2fbf"/>
<rect x="729.57" y="471.65" width="2.585" height="7.14" fill="#6a2aa8"/>
<rect x="729.57" y="464.81" width="2.585" height="7.14" fill="#93258f"/>
<rect x="729.57" y="460.25" width="2.585" height="4.86" fill="#7a1f4a"/>
<rect x="729.57" y="446.25" width="2.585" height="14.30" fill="#fff12a"/>
<rect x="731.49" y="541.22" width="2.585" height="1.98" fill="#d8fb2b"/>
<rect x="731.49" y="538.97" width="2.585" height="2.55" fill="#70f32f"/>
<rect x="731.49" y="520.95" width="2.585" height="18.32" fill="#38ef5c"/>
<rect x="731.49" y="505.19" width="2.585" height="16.07" fill="#3ce8a8"/>
<rect x="731.49" y="487.17" width="2.585" height="18.32" fill="#38c8dc"/>
<rect x="731.49" y="479.29" width="2.585" height="8.18" fill="#3572d0"/>
<rect x="731.49" y="464.65" width="2.585" height="14.94" fill="#3a2fbf"/>
<rect x="731.49" y="439.88" width="2.585" height="25.07" fill="#6a2aa8"/>
<rect x="731.49" y="420.73" width="2.585" height="19.44" fill="#93258f"/>
<rect x="731.49" y="412.85" width="2.585" height="8.18" fill="#7a1f4a"/>
<rect x="731.49" y="385.85" width="2.585" height="27.30" fill="#fff12a"/>
<rect x="733.42" y="541.22" width="2.585" height="1.98" fill="#fdb827"/>
<rect x="733.42" y="540.09" width="2.585" height="1.43" fill="#70f32f"/>
<rect x="733.42" y="519.71" width="2.585" height="20.67" fill="#38ef5c"/>
<rect x="733.42" y="497.08" width="2.585" height="22.94" fill="#3ce8a8"/>
<rect x="733.42" y="478.97" width="2.585" height="18.41" fill="#38c8dc"/>
<rect x="733.42" y="468.78" width="2.585" height="10.49" fill="#3572d0"/>
<rect x="733.42" y="450.67" width="2.585" height="18.41" fill="#3a2fbf"/>
<rect x="733.42" y="441.62" width="2.585" height="9.35" fill="#6a2aa8"/>
<rect x="733.42" y="422.38" width="2.585" height="19.54" fill="#93258f"/>
<rect x="733.42" y="417.85" width="2.585" height="4.83" fill="#7a1f4a"/>
<rect x="733.42" y="384.85" width="2.585" height="33.30" fill="#fff12a"/>
<rect x="733.42" y="383.15" width="2.585" height="2.00" fill="#d8fb2b"/>
<rect x="735.34" y="541.21" width="2.585" height="1.99" fill="#70f32f"/>
<rect x="735.34" y="529.85" width="2.585" height="11.66" fill="#38ef5c"/>
<rect x="735.34" y="516.21" width="2.585" height="13.94" fill="#3ce8a8"/>
<rect x="735.34" y="498.03" width="2.585" height="18.48" fill="#38c8dc"/>
<rect x="735.34" y="488.94" width="2.585" height="9.39" fill="#3572d0"/>
<rect x="735.34" y="478.71" width="2.585" height="10.53" fill="#3a2fbf"/>
<rect x="735.34" y="463.93" width="2.585" height="15.07" fill="#6a2aa8"/>
<rect x="735.34" y="444.61" width="2.585" height="19.62" fill="#93258f"/>
<rect x="735.34" y="433.25" width="2.585" height="11.66" fill="#7a1f4a"/>
<rect x="735.34" y="397.25" width="2.585" height="36.30" fill="#fff12a"/>
<rect x="735.34" y="393.85" width="2.585" height="3.70" fill="#d8fb2b"/>
<rect x="737.27" y="541.22" width="2.585" height="1.98" fill="#fff12a"/>
<rect x="737.27" y="534.45" width="2.585" height="7.07" fill="#70f32f"/>
<rect x="737.27" y="523.16" width="2.585" height="11.59" fill="#38ef5c"/>
<rect x="737.27" y="508.49" width="2.585" height="14.97" fill="#3ce8a8"/>
<rect x="737.27" y="480.28" width="2.585" height="28.51" fill="#38c8dc"/>
<rect x="737.27" y="470.12" width="2.585" height="10.46" fill="#3572d0"/>
<rect x="737.27" y="456.58" width="2.585" height="13.84" fill="#3a2fbf"/>
<rect x="737.27" y="443.04" width="2.585" height="13.84" fill="#6a2aa8"/>
<rect x="737.27" y="424.98" width="2.585" height="18.36" fill="#93258f"/>
<rect x="737.27" y="423.85" width="2.585" height="1.43" fill="#7a1f4a"/>
<rect x="737.27" y="389.85" width="2.585" height="34.30" fill="#fff12a"/>
<rect x="739.19" y="529.77" width="2.585" height="13.43" fill="#38ef5c"/>
<rect x="739.19" y="522.91" width="2.585" height="7.16" fill="#3ce8a8"/>
<rect x="739.19" y="506.91" width="2.585" height="16.31" fill="#38c8dc"/>
<rect x="739.19" y="486.33" width="2.585" height="20.88" fill="#3572d0"/>
<rect x="739.19" y="482.90" width="2.585" height="3.73" fill="#3a2fbf"/>
<rect x="739.19" y="460.04" width="2.585" height="23.17" fill="#6a2aa8"/>
<rect x="739.19" y="447.46" width="2.585" height="12.88" fill="#93258f"/>
<rect x="739.19" y="440.60" width="2.585" height="7.16" fill="#7a1f4a"/>
<rect x="739.19" y="418.60" width="2.585" height="22.30" fill="#fff12a"/>
<rect x="741.12" y="541.23" width="2.585" height="1.97" fill="#fff12a"/>
<rect x="741.12" y="534.54" width="2.585" height="6.99" fill="#70f32f"/>
<rect x="741.12" y="527.85" width="2.585" height="6.99" fill="#38ef5c"/>
<rect x="741.12" y="521.16" width="2.585" height="6.99" fill="#3ce8a8"/>
<rect x="741.12" y="507.77" width="2.585" height="13.68" fill="#38c8dc"/>
<rect x="741.12" y="497.73" width="2.585" height="10.34" fill="#3572d0"/>
<rect x="741.12" y="485.47" width="2.585" height="12.57" fill="#3a2fbf"/>
<rect x="741.12" y="481.00" width="2.585" height="4.76" fill="#6a2aa8"/>
<rect x="741.12" y="475.43" width="2.585" height="5.88" fill="#93258f"/>
<rect x="741.12" y="469.85" width="2.585" height="5.88" fill="#7a1f4a"/>
<rect x="741.12" y="459.85" width="2.585" height="10.30" fill="#fff12a"/>
<rect x="743.04" y="540.08" width="2.585" height="3.12" fill="#70f32f"/>
<rect x="743.04" y="528.75" width="2.585" height="11.63" fill="#38ef5c"/>
<rect x="743.04" y="518.56" width="2.585" height="10.50" fill="#3ce8a8"/>
<rect x="743.04" y="502.70" width="2.585" height="16.16" fill="#38c8dc"/>
<rect x="743.04" y="478.90" width="2.585" height="24.09" fill="#3572d0"/>
<rect x="743.04" y="468.71" width="2.585" height="10.50" fill="#3a2fbf"/>
<rect x="743.04" y="461.91" width="2.585" height="7.10" fill="#6a2aa8"/>
<rect x="743.04" y="444.91" width="2.585" height="17.29" fill="#93258f"/>
<rect x="743.04" y="435.85" width="2.585" height="9.36" fill="#7a1f4a"/>
<rect x="743.04" y="416.85" width="2.585" height="19.30" fill="#fff12a"/>
<rect x="743.04" y="414.85" width="2.585" height="2.30" fill="#d8fb2b"/>
<rect x="743.04" y="413.35" width="2.585" height="1.80" fill="#38ef5c"/>
<rect x="744.97" y="535.55" width="2.585" height="7.65" fill="#70f32f"/>
<rect x="744.97" y="519.69" width="2.585" height="16.16" fill="#38ef5c"/>
<rect x="744.97" y="509.49" width="2.585" height="10.50" fill="#3ce8a8"/>
<rect x="744.97" y="491.36" width="2.585" height="18.43" fill="#38c8dc"/>
<rect x="744.97" y="480.03" width="2.585" height="11.63" fill="#3572d0"/>
<rect x="744.97" y="465.30" width="2.585" height="15.03" fill="#3a2fbf"/>
<rect x="744.97" y="456.23" width="2.585" height="9.37" fill="#6a2aa8"/>
<rect x="744.97" y="441.50" width="2.585" height="15.03" fill="#93258f"/>
<rect x="744.97" y="438.10" width="2.585" height="3.70" fill="#7a1f4a"/>
<rect x="744.97" y="405.10" width="2.585" height="33.30" fill="#fff12a"/>
<rect x="744.97" y="403.60" width="2.585" height="1.80" fill="#d8fb2b"/>
<rect x="746.89" y="541.23" width="2.585" height="1.97" fill="#fdb827"/>
<rect x="746.89" y="536.73" width="2.585" height="4.79" fill="#70f32f"/>
<rect x="746.89" y="527.75" width="2.585" height="9.29" fill="#38ef5c"/>
<rect x="746.89" y="526.62" width="2.585" height="1.42" fill="#3ce8a8"/>
<rect x="746.89" y="512.02" width="2.585" height="14.90" fill="#38c8dc"/>
<rect x="746.89" y="499.67" width="2.585" height="12.66" fill="#3572d0"/>
<rect x="746.89" y="496.30" width="2.585" height="3.67" fill="#3a2fbf"/>
<rect x="746.89" y="483.94" width="2.585" height="12.66" fill="#6a2aa8"/>
<rect x="746.89" y="467.09" width="2.585" height="17.15" fill="#93258f"/>
<rect x="746.89" y="460.35" width="2.585" height="7.04" fill="#7a1f4a"/>
<rect x="746.89" y="434.35" width="2.585" height="26.30" fill="#fff12a"/>
<rect x="746.89" y="432.85" width="2.585" height="1.80" fill="#3ce8a8"/>
<rect x="748.82" y="537.81" width="2.585" height="5.39" fill="#70f32f"/>
<rect x="748.82" y="524.18" width="2.585" height="13.93" fill="#38ef5c"/>
<rect x="748.82" y="512.83" width="2.585" height="11.65" fill="#3ce8a8"/>
<rect x="748.82" y="495.80" width="2.585" height="17.33" fill="#38c8dc"/>
<rect x="748.82" y="478.77" width="2.585" height="17.33" fill="#3572d0"/>
<rect x="748.82" y="470.82" width="2.585" height="8.25" fill="#3a2fbf"/>
<rect x="748.82" y="451.52" width="2.585" height="19.60" fill="#6a2aa8"/>
<rect x="748.82" y="436.76" width="2.585" height="15.06" fill="#93258f"/>
<rect x="748.82" y="433.35" width="2.585" height="3.71" fill="#7a1f4a"/>
<rect x="748.82" y="370.85" width="2.585" height="62.80" fill="#fff12a"/>
<rect x="748.82" y="362.35" width="2.585" height="8.80" fill="#d8fb2b"/>
<rect x="748.82" y="361.35" width="2.585" height="1.30" fill="#3ce8a8"/>
<rect x="748.82" y="359.85" width="2.585" height="1.80" fill="#38c8dc"/>
<rect x="750.74" y="540.07" width="2.585" height="3.13" fill="#70f32f"/>
<rect x="750.74" y="529.79" width="2.585" height="10.58" fill="#38ef5c"/>
<rect x="750.74" y="528.64" width="2.585" height="1.44" fill="#3ce8a8"/>
<rect x="750.74" y="512.65" width="2.585" height="16.29" fill="#38c8dc"/>
<rect x="750.74" y="498.94" width="2.585" height="14.01" fill="#3572d0"/>
<rect x="750.74" y="493.23" width="2.585" height="6.01" fill="#3a2fbf"/>
<rect x="750.74" y="481.81" width="2.585" height="11.72" fill="#6a2aa8"/>
<rect x="750.74" y="464.68" width="2.585" height="17.43" fill="#93258f"/>
<rect x="750.74" y="461.25" width="2.585" height="3.73" fill="#7a1f4a"/>
<rect x="750.74" y="447.75" width="2.585" height="13.80" fill="#fff12a"/>
<rect x="750.74" y="446.25" width="2.585" height="1.80" fill="#38ef5c"/>
</g>
<g fill="#332d48" fill-opacity="0.95">
<rect x="150.69" y="541.10" width="1.33" height="0.8" fill-opacity="0.45"/>
<rect x="154.54" y="540.85" width="1.33" height="0.8" fill-opacity="0.45"/>
<rect x="156.46" y="540.96" width="1.33" height="0.8" fill-opacity="0.45"/>
<rect x="156.46" y="539.81" width="1.33" height="0.8" fill-opacity="0.45"/>
<rect x="156.46" y="538.67" width="1.33" height="0.8" fill-opacity="0.45"/>
<rect x="156.46" y="536.38" width="1.33" height="0.8" fill-opacity="0.45"/>
<rect x="156.46" y="532.94" width="1.33" height="0.8" fill-opacity="0.45"/>
<rect x="158.39" y="540.90" width="1.33" height="0.8" fill-opacity="0.45"/>
<rect x="158.39" y="538.50" width="1.33" height="0.8" fill-opacity="0.45"/>
<rect x="158.39" y="536.10" width="1.33" height="0.8" fill-opacity="0.45"/>
<rect x="158.39" y="534.90" width="1.33" height="0.8" fill-opacity="0.45"/>
<rect x="160.31" y="538.65" width="1.33" height="0.8" fill-opacity="0.45"/>
<rect x="162.24" y="540.85" width="1.33" height="0.8" fill-opacity="0.45"/>
<rect x="162.24" y="538.35" width="1.33" height="0.8" fill-opacity="0.45"/>
<rect x="164.16" y="541.10" width="1.33" height="0.8" fill-opacity="0.45"/>
<rect x="166.09" y="540.99" width="1.33" height="0.8" fill-opacity="0.45"/>
<rect x="166.09" y="539.89" width="1.33" height="0.8" fill-opacity="0.45"/>
<rect x="166.09" y="537.67" width="1.33" height="0.8" fill-opacity="0.45"/>
<rect x="166.09" y="535.46" width="1.33" height="0.8" fill-opacity="0.45"/>
<rect x="166.09" y="528.81" width="1.33" height="0.8" fill-opacity="0.45"/>
<rect x="168.01" y="538.54" width="1.33" height="1.1"/>
<rect x="168.01" y="535.28" width="1.33" height="0.8" fill-opacity="0.45"/>
<rect x="168.01" y="533.01" width="1.33" height="0.8" fill-opacity="0.45"/>
<rect x="168.01" y="530.74" width="1.33" height="0.8" fill-opacity="0.45"/>
<rect x="169.94" y="540.93" width="1.33" height="0.8" fill-opacity="0.45"/>
<rect x="171.86" y="541.10" width="1.33" height="0.8" fill-opacity="0.45"/>
<rect x="173.79" y="541.10" width="1.33" height="0.8" fill-opacity="0.45"/>
<rect x="173.79" y="540.10" width="1.33" height="0.8" fill-opacity="0.45"/>
<rect x="173.79" y="539.10" width="1.33" height="0.8" fill-opacity="0.45"/>
<rect x="181.49" y="541.00" width="1.33" height="0.8" fill-opacity="0.45"/>
<rect x="181.49" y="538.80" width="1.33" height="0.8" fill-opacity="0.45"/>
<rect x="181.49" y="537.70" width="1.33" height="0.8" fill-opacity="0.45"/>
<rect x="181.49" y="536.60" width="1.33" height="0.8" fill-opacity="0.45"/>
<rect x="183.41" y="540.89" width="1.33" height="0.8" fill-opacity="0.45"/>
<rect x="183.41" y="539.67" width="1.33" height="0.8" fill-opacity="0.45"/>
<rect x="183.41" y="538.46" width="1.33" height="0.8" fill-opacity="0.45"/>
<rect x="183.41" y="534.81" width="1.33" height="0.8" fill-opacity="0.45"/>
<rect x="185.34" y="541.10" width="1.33" height="0.8" fill-opacity="0.45"/>
<rect x="187.27" y="541.02" width="1.33" height="0.8" fill-opacity="0.45"/>
<rect x="187.27" y="538.85" width="1.33" height="0.8" fill-opacity="0.45"/>
<rect x="189.19" y="541.10" width="1.33" height="0.8" fill-opacity="0.45"/>
<rect x="191.12" y="541.02" width="1.33" height="0.8" fill-opacity="0.45"/>
<rect x="191.12" y="538.85" width="1.33" height="0.8" fill-opacity="0.45"/>
<rect x="191.12" y="536.68" width="1.33" height="0.8" fill-opacity="0.45"/>
<rect x="193.04" y="540.98" width="1.33" height="0.8" fill-opacity="0.45"/>
<rect x="193.04" y="538.73" width="1.33" height="0.8" fill-opacity="0.45"/>
<rect x="193.04" y="537.60" width="1.33" height="0.8" fill-opacity="0.45"/>
<rect x="193.04" y="535.35" width="1.33" height="0.8" fill-opacity="0.45"/>
<rect x="193.04" y="533.10" width="1.33" height="0.8" fill-opacity="0.45"/>
<rect x="194.97" y="540.98" width="1.33" height="0.8" fill-opacity="0.45"/>
<rect x="194.97" y="536.48" width="1.33" height="0.8" fill-opacity="0.45"/>
<rect x="194.97" y="535.35" width="1.33" height="0.8" fill-opacity="0.45"/>
<rect x="194.97" y="534.23" width="1.33" height="0.8" fill-opacity="0.45"/>
<rect x="194.97" y="530.85" width="1.33" height="0.8" fill-opacity="0.45"/>
<rect x="194.97" y="528.60" width="1.33" height="0.8" fill-opacity="0.45"/>
<rect x="198.82" y="541.10" width="1.33" height="0.8" fill-opacity="0.45"/>
<rect x="198.82" y="540.10" width="1.33" height="0.8" fill-opacity="0.45"/>
<rect x="200.74" y="540.93" width="1.33" height="0.8" fill-opacity="0.45"/>
<rect x="200.74" y="539.77" width="1.33" height="0.8" fill-opacity="0.45"/>
<rect x="218.07" y="540.93" width="1.33" height="0.8" fill-opacity="0.45"/>
<rect x="223.85" y="541.10" width="1.33" height="0.8" fill-opacity="0.45"/>
<rect x="225.77" y="541.10" width="1.33" height="0.8" fill-opacity="0.45"/>
<rect x="225.77" y="540.10" width="1.33" height="0.8" fill-opacity="0.45"/>
<rect x="231.55" y="540.85" width="1.33" height="0.8" fill-opacity="0.45"/>
<rect x="233.47" y="540.10" width="1.33" height="0.8" fill-opacity="0.45"/>
<rect x="233.47" y="539.10" width="1.33" height="0.8" fill-opacity="0.45"/>
<rect x="235.40" y="540.93" width="1.33" height="0.8" fill-opacity="0.45"/>
<rect x="235.40" y="539.77" width="1.33" height="0.8" fill-opacity="0.45"/>
<rect x="235.40" y="538.60" width="1.33" height="0.8" fill-opacity="0.45"/>
<rect x="237.32" y="541.10" width="1.33" height="0.8" fill-opacity="0.45"/>
<rect x="237.32" y="540.10" width="1.33" height="0.8" fill-opacity="0.45"/>
<rect x="241.17" y="541.10" width="1.33" height="0.8" fill-opacity="0.45"/>
<rect x="243.10" y="540.93" width="1.33" height="0.8" fill-opacity="0.45"/>
<rect x="243.10" y="539.77" width="1.33" height="0.8" fill-opacity="0.45"/>
<rect x="245.02" y="540.93" width="1.33" height="0.8" fill-opacity="0.45"/>
<rect x="245.02" y="539.77" width="1.33" height="0.8" fill-opacity="0.45"/>
<rect x="245.02" y="536.27" width="1.33" height="0.8" fill-opacity="0.45"/>
<rect x="245.02" y="535.10" width="1.33" height="0.8" fill-opacity="0.45"/>
<rect x="245.02" y="533.93" width="1.33" height="0.8" fill-opacity="0.45"/>
<rect x="246.95" y="538.63" width="1.33" height="0.8" fill-opacity="0.45"/>
<rect x="246.95" y="536.32" width="1.33" height="0.8" fill-opacity="0.45"/>
<rect x="246.95" y="534.01" width="1.33" height="0.8" fill-opacity="0.45"/>
<rect x="246.95" y="530.54" width="1.33" height="0.8" fill-opacity="0.45"/>
<rect x="246.95" y="529.38" width="1.33" height="0.8" fill-opacity="0.45"/>
<rect x="246.95" y="527.07" width="1.33" height="0.8" fill-opacity="0.45"/>
<rect x="246.95" y="525.91" width="1.33" height="0.8" fill-opacity="0.45"/>
<rect x="248.87" y="540.98" width="1.33" height="0.8" fill-opacity="0.45"/>
<rect x="248.87" y="537.49" width="1.33" height="1.1"/>
<rect x="248.87" y="534.29" width="1.33" height="0.8" fill-opacity="0.45"/>
<rect x="248.87" y="533.18" width="1.33" height="0.8" fill-opacity="0.45"/>
<rect x="248.87" y="532.06" width="1.33" height="0.8" fill-opacity="0.45"/>
<rect x="248.87" y="529.83" width="1.33" height="0.8" fill-opacity="0.45"/>
<rect x="250.80" y="540.99" width="1.33" height="0.8" fill-opacity="0.45"/>
<rect x="250.80" y="539.89" width="1.33" height="0.8" fill-opacity="0.45"/>
<rect x="250.80" y="538.78" width="1.33" height="0.8" fill-opacity="0.45"/>
<rect x="250.80" y="535.46" width="1.33" height="0.8" fill-opacity="0.45"/>
<rect x="250.80" y="534.35" width="1.33" height="0.8" fill-opacity="0.45"/>
<rect x="250.80" y="531.03" width="1.33" height="0.8" fill-opacity="0.45"/>
<rect x="250.80" y="528.81" width="1.33" height="0.8" fill-opacity="0.45"/>
<rect x="250.80" y="526.60" width="1.33" height="0.8" fill-opacity="0.45"/>
<rect x="252.73" y="540.93" width="1.33" height="0.8" fill-opacity="0.45"/>
<rect x="252.73" y="538.60" width="1.33" height="0.8" fill-opacity="0.45"/>
<rect x="252.73" y="536.27" width="1.33" height="0.8" fill-opacity="0.45"/>
<rect x="252.73" y="535.10" width="1.33" height="0.8" fill-opacity="0.45"/>
<rect x="252.73" y="531.60" width="1.33" height="0.8" fill-opacity="0.45"/>
<rect x="254.65" y="540.91" width="1.33" height="0.8" fill-opacity="0.45"/>
<rect x="254.65" y="539.73" width="1.33" height="0.8" fill-opacity="0.45"/>
<rect x="254.65" y="538.54" width="1.33" height="0.8" fill-opacity="0.45"/>
<rect x="254.65" y="534.98" width="1.33" height="0.8" fill-opacity="0.45"/>
<rect x="256.58" y="538.45" width="1.33" height="1.1"/>
<rect x="256.58" y="533.93" width="1.33" height="0.8" fill-opacity="0.45"/>
<rect x="256.58" y="531.60" width="1.33" height="0.8" fill-opacity="0.45"/>
<rect x="256.58" y="530.43" width="1.33" height="0.8" fill-opacity="0.45"/>
<rect x="256.58" y="524.60" width="1.33" height="0.8" fill-opacity="0.45"/>
<rect x="258.50" y="538.65" width="1.33" height="0.8" fill-opacity="0.45"/>
<rect x="258.50" y="536.35" width="1.33" height="0.8" fill-opacity="0.45"/>
<rect x="258.50" y="534.05" width="1.33" height="0.8" fill-opacity="0.45"/>
<rect x="258.50" y="529.45" width="1.33" height="0.8" fill-opacity="0.45"/>
<rect x="258.50" y="528.30" width="1.33" height="0.8" fill-opacity="0.45"/>
<rect x="258.50" y="524.70" width="1.33" height="1.1"/>
<rect x="258.50" y="521.40" width="1.33" height="0.8" fill-opacity="0.45"/>
<rect x="258.50" y="519.10" width="1.33" height="0.8" fill-opacity="0.45"/>
<rect x="260.43" y="540.98" width="1.33" height="0.8" fill-opacity="0.45"/>
<rect x="260.43" y="537.60" width="1.33" height="0.8" fill-opacity="0.45"/>
<rect x="260.43" y="535.35" width="1.33" height="0.8" fill-opacity="0.45"/>
<rect x="260.43" y="534.23" width="1.33" height="0.8" fill-opacity="0.45"/>
<rect x="260.43" y="529.58" width="1.33" height="1.1"/>
<rect x="260.43" y="523.95" width="1.33" height="1.1"/>
<rect x="260.43" y="520.73" width="1.33" height="0.8" fill-opacity="0.45"/>
<rect x="262.35" y="538.50" width="1.33" height="1.1"/>
<rect x="262.35" y="534.05" width="1.33" height="0.8" fill-opacity="0.45"/>
<rect x="262.35" y="531.75" width="1.33" height="0.8" fill-opacity="0.45"/>
<rect x="262.35" y="529.45" width="1.33" height="0.8" fill-opacity="0.45"/>
<rect x="262.35" y="522.40" width="1.33" height="1.1"/>
<rect x="262.35" y="517.80" width="1.33" height="1.1"/>
<rect x="262.35" y="508.75" width="1.33" height="0.8" fill-opacity="0.45"/>
<rect x="262.35" y="507.60" width="1.33" height="0.8" fill-opacity="0.45"/>
<rect x="264.28" y="540.96" width="1.33" height="0.8" fill-opacity="0.45"/>
<rect x="264.28" y="535.09" width="1.33" height="1.1"/>
<rect x="264.28" y="529.38" width="1.33" height="1.1"/>
<rect x="264.28" y="524.96" width="1.33" height="0.8" fill-opacity="0.45"/>
<rect x="264.28" y="522.67" width="1.33" height="0.8" fill-opacity="0.45"/>
<rect x="264.28" y="514.67" width="1.33" height="0.8" fill-opacity="0.45"/>
<rect x="264.28" y="513.53" width="1.33" height="0.8" fill-opacity="0.45"/>
<rect x="264.28" y="507.66" width="1.33" height="1.1"/>
<rect x="264.28" y="502.10" width="1.33" height="0.8" fill-opacity="0.45"/>
<rect x="266.20" y="538.73" width="1.33" height="0.8" fill-opacity="0.45"/>
<rect x="266.20" y="536.48" width="1.33" height="0.8" fill-opacity="0.45"/>
<rect x="266.20" y="534.23" width="1.33" height="0.8" fill-opacity="0.45"/>
<rect x="266.20" y="531.98" width="1.33" height="0.8" fill-opacity="0.45"/>
<rect x="266.20" y="526.35" width="1.33" height="0.8" fill-opacity="0.45"/>
<rect x="266.20" y="524.10" width="1.33" height="0.8" fill-opacity="0.45"/>
<rect x="266.20" y="520.58" width="1.33" height="1.1"/>
<rect x="266.20" y="515.10" width="1.33" height="0.8" fill-opacity="0.45"/>
<rect x="268.13" y="538.52" width="1.33" height="1.1"/>
<rect x="268.13" y="534.10" width="1.33" height="0.8" fill-opacity="0.45"/>
<rect x="268.13" y="532.96" width="1.33" height="0.8" fill-opacity="0.45"/>
<rect x="268.13" y="531.81" width="1.33" height="0.8" fill-opacity="0.45"/>
<rect x="268.13" y="530.67" width="1.33" height="0.8" fill-opacity="0.45"/>
<rect x="268.13" y="526.10" width="1.33" height="0.8" fill-opacity="0.45"/>
<rect x="270.05" y="539.84" width="1.33" height="0.8" fill-opacity="0.45"/>
<rect x="270.05" y="538.71" width="1.33" height="0.8" fill-opacity="0.45"/>
<rect x="270.05" y="536.44" width="1.33" height="0.8" fill-opacity="0.45"/>
<rect x="270.05" y="531.92" width="1.33" height="0.8" fill-opacity="0.45"/>
<rect x="270.05" y="529.65" width="1.33" height="0.8" fill-opacity="0.45"/>
<rect x="270.05" y="527.39" width="1.33" height="0.8" fill-opacity="0.45"/>
<rect x="270.05" y="526.26" width="1.33" height="0.8" fill-opacity="0.45"/>
<rect x="270.05" y="522.86" width="1.33" height="0.8" fill-opacity="0.45"/>
<rect x="270.05" y="520.60" width="1.33" height="0.8" fill-opacity="0.45"/>
<rect x="271.98" y="539.86" width="1.33" height="0.8" fill-opacity="0.45"/>
<rect x="271.98" y="538.74" width="1.33" height="0.8" fill-opacity="0.45"/>
<rect x="271.98" y="535.39" width="1.33" height="0.8" fill-opacity="0.45"/>
<rect x="271.98" y="533.15" width="1.33" height="0.8" fill-opacity="0.45"/>
<rect x="271.98" y="529.64" width="1.33" height="1.1"/>
<rect x="271.98" y="526.28" width="1.33" height="1.1"/>
<rect x="271.98" y="520.84" width="1.33" height="0.8" fill-opacity="0.45"/>
<rect x="273.90" y="540.98" width="1.33" height="0.8" fill-opacity="0.45"/>
<rect x="273.90" y="537.63" width="1.33" height="0.8" fill-opacity="0.45"/>
<rect x="273.90" y="535.40" width="1.33" height="0.8" fill-opacity="0.45"/>
<rect x="273.90" y="530.79" width="1.33" height="1.1"/>
<rect x="273.90" y="517.39" width="1.33" height="1.1"/>
<rect x="273.90" y="514.04" width="1.33" height="1.1"/>
<rect x="273.90" y="501.76" width="1.33" height="1.1"/>
<rect x="273.90" y="494.10" width="1.33" height="0.8" fill-opacity="0.45"/>
<rect x="275.83" y="539.77" width="1.33" height="0.8" fill-opacity="0.45"/>
<rect x="275.83" y="538.60" width="1.33" height="0.8" fill-opacity="0.45"/>
<rect x="275.83" y="534.95" width="1.33" height="1.1"/>
<rect x="275.83" y="531.60" width="1.33" height="0.8" fill-opacity="0.45"/>
<rect x="275.83" y="530.43" width="1.33" height="0.8" fill-opacity="0.45"/>
<rect x="275.83" y="528.10" width="1.33" height="0.8" fill-opacity="0.45"/>
<rect x="275.83" y="524.45" width="1.33" height="1.1"/>
<rect x="275.83" y="521.10" width="1.33" height="0.8" fill-opacity="0.45"/>
<rect x="277.75" y="540.95" width="1.33" height="0.8" fill-opacity="0.45"/>
<rect x="277.75" y="535.07" width="1.33" height="1.1"/>
<rect x="277.75" y="531.63" width="1.33" height="1.1"/>
<rect x="277.75" y="521.45" width="1.33" height="0.8" fill-opacity="0.45"/>
<rect x="277.75" y="520.31" width="1.33" height="0.8" fill-opacity="0.45"/>
<rect x="277.75" y="516.71" width="1.33" height="1.1"/>
<rect x="277.75" y="510.98" width="1.33" height="1.1"/>
<rect x="277.75" y="507.54" width="1.33" height="1.1"/>
<rect x="277.75" y="502.95" width="1.33" height="1.1"/>
<rect x="279.68" y="540.92" width="1.33" height="0.8" fill-opacity="0.45"/>
<rect x="279.68" y="539.74" width="1.33" height="0.8" fill-opacity="0.45"/>
<rect x="279.68" y="537.37" width="1.33" height="0.8" fill-opacity="0.45"/>
<rect x="279.68" y="536.19" width="1.33" height="0.8" fill-opacity="0.45"/>
<rect x="279.68" y="533.83" width="1.33" height="0.8" fill-opacity="0.45"/>
<rect x="279.68" y="532.65" width="1.33" height="0.8" fill-opacity="0.45"/>
<rect x="279.68" y="529.10" width="1.33" height="0.8" fill-opacity="0.45"/>
<rect x="281.60" y="540.98" width="1.33" height="0.8" fill-opacity="0.45"/>
<rect x="281.60" y="536.48" width="1.33" height="0.8" fill-opacity="0.45"/>
<rect x="281.60" y="534.23" width="1.33" height="0.8" fill-opacity="0.45"/>
<rect x="281.60" y="526.35" width="1.33" height="0.8" fill-opacity="0.45"/>
<rect x="281.60" y="525.23" width="1.33" height="0.8" fill-opacity="0.45"/>
<rect x="281.60" y="519.45" width="1.33" height="1.1"/>
<rect x="281.60" y="514.95" width="1.33" height="1.1"/>
<rect x="281.60" y="509.32" width="1.33" height="1.1"/>
<rect x="281.60" y="506.10" width="1.33" height="0.8" fill-opacity="0.45"/>
<rect x="283.53" y="540.96" width="1.33" height="0.8" fill-opacity="0.45"/>
<rect x="283.53" y="536.24" width="1.33" height="1.1"/>
<rect x="283.53" y="530.52" width="1.33" height="1.1"/>
<rect x="283.53" y="525.95" width="1.33" height="1.1"/>
<rect x="283.53" y="519.09" width="1.33" height="1.1"/>
<rect x="283.53" y="514.52" width="1.33" height="1.1"/>
<rect x="283.53" y="508.81" width="1.33" height="1.1"/>
<rect x="283.53" y="502.10" width="1.33" height="0.8" fill-opacity="0.45"/>
<rect x="285.46" y="538.58" width="1.33" height="1.1"/>
<rect x="285.46" y="530.70" width="1.33" height="1.1"/>
<rect x="285.46" y="526.20" width="1.33" height="1.1"/>
<rect x="285.46" y="521.70" width="1.33" height="1.1"/>
<rect x="285.46" y="517.20" width="1.33" height="1.1"/>
<rect x="285.46" y="510.45" width="1.33" height="1.1"/>
<rect x="285.46" y="504.82" width="1.33" height="1.1"/>
<rect x="287.38" y="539.81" width="1.33" height="0.8" fill-opacity="0.45"/>
<rect x="287.38" y="533.94" width="1.33" height="1.1"/>
<rect x="287.38" y="530.50" width="1.33" height="1.1"/>
<rect x="287.38" y="525.92" width="1.33" height="1.1"/>
<rect x="287.38" y="519.06" width="1.33" height="1.1"/>
<rect x="287.38" y="514.48" width="1.33" height="1.1"/>
<rect x="287.38" y="508.75" width="1.33" height="1.1"/>
<rect x="287.38" y="501.88" width="1.33" height="1.1"/>
<rect x="287.38" y="498.60" width="1.33" height="0.8" fill-opacity="0.45"/>
<rect x="289.31" y="540.98" width="1.33" height="0.8" fill-opacity="0.45"/>
<rect x="289.31" y="536.33" width="1.33" height="1.1"/>
<rect x="289.31" y="533.10" width="1.33" height="0.8" fill-opacity="0.45"/>
<rect x="289.31" y="531.98" width="1.33" height="0.8" fill-opacity="0.45"/>
<rect x="289.31" y="529.73" width="1.33" height="0.8" fill-opacity="0.45"/>
<rect x="289.31" y="522.98" width="1.33" height="0.8" fill-opacity="0.45"/>
<rect x="289.31" y="520.73" width="1.33" height="0.8" fill-opacity="0.45"/>
<rect x="289.31" y="519.60" width="1.33" height="0.8" fill-opacity="0.45"/>
<rect x="291.23" y="538.51" width="1.33" height="1.1"/>
<rect x="291.23" y="532.79" width="1.33" height="1.1"/>
<rect x="291.23" y="528.21" width="1.33" height="1.1"/>
<rect x="291.23" y="523.63" width="1.33" height="1.1"/>
<rect x="291.23" y="519.05" width="1.33" height="1.1"/>
<rect x="291.23" y="514.62" width="1.33" height="0.8" fill-opacity="0.45"/>
<rect x="291.23" y="512.33" width="1.33" height="0.8" fill-opacity="0.45"/>
<rect x="293.16" y="540.96" width="1.33" height="0.8" fill-opacity="0.45"/>
<rect x="293.16" y="533.01" width="1.33" height="0.8" fill-opacity="0.45"/>
<rect x="293.16" y="530.74" width="1.33" height="0.8" fill-opacity="0.45"/>
<rect x="293.16" y="526.04" width="1.33" height="1.1"/>
<rect x="293.16" y="520.36" width="1.33" height="1.1"/>
<rect x="293.16" y="517.10" width="1.33" height="0.8" fill-opacity="0.45"/>
<rect x="295.08" y="540.98" width="1.33" height="0.8" fill-opacity="0.45"/>
<rect x="295.08" y="538.73" width="1.33" height="0.8" fill-opacity="0.45"/>
<rect x="295.08" y="532.95" width="1.33" height="1.1"/>
<rect x="295.08" y="529.58" width="1.33" height="1.1"/>
<rect x="295.08" y="518.33" width="1.33" height="1.1"/>
<rect x="295.08" y="513.98" width="1.33" height="0.8" fill-opacity="0.45"/>
<rect x="295.08" y="512.85" width="1.33" height="0.8" fill-opacity="0.45"/>
<rect x="295.08" y="511.73" width="1.33" height="0.8" fill-opacity="0.45"/>
<rect x="295.08" y="510.60" width="1.33" height="0.8" fill-opacity="0.45"/>
<rect x="297.01" y="539.85" width="1.33" height="0.8" fill-opacity="0.45"/>
<rect x="297.01" y="537.60" width="1.33" height="0.8" fill-opacity="0.45"/>
<rect x="297.01" y="535.35" width="1.33" height="0.8" fill-opacity="0.45"/>
<rect x="297.01" y="534.23" width="1.33" height="0.8" fill-opacity="0.45"/>
<rect x="297.01" y="529.73" width="1.33" height="0.8" fill-opacity="0.45"/>
<rect x="298.93" y="539.84" width="1.33" height="0.8" fill-opacity="0.45"/>
<rect x="298.93" y="537.57" width="1.33" height="0.8" fill-opacity="0.45"/>
<rect x="298.93" y="536.44" width="1.33" height="0.8" fill-opacity="0.45"/>
<rect x="298.93" y="535.31" width="1.33" height="0.8" fill-opacity="0.45"/>
<rect x="298.93" y="531.77" width="1.33" height="1.1"/>
<rect x="298.93" y="527.24" width="1.33" height="1.1"/>
<rect x="298.93" y="523.84" width="1.33" height="1.1"/>
<rect x="298.93" y="520.60" width="1.33" height="0.8" fill-opacity="0.45"/>
<rect x="300.86" y="541.00" width="1.33" height="0.8" fill-opacity="0.45"/>
<rect x="300.86" y="539.90" width="1.33" height="0.8" fill-opacity="0.45"/>
<rect x="300.86" y="538.80" width="1.33" height="0.8" fill-opacity="0.45"/>
<rect x="300.86" y="536.60" width="1.33" height="0.8" fill-opacity="0.45"/>
<rect x="300.86" y="532.20" width="1.33" height="0.8" fill-opacity="0.45"/>
<rect x="300.86" y="531.10" width="1.33" height="0.8" fill-opacity="0.45"/>
<rect x="302.78" y="541.00" width="1.33" height="0.8" fill-opacity="0.45"/>
<rect x="302.78" y="538.80" width="1.33" height="0.8" fill-opacity="0.45"/>
<rect x="302.78" y="537.70" width="1.33" height="0.8" fill-opacity="0.45"/>
<rect x="304.71" y="540.98" width="1.33" height="0.8" fill-opacity="0.45"/>
<rect x="304.71" y="539.85" width="1.33" height="0.8" fill-opacity="0.45"/>
<rect x="304.71" y="538.73" width="1.33" height="0.8" fill-opacity="0.45"/>
<rect x="304.71" y="537.60" width="1.33" height="0.8" fill-opacity="0.45"/>
<rect x="304.71" y="535.35" width="1.33" height="0.8" fill-opacity="0.45"/>
<rect x="304.71" y="533.10" width="1.33" height="0.8" fill-opacity="0.45"/>
<rect x="306.63" y="540.93" width="1.33" height="0.8" fill-opacity="0.45"/>
<rect x="306.63" y="539.77" width="1.33" height="0.8" fill-opacity="0.45"/>
<rect x="306.63" y="538.60" width="1.33" height="0.8" fill-opacity="0.45"/>
<rect x="306.63" y="536.27" width="1.33" height="0.8" fill-opacity="0.45"/>
<rect x="306.63" y="535.10" width="1.33" height="0.8" fill-opacity="0.45"/>
<rect x="308.56" y="540.89" width="1.33" height="0.8" fill-opacity="0.45"/>
<rect x="308.56" y="539.67" width="1.33" height="0.8" fill-opacity="0.45"/>
<rect x="308.56" y="538.46" width="1.33" height="0.8" fill-opacity="0.45"/>
<rect x="308.56" y="536.03" width="1.33" height="0.8" fill-opacity="0.45"/>
<rect x="308.56" y="533.60" width="1.33" height="0.8" fill-opacity="0.45"/>
<rect x="310.48" y="539.90" width="1.33" height="0.8" fill-opacity="0.45"/>
<rect x="310.48" y="536.60" width="1.33" height="0.8" fill-opacity="0.45"/>
<rect x="310.48" y="535.50" width="1.33" height="0.8" fill-opacity="0.45"/>
<rect x="310.48" y="532.20" width="1.33" height="0.8" fill-opacity="0.45"/>
<rect x="310.48" y="531.10" width="1.33" height="0.8" fill-opacity="0.45"/>
<rect x="312.41" y="540.98" width="1.33" height="0.8" fill-opacity="0.45"/>
<rect x="312.41" y="538.73" width="1.33" height="0.8" fill-opacity="0.45"/>
<rect x="314.33" y="539.90" width="1.33" height="0.8" fill-opacity="0.45"/>
<rect x="314.33" y="538.80" width="1.33" height="0.8" fill-opacity="0.45"/>
<rect x="316.26" y="541.02" width="1.33" height="0.8" fill-opacity="0.45"/>
<rect x="316.26" y="539.93" width="1.33" height="0.8" fill-opacity="0.45"/>
<rect x="316.26" y="538.85" width="1.33" height="0.8" fill-opacity="0.45"/>
<rect x="316.26" y="535.60" width="1.33" height="0.8" fill-opacity="0.45"/>
<rect x="318.19" y="540.98" width="1.33" height="0.8" fill-opacity="0.45"/>
<rect x="318.19" y="539.85" width="1.33" height="0.8" fill-opacity="0.45"/>
<rect x="318.19" y="538.73" width="1.33" height="0.8" fill-opacity="0.45"/>
<rect x="318.19" y="537.60" width="1.33" height="0.8" fill-opacity="0.45"/>
<rect x="320.11" y="540.90" width="1.33" height="0.8" fill-opacity="0.45"/>
<rect x="320.11" y="538.50" width="1.33" height="0.8" fill-opacity="0.45"/>
<rect x="320.11" y="537.30" width="1.33" height="0.8" fill-opacity="0.45"/>
<rect x="320.11" y="536.10" width="1.33" height="0.8" fill-opacity="0.45"/>
<rect x="322.04" y="541.60" width="1.33" height="0.8" fill-opacity="0.45"/>
<rect x="325.89" y="540.85" width="1.33" height="0.8" fill-opacity="0.45"/>
<rect x="327.81" y="540.98" width="1.33" height="0.8" fill-opacity="0.45"/>
<rect x="327.81" y="539.85" width="1.33" height="0.8" fill-opacity="0.45"/>
<rect x="329.74" y="539.90" width="1.33" height="0.8" fill-opacity="0.45"/>
<rect x="329.74" y="538.80" width="1.33" height="0.8" fill-opacity="0.45"/>
<rect x="329.74" y="537.70" width="1.33" height="0.8" fill-opacity="0.45"/>
<rect x="331.66" y="540.90" width="1.33" height="0.8" fill-opacity="0.45"/>
<rect x="331.66" y="539.70" width="1.33" height="0.8" fill-opacity="0.45"/>
<rect x="331.66" y="538.50" width="1.33" height="0.8" fill-opacity="0.45"/>
<rect x="331.66" y="536.10" width="1.33" height="0.8" fill-opacity="0.45"/>
<rect x="333.59" y="539.74" width="1.33" height="0.8" fill-opacity="0.45"/>
<rect x="333.59" y="538.55" width="1.33" height="0.8" fill-opacity="0.45"/>
<rect x="333.59" y="537.37" width="1.33" height="0.8" fill-opacity="0.45"/>
<rect x="333.59" y="535.01" width="1.33" height="0.8" fill-opacity="0.45"/>
<rect x="333.59" y="531.46" width="1.33" height="0.8" fill-opacity="0.45"/>
<rect x="333.59" y="529.10" width="1.33" height="0.8" fill-opacity="0.45"/>
<rect x="335.51" y="540.98" width="1.33" height="0.8" fill-opacity="0.45"/>
<rect x="335.51" y="539.85" width="1.33" height="0.8" fill-opacity="0.45"/>
<rect x="335.51" y="538.73" width="1.33" height="0.8" fill-opacity="0.45"/>
<rect x="337.44" y="540.91" width="1.33" height="0.8" fill-opacity="0.45"/>
<rect x="337.44" y="539.73" width="1.33" height="0.8" fill-opacity="0.45"/>
<rect x="337.44" y="538.54" width="1.33" height="0.8" fill-opacity="0.45"/>
<rect x="337.44" y="533.79" width="1.33" height="0.8" fill-opacity="0.45"/>
<rect x="339.36" y="541.10" width="1.33" height="0.8" fill-opacity="0.45"/>
<rect x="341.29" y="540.85" width="1.33" height="0.8" fill-opacity="0.45"/>
<rect x="341.29" y="539.60" width="1.33" height="0.8" fill-opacity="0.45"/>
<rect x="341.29" y="538.35" width="1.33" height="0.8" fill-opacity="0.45"/>
<rect x="341.29" y="537.10" width="1.33" height="0.8" fill-opacity="0.45"/>
<rect x="343.21" y="541.10" width="1.33" height="0.8" fill-opacity="0.45"/>
<rect x="345.14" y="540.10" width="1.33" height="0.8" fill-opacity="0.45"/>
<rect x="347.06" y="541.10" width="1.33" height="0.8" fill-opacity="0.45"/>
<rect x="347.06" y="540.10" width="1.33" height="0.8" fill-opacity="0.45"/>
<rect x="347.06" y="538.10" width="1.33" height="0.8" fill-opacity="0.45"/>
<rect x="348.99" y="540.85" width="1.33" height="0.8" fill-opacity="0.45"/>
<rect x="348.99" y="539.60" width="1.33" height="0.8" fill-opacity="0.45"/>
<rect x="350.91" y="541.10" width="1.33" height="0.8" fill-opacity="0.45"/>
<rect x="352.84" y="540.85" width="1.33" height="0.8" fill-opacity="0.45"/>
<rect x="354.77" y="541.10" width="1.33" height="0.8" fill-opacity="0.45"/>
<rect x="354.77" y="540.10" width="1.33" height="0.8" fill-opacity="0.45"/>
<rect x="356.69" y="540.85" width="1.33" height="0.8" fill-opacity="0.45"/>
<rect x="358.62" y="540.85" width="1.33" height="0.8" fill-opacity="0.45"/>
<rect x="358.62" y="539.60" width="1.33" height="0.8" fill-opacity="0.45"/>
<rect x="358.62" y="537.10" width="1.33" height="0.8" fill-opacity="0.45"/>
<rect x="360.54" y="540.93" width="1.33" height="0.8" fill-opacity="0.45"/>
<rect x="360.54" y="539.77" width="1.33" height="0.8" fill-opacity="0.45"/>
<rect x="362.47" y="540.85" width="1.33" height="0.8" fill-opacity="0.45"/>
<rect x="362.47" y="539.60" width="1.33" height="0.8" fill-opacity="0.45"/>
<rect x="364.39" y="541.10" width="1.33" height="0.8" fill-opacity="0.45"/>
<rect x="364.39" y="540.10" width="1.33" height="0.8" fill-opacity="0.45"/>
<rect x="364.39" y="539.10" width="1.33" height="0.8" fill-opacity="0.45"/>
<rect x="366.32" y="541.10" width="1.33" height="0.8" fill-opacity="0.45"/>
<rect x="366.32" y="540.10" width="1.33" height="0.8" fill-opacity="0.45"/>
<rect x="366.32" y="539.10" width="1.33" height="0.8" fill-opacity="0.45"/>
<rect x="368.24" y="541.10" width="1.33" height="0.8" fill-opacity="0.45"/>
<rect x="368.24" y="540.10" width="1.33" height="0.8" fill-opacity="0.45"/>
<rect x="368.24" y="539.10" width="1.33" height="0.8" fill-opacity="0.45"/>
<rect x="368.24" y="538.10" width="1.33" height="0.8" fill-opacity="0.45"/>
<rect x="370.17" y="540.96" width="1.33" height="0.8" fill-opacity="0.45"/>
<rect x="370.17" y="538.67" width="1.33" height="0.8" fill-opacity="0.45"/>
<rect x="370.17" y="537.53" width="1.33" height="0.8" fill-opacity="0.45"/>
<rect x="370.17" y="536.39" width="1.33" height="0.8" fill-opacity="0.45"/>
<rect x="370.17" y="534.10" width="1.33" height="0.8" fill-opacity="0.45"/>
<rect x="372.09" y="540.96" width="1.33" height="0.8" fill-opacity="0.45"/>
<rect x="372.09" y="537.53" width="1.33" height="0.8" fill-opacity="0.45"/>
<rect x="372.09" y="536.39" width="1.33" height="0.8" fill-opacity="0.45"/>
<rect x="372.09" y="535.24" width="1.33" height="0.8" fill-opacity="0.45"/>
<rect x="374.02" y="539.60" width="1.33" height="0.8" fill-opacity="0.45"/>
<rect x="374.02" y="538.35" width="1.33" height="0.8" fill-opacity="0.45"/>
<rect x="374.02" y="537.10" width="1.33" height="0.8" fill-opacity="0.45"/>
<rect x="375.94" y="541.10" width="1.33" height="0.8" fill-opacity="0.45"/>
<rect x="375.94" y="540.10" width="1.33" height="0.8" fill-opacity="0.45"/>
<rect x="375.94" y="539.10" width="1.33" height="0.8" fill-opacity="0.45"/>
<rect x="375.94" y="538.10" width="1.33" height="0.8" fill-opacity="0.45"/>
<rect x="377.87" y="540.85" width="1.33" height="0.8" fill-opacity="0.45"/>
<rect x="379.79" y="540.10" width="1.33" height="0.8" fill-opacity="0.45"/>
<rect x="379.79" y="538.10" width="1.33" height="0.8" fill-opacity="0.45"/>
<rect x="381.72" y="539.85" width="1.33" height="0.8" fill-opacity="0.45"/>
<rect x="381.72" y="538.73" width="1.33" height="0.8" fill-opacity="0.45"/>
<rect x="383.64" y="540.60" width="1.33" height="0.8" fill-opacity="0.45"/>
<rect x="393.27" y="540.90" width="1.33" height="0.8" fill-opacity="0.45"/>
<rect x="393.27" y="535.95" width="1.33" height="1.1"/>
<rect x="395.20" y="541.10" width="1.33" height="0.8" fill-opacity="0.45"/>
<rect x="395.20" y="539.10" width="1.33" height="0.8" fill-opacity="0.45"/>
<rect x="395.20" y="538.10" width="1.33" height="0.8" fill-opacity="0.45"/>
<rect x="397.12" y="541.10" width="1.33" height="0.8" fill-opacity="0.45"/>
<rect x="397.12" y="540.10" width="1.33" height="0.8" fill-opacity="0.45"/>
<rect x="397.12" y="539.10" width="1.33" height="0.8" fill-opacity="0.45"/>
<rect x="399.05" y="541.10" width="1.33" height="0.8" fill-opacity="0.45"/>
<rect x="399.05" y="540.10" width="1.33" height="0.8" fill-opacity="0.45"/>
<rect x="399.05" y="539.10" width="1.33" height="0.8" fill-opacity="0.45"/>
<rect x="400.97" y="540.95" width="1.33" height="0.8" fill-opacity="0.45"/>
<rect x="400.97" y="539.79" width="1.33" height="0.8" fill-opacity="0.45"/>
<rect x="400.97" y="536.33" width="1.33" height="0.8" fill-opacity="0.45"/>
<rect x="400.97" y="534.02" width="1.33" height="0.8" fill-opacity="0.45"/>
<rect x="400.97" y="531.72" width="1.33" height="0.8" fill-opacity="0.45"/>
<rect x="400.97" y="527.10" width="1.33" height="0.8" fill-opacity="0.45"/>
<rect x="402.90" y="540.96" width="1.33" height="0.8" fill-opacity="0.45"/>
<rect x="402.90" y="537.55" width="1.33" height="0.8" fill-opacity="0.45"/>
<rect x="402.90" y="536.42" width="1.33" height="0.8" fill-opacity="0.45"/>
<rect x="402.90" y="534.15" width="1.33" height="0.8" fill-opacity="0.45"/>
<rect x="402.90" y="533.01" width="1.33" height="0.8" fill-opacity="0.45"/>
<rect x="402.90" y="531.87" width="1.33" height="0.8" fill-opacity="0.45"/>
<rect x="402.90" y="530.74" width="1.33" height="0.8" fill-opacity="0.45"/>
<rect x="404.82" y="540.96" width="1.33" height="0.8" fill-opacity="0.45"/>
<rect x="404.82" y="537.55" width="1.33" height="0.8" fill-opacity="0.45"/>
<rect x="404.82" y="535.28" width="1.33" height="0.8" fill-opacity="0.45"/>
<rect x="404.82" y="534.15" width="1.33" height="0.8" fill-opacity="0.45"/>
<rect x="404.82" y="531.87" width="1.33" height="0.8" fill-opacity="0.45"/>
<rect x="406.75" y="540.93" width="1.33" height="0.8" fill-opacity="0.45"/>
<rect x="406.75" y="539.77" width="1.33" height="0.8" fill-opacity="0.45"/>
<rect x="408.67" y="536.39" width="1.33" height="0.8" fill-opacity="0.45"/>
<rect x="408.67" y="535.24" width="1.33" height="0.8" fill-opacity="0.45"/>
<rect x="420.23" y="541.10" width="1.33" height="0.8" fill-opacity="0.45"/>
<rect x="424.08" y="541.10" width="1.33" height="0.8" fill-opacity="0.45"/>
<rect x="424.08" y="539.10" width="1.33" height="0.8" fill-opacity="0.45"/>
<rect x="427.93" y="540.60" width="1.33" height="0.8" fill-opacity="0.45"/>
<rect x="431.78" y="540.98" width="1.33" height="0.8" fill-opacity="0.45"/>
<rect x="431.78" y="538.73" width="1.33" height="0.8" fill-opacity="0.45"/>
<rect x="431.78" y="537.60" width="1.33" height="0.8" fill-opacity="0.45"/>
<rect x="433.70" y="536.60" width="1.33" height="0.8" fill-opacity="0.45"/>
<rect x="433.70" y="535.50" width="1.33" height="0.8" fill-opacity="0.45"/>
<rect x="433.70" y="533.30" width="1.33" height="0.8" fill-opacity="0.45"/>
<rect x="433.70" y="531.10" width="1.33" height="0.8" fill-opacity="0.45"/>
<rect x="435.63" y="540.93" width="1.33" height="0.8" fill-opacity="0.45"/>
<rect x="435.63" y="539.77" width="1.33" height="0.8" fill-opacity="0.45"/>
<rect x="435.63" y="538.60" width="1.33" height="0.8" fill-opacity="0.45"/>
<rect x="437.55" y="541.60" width="1.33" height="0.8" fill-opacity="0.45"/>
<rect x="439.48" y="538.54" width="1.33" height="0.8" fill-opacity="0.45"/>
<rect x="439.48" y="537.35" width="1.33" height="0.8" fill-opacity="0.45"/>
<rect x="439.48" y="536.16" width="1.33" height="0.8" fill-opacity="0.45"/>
<rect x="439.48" y="533.79" width="1.33" height="0.8" fill-opacity="0.45"/>
<rect x="439.48" y="532.60" width="1.33" height="0.8" fill-opacity="0.45"/>
<rect x="441.40" y="538.80" width="1.33" height="0.8" fill-opacity="0.45"/>
<rect x="441.40" y="537.70" width="1.33" height="0.8" fill-opacity="0.45"/>
<rect x="441.40" y="536.60" width="1.33" height="0.8" fill-opacity="0.45"/>
<rect x="445.25" y="540.98" width="1.33" height="0.8" fill-opacity="0.45"/>
<rect x="445.25" y="538.73" width="1.33" height="0.8" fill-opacity="0.45"/>
<rect x="445.25" y="537.60" width="1.33" height="0.8" fill-opacity="0.45"/>
<rect x="447.18" y="539.77" width="1.33" height="0.8" fill-opacity="0.45"/>
<rect x="447.18" y="538.60" width="1.33" height="0.8" fill-opacity="0.45"/>
<rect x="451.03" y="539.70" width="1.33" height="0.8" fill-opacity="0.45"/>
<rect x="451.03" y="538.50" width="1.33" height="0.8" fill-opacity="0.45"/>
<rect x="451.03" y="537.30" width="1.33" height="0.8" fill-opacity="0.45"/>
<rect x="452.96" y="540.93" width="1.33" height="0.8" fill-opacity="0.45"/>
<rect x="452.96" y="537.43" width="1.33" height="0.8" fill-opacity="0.45"/>
<rect x="452.96" y="536.27" width="1.33" height="0.8" fill-opacity="0.45"/>
<rect x="452.96" y="535.10" width="1.33" height="0.8" fill-opacity="0.45"/>
<rect x="454.88" y="539.77" width="1.33" height="0.8" fill-opacity="0.45"/>
<rect x="456.81" y="540.85" width="1.33" height="0.8" fill-opacity="0.45"/>
<rect x="456.81" y="539.60" width="1.33" height="0.8" fill-opacity="0.45"/>
<rect x="458.73" y="541.10" width="1.33" height="0.8" fill-opacity="0.45"/>
<rect x="460.66" y="541.10" width="1.33" height="0.8" fill-opacity="0.45"/>
<rect x="460.66" y="540.10" width="1.33" height="0.8" fill-opacity="0.45"/>
<rect x="460.66" y="539.10" width="1.33" height="0.8" fill-opacity="0.45"/>
<rect x="462.58" y="540.93" width="1.33" height="0.8" fill-opacity="0.45"/>
<rect x="462.58" y="536.27" width="1.33" height="0.8" fill-opacity="0.45"/>
<rect x="462.58" y="535.10" width="1.33" height="0.8" fill-opacity="0.45"/>
<rect x="464.51" y="536.20" width="1.33" height="1.1"/>
<rect x="464.51" y="532.90" width="1.33" height="0.8" fill-opacity="0.45"/>
<rect x="464.51" y="531.75" width="1.33" height="0.8" fill-opacity="0.45"/>
<rect x="464.51" y="530.60" width="1.33" height="0.8" fill-opacity="0.45"/>
<rect x="466.43" y="540.95" width="1.33" height="0.8" fill-opacity="0.45"/>
<rect x="466.43" y="537.50" width="1.33" height="0.8" fill-opacity="0.45"/>
<rect x="466.43" y="535.20" width="1.33" height="0.8" fill-opacity="0.45"/>
<rect x="466.43" y="532.90" width="1.33" height="0.8" fill-opacity="0.45"/>
<rect x="466.43" y="531.75" width="1.33" height="0.8" fill-opacity="0.45"/>
<rect x="466.43" y="530.60" width="1.33" height="0.8" fill-opacity="0.45"/>
<rect x="468.36" y="540.98" width="1.33" height="0.8" fill-opacity="0.45"/>
<rect x="468.36" y="538.73" width="1.33" height="0.8" fill-opacity="0.45"/>
<rect x="468.36" y="537.60" width="1.33" height="0.8" fill-opacity="0.45"/>
<rect x="470.28" y="538.58" width="1.33" height="1.1"/>
<rect x="470.28" y="534.23" width="1.33" height="0.8" fill-opacity="0.45"/>
<rect x="470.28" y="531.98" width="1.33" height="0.8" fill-opacity="0.45"/>
<rect x="470.28" y="529.73" width="1.33" height="0.8" fill-opacity="0.45"/>
<rect x="470.28" y="528.60" width="1.33" height="0.8" fill-opacity="0.45"/>
<rect x="472.21" y="540.95" width="1.33" height="0.8" fill-opacity="0.45"/>
<rect x="472.21" y="537.35" width="1.33" height="1.1"/>
<rect x="472.21" y="534.05" width="1.33" height="0.8" fill-opacity="0.45"/>
<rect x="472.21" y="532.90" width="1.33" height="0.8" fill-opacity="0.45"/>
<rect x="472.21" y="531.75" width="1.33" height="0.8" fill-opacity="0.45"/>
<rect x="474.13" y="539.80" width="1.33" height="0.8" fill-opacity="0.45"/>
<rect x="474.13" y="536.20" width="1.33" height="1.1"/>
<rect x="474.13" y="531.75" width="1.33" height="0.8" fill-opacity="0.45"/>
<rect x="474.13" y="530.60" width="1.33" height="0.8" fill-opacity="0.45"/>
<rect x="476.06" y="540.89" width="1.33" height="0.8" fill-opacity="0.45"/>
<rect x="476.06" y="539.67" width="1.33" height="0.8" fill-opacity="0.45"/>
<rect x="476.06" y="536.03" width="1.33" height="0.8" fill-opacity="0.45"/>
<rect x="476.06" y="534.81" width="1.33" height="0.8" fill-opacity="0.45"/>
<rect x="476.06" y="533.60" width="1.33" height="0.8" fill-opacity="0.45"/>
<rect x="477.98" y="537.28" width="1.33" height="1.1"/>
<rect x="477.98" y="533.93" width="1.33" height="0.8" fill-opacity="0.45"/>
<rect x="477.98" y="532.77" width="1.33" height="0.8" fill-opacity="0.45"/>
<rect x="477.98" y="531.60" width="1.33" height="0.8" fill-opacity="0.45"/>
<rect x="479.91" y="536.27" width="1.33" height="0.8" fill-opacity="0.45"/>
<rect x="479.91" y="535.10" width="1.33" height="0.8" fill-opacity="0.45"/>
<rect x="479.91" y="532.77" width="1.33" height="0.8" fill-opacity="0.45"/>
<rect x="479.91" y="531.60" width="1.33" height="0.8" fill-opacity="0.45"/>
<rect x="481.83" y="541.03" width="1.33" height="0.8" fill-opacity="0.45"/>
<rect x="481.83" y="539.96" width="1.33" height="0.8" fill-opacity="0.45"/>
<rect x="481.83" y="538.89" width="1.33" height="0.8" fill-opacity="0.45"/>
<rect x="481.83" y="536.74" width="1.33" height="0.8" fill-opacity="0.45"/>
<rect x="481.83" y="535.67" width="1.33" height="0.8" fill-opacity="0.45"/>
<rect x="481.83" y="534.60" width="1.33" height="0.8" fill-opacity="0.45"/>
<rect x="483.76" y="536.12" width="1.33" height="1.1"/>
<rect x="483.76" y="532.77" width="1.33" height="0.8" fill-opacity="0.45"/>
<rect x="483.76" y="531.60" width="1.33" height="0.8" fill-opacity="0.45"/>
<rect x="485.69" y="538.54" width="1.33" height="1.1"/>
<rect x="485.69" y="535.13" width="1.33" height="1.1"/>
<rect x="485.69" y="531.87" width="1.33" height="0.8" fill-opacity="0.45"/>
<rect x="485.69" y="529.60" width="1.33" height="0.8" fill-opacity="0.45"/>
<rect x="487.61" y="540.85" width="1.33" height="0.8" fill-opacity="0.45"/>
<rect x="487.61" y="539.60" width="1.33" height="0.8" fill-opacity="0.45"/>
<rect x="489.54" y="539.93" width="1.33" height="0.8" fill-opacity="0.45"/>
<rect x="489.54" y="537.77" width="1.33" height="0.8" fill-opacity="0.45"/>
<rect x="489.54" y="536.68" width="1.33" height="0.8" fill-opacity="0.45"/>
<rect x="489.54" y="535.60" width="1.33" height="0.8" fill-opacity="0.45"/>
<rect x="491.46" y="540.95" width="1.33" height="0.8" fill-opacity="0.45"/>
<rect x="491.46" y="538.65" width="1.33" height="0.8" fill-opacity="0.45"/>
<rect x="491.46" y="535.05" width="1.33" height="1.1"/>
<rect x="491.46" y="531.75" width="1.33" height="0.8" fill-opacity="0.45"/>
<rect x="493.39" y="538.58" width="1.33" height="1.1"/>
<rect x="493.39" y="535.20" width="1.33" height="1.1"/>
<rect x="493.39" y="530.85" width="1.33" height="0.8" fill-opacity="0.45"/>
<rect x="493.39" y="529.73" width="1.33" height="0.8" fill-opacity="0.45"/>
<rect x="493.39" y="528.60" width="1.33" height="0.8" fill-opacity="0.45"/>
<rect x="495.31" y="541.00" width="1.33" height="0.8" fill-opacity="0.45"/>
<rect x="495.31" y="539.90" width="1.33" height="0.8" fill-opacity="0.45"/>
<rect x="495.31" y="537.70" width="1.33" height="0.8" fill-opacity="0.45"/>
<rect x="495.31" y="536.60" width="1.33" height="0.8" fill-opacity="0.45"/>
<rect x="497.24" y="540.85" width="1.33" height="0.8" fill-opacity="0.45"/>
<rect x="497.24" y="539.60" width="1.33" height="0.8" fill-opacity="0.45"/>
<rect x="499.16" y="539.85" width="1.33" height="0.8" fill-opacity="0.45"/>
<rect x="499.16" y="538.73" width="1.33" height="0.8" fill-opacity="0.45"/>
<rect x="499.16" y="537.60" width="1.33" height="0.8" fill-opacity="0.45"/>
<rect x="501.09" y="541.02" width="1.33" height="0.8" fill-opacity="0.45"/>
<rect x="501.09" y="537.77" width="1.33" height="0.8" fill-opacity="0.45"/>
<rect x="501.09" y="536.68" width="1.33" height="0.8" fill-opacity="0.45"/>
<rect x="501.09" y="535.60" width="1.33" height="0.8" fill-opacity="0.45"/>
<rect x="503.01" y="540.95" width="1.33" height="0.8" fill-opacity="0.45"/>
<rect x="503.01" y="531.63" width="1.33" height="1.1"/>
<rect x="503.01" y="528.19" width="1.33" height="1.1"/>
<rect x="503.01" y="523.75" width="1.33" height="0.8" fill-opacity="0.45"/>
<rect x="503.01" y="522.60" width="1.33" height="0.8" fill-opacity="0.45"/>
<rect x="504.94" y="533.93" width="1.33" height="0.8" fill-opacity="0.45"/>
<rect x="506.86" y="540.98" width="1.33" height="0.8" fill-opacity="0.45"/>
<rect x="506.86" y="535.20" width="1.33" height="1.1"/>
<rect x="506.86" y="530.85" width="1.33" height="0.8" fill-opacity="0.45"/>
<rect x="506.86" y="528.60" width="1.33" height="0.8" fill-opacity="0.45"/>
<rect x="508.79" y="539.90" width="1.33" height="0.8" fill-opacity="0.45"/>
<rect x="508.79" y="535.35" width="1.33" height="1.1"/>
<rect x="508.79" y="532.20" width="1.33" height="0.8" fill-opacity="0.45"/>
<rect x="508.79" y="531.10" width="1.33" height="0.8" fill-opacity="0.45"/>
<rect x="510.71" y="539.85" width="1.33" height="0.8" fill-opacity="0.45"/>
<rect x="510.71" y="537.60" width="1.33" height="0.8" fill-opacity="0.45"/>
<rect x="512.64" y="540.98" width="1.33" height="0.8" fill-opacity="0.45"/>
<rect x="512.64" y="538.73" width="1.33" height="0.8" fill-opacity="0.45"/>
<rect x="512.64" y="537.60" width="1.33" height="0.8" fill-opacity="0.45"/>
<rect x="514.56" y="537.60" width="1.33" height="0.8" fill-opacity="0.45"/>
<rect x="516.49" y="538.60" width="1.33" height="0.8" fill-opacity="0.45"/>
<rect x="516.49" y="536.27" width="1.33" height="0.8" fill-opacity="0.45"/>
<rect x="516.49" y="535.10" width="1.33" height="0.8" fill-opacity="0.45"/>
<rect x="516.49" y="533.93" width="1.33" height="0.8" fill-opacity="0.45"/>
<rect x="518.41" y="540.98" width="1.33" height="0.8" fill-opacity="0.45"/>
<rect x="518.41" y="536.48" width="1.33" height="0.8" fill-opacity="0.45"/>
<rect x="518.41" y="534.23" width="1.33" height="0.8" fill-opacity="0.45"/>
<rect x="518.41" y="533.10" width="1.33" height="0.8" fill-opacity="0.45"/>
<rect x="518.41" y="531.98" width="1.33" height="0.8" fill-opacity="0.45"/>
<rect x="518.41" y="530.85" width="1.33" height="0.8" fill-opacity="0.45"/>
<rect x="518.41" y="529.73" width="1.33" height="0.8" fill-opacity="0.45"/>
<rect x="518.41" y="528.60" width="1.33" height="0.8" fill-opacity="0.45"/>
<rect x="520.34" y="539.77" width="1.33" height="0.8" fill-opacity="0.45"/>
<rect x="520.34" y="538.60" width="1.33" height="0.8" fill-opacity="0.45"/>
<rect x="520.34" y="537.43" width="1.33" height="0.8" fill-opacity="0.45"/>
<rect x="520.34" y="535.10" width="1.33" height="0.8" fill-opacity="0.45"/>
<rect x="522.27" y="539.60" width="1.33" height="0.8" fill-opacity="0.45"/>
<rect x="524.19" y="538.80" width="1.33" height="0.8" fill-opacity="0.45"/>
<rect x="524.19" y="537.70" width="1.33" height="0.8" fill-opacity="0.45"/>
<rect x="524.19" y="536.60" width="1.33" height="0.8" fill-opacity="0.45"/>
<rect x="526.12" y="540.99" width="1.33" height="0.8" fill-opacity="0.45"/>
<rect x="526.12" y="535.46" width="1.33" height="0.8" fill-opacity="0.45"/>
<rect x="526.12" y="534.35" width="1.33" height="0.8" fill-opacity="0.45"/>
<rect x="526.12" y="532.14" width="1.33" height="0.8" fill-opacity="0.45"/>
<rect x="526.12" y="528.81" width="1.33" height="0.8" fill-opacity="0.45"/>
<rect x="526.12" y="527.71" width="1.33" height="0.8" fill-opacity="0.45"/>
<rect x="526.12" y="526.60" width="1.33" height="0.8" fill-opacity="0.45"/>
<rect x="528.04" y="540.98" width="1.33" height="0.8" fill-opacity="0.45"/>
<rect x="528.04" y="538.73" width="1.33" height="0.8" fill-opacity="0.45"/>
<rect x="528.04" y="537.60" width="1.33" height="0.8" fill-opacity="0.45"/>
<rect x="529.97" y="538.60" width="1.33" height="0.8" fill-opacity="0.45"/>
<rect x="531.89" y="541.10" width="1.33" height="0.8" fill-opacity="0.45"/>
<rect x="531.89" y="540.10" width="1.33" height="0.8" fill-opacity="0.45"/>
<rect x="531.89" y="539.10" width="1.33" height="0.8" fill-opacity="0.45"/>
<rect x="533.82" y="541.03" width="1.33" height="0.8" fill-opacity="0.45"/>
<rect x="533.82" y="536.74" width="1.33" height="0.8" fill-opacity="0.45"/>
<rect x="533.82" y="535.67" width="1.33" height="0.8" fill-opacity="0.45"/>
<rect x="533.82" y="534.60" width="1.33" height="0.8" fill-opacity="0.45"/>
<rect x="535.74" y="539.85" width="1.33" height="0.8" fill-opacity="0.45"/>
<rect x="537.67" y="541.10" width="1.33" height="0.8" fill-opacity="0.45"/>
<rect x="537.67" y="538.10" width="1.33" height="0.8" fill-opacity="0.45"/>
<rect x="539.59" y="538.67" width="1.33" height="0.8" fill-opacity="0.45"/>
<rect x="539.59" y="537.53" width="1.33" height="0.8" fill-opacity="0.45"/>
<rect x="539.59" y="535.24" width="1.33" height="0.8" fill-opacity="0.45"/>
<rect x="539.59" y="534.10" width="1.33" height="0.8" fill-opacity="0.45"/>
<rect x="541.52" y="540.85" width="1.33" height="0.8" fill-opacity="0.45"/>
<rect x="541.52" y="539.60" width="1.33" height="0.8" fill-opacity="0.45"/>
<rect x="543.44" y="540.95" width="1.33" height="0.8" fill-opacity="0.45"/>
<rect x="543.44" y="535.20" width="1.33" height="0.8" fill-opacity="0.45"/>
<rect x="543.44" y="534.05" width="1.33" height="0.8" fill-opacity="0.45"/>
<rect x="543.44" y="531.75" width="1.33" height="0.8" fill-opacity="0.45"/>
<rect x="545.37" y="540.10" width="1.33" height="0.8" fill-opacity="0.45"/>
<rect x="545.37" y="538.10" width="1.33" height="0.8" fill-opacity="0.45"/>
<rect x="547.29" y="539.60" width="1.33" height="0.8" fill-opacity="0.45"/>
<rect x="547.29" y="538.35" width="1.33" height="0.8" fill-opacity="0.45"/>
<rect x="547.29" y="537.10" width="1.33" height="0.8" fill-opacity="0.45"/>
<rect x="549.22" y="541.10" width="1.33" height="0.8" fill-opacity="0.45"/>
<rect x="551.14" y="540.98" width="1.33" height="0.8" fill-opacity="0.45"/>
<rect x="551.14" y="538.73" width="1.33" height="0.8" fill-opacity="0.45"/>
<rect x="551.14" y="537.60" width="1.33" height="0.8" fill-opacity="0.45"/>
<rect x="553.07" y="539.85" width="1.33" height="0.8" fill-opacity="0.45"/>
<rect x="553.07" y="538.73" width="1.33" height="0.8" fill-opacity="0.45"/>
<rect x="553.07" y="537.60" width="1.33" height="0.8" fill-opacity="0.45"/>
<rect x="555.00" y="541.03" width="1.33" height="0.8" fill-opacity="0.45"/>
<rect x="555.00" y="537.81" width="1.33" height="0.8" fill-opacity="0.45"/>
<rect x="555.00" y="536.74" width="1.33" height="0.8" fill-opacity="0.45"/>
<rect x="555.00" y="534.60" width="1.33" height="0.8" fill-opacity="0.45"/>
<rect x="556.92" y="540.85" width="1.33" height="0.8" fill-opacity="0.45"/>
<rect x="556.92" y="538.35" width="1.33" height="0.8" fill-opacity="0.45"/>
<rect x="556.92" y="537.10" width="1.33" height="0.8" fill-opacity="0.45"/>
<rect x="558.85" y="540.96" width="1.33" height="0.8" fill-opacity="0.45"/>
<rect x="558.85" y="536.42" width="1.33" height="0.8" fill-opacity="0.45"/>
<rect x="558.85" y="534.15" width="1.33" height="0.8" fill-opacity="0.45"/>
<rect x="558.85" y="530.74" width="1.33" height="0.8" fill-opacity="0.45"/>
<rect x="558.85" y="529.60" width="1.33" height="0.8" fill-opacity="0.45"/>
<rect x="560.77" y="538.54" width="1.33" height="1.1"/>
<rect x="560.77" y="533.01" width="1.33" height="0.8" fill-opacity="0.45"/>
<rect x="560.77" y="531.87" width="1.33" height="0.8" fill-opacity="0.45"/>
<rect x="560.77" y="530.74" width="1.33" height="0.8" fill-opacity="0.45"/>
<rect x="560.77" y="529.60" width="1.33" height="0.8" fill-opacity="0.45"/>
<rect x="562.70" y="539.80" width="1.33" height="0.8" fill-opacity="0.45"/>
<rect x="562.70" y="535.05" width="1.33" height="1.1"/>
<rect x="562.70" y="531.75" width="1.33" height="0.8" fill-opacity="0.45"/>
<rect x="562.70" y="530.60" width="1.33" height="0.8" fill-opacity="0.45"/>
<rect x="564.62" y="540.89" width="1.33" height="0.8" fill-opacity="0.45"/>
<rect x="564.62" y="537.24" width="1.33" height="0.8" fill-opacity="0.45"/>
<rect x="564.62" y="536.03" width="1.33" height="0.8" fill-opacity="0.45"/>
<rect x="564.62" y="534.81" width="1.33" height="0.8" fill-opacity="0.45"/>
<rect x="564.62" y="533.60" width="1.33" height="0.8" fill-opacity="0.45"/>
<rect x="566.55" y="538.60" width="1.33" height="0.8" fill-opacity="0.45"/>
<rect x="566.55" y="536.27" width="1.33" height="0.8" fill-opacity="0.45"/>
<rect x="566.55" y="535.10" width="1.33" height="0.8" fill-opacity="0.45"/>
<rect x="568.47" y="540.99" width="1.33" height="0.8" fill-opacity="0.45"/>
<rect x="568.47" y="535.43" width="1.33" height="0.8" fill-opacity="0.45"/>
<rect x="568.47" y="534.32" width="1.33" height="0.8" fill-opacity="0.45"/>
<rect x="568.47" y="533.21" width="1.33" height="0.8" fill-opacity="0.45"/>
<rect x="568.47" y="532.10" width="1.33" height="0.8" fill-opacity="0.45"/>
<rect x="570.40" y="540.89" width="1.33" height="0.8" fill-opacity="0.45"/>
<rect x="570.40" y="539.67" width="1.33" height="0.8" fill-opacity="0.45"/>
<rect x="570.40" y="538.46" width="1.33" height="0.8" fill-opacity="0.45"/>
<rect x="570.40" y="537.24" width="1.33" height="0.8" fill-opacity="0.45"/>
<rect x="570.40" y="536.03" width="1.33" height="0.8" fill-opacity="0.45"/>
<rect x="570.40" y="534.81" width="1.33" height="0.8" fill-opacity="0.45"/>
<rect x="570.40" y="533.60" width="1.33" height="0.8" fill-opacity="0.45"/>
<rect x="572.32" y="528.52" width="1.33" height="1.1"/>
<rect x="572.32" y="525.31" width="1.33" height="0.8" fill-opacity="0.45"/>
<rect x="572.32" y="523.08" width="1.33" height="0.8" fill-opacity="0.45"/>
<rect x="572.32" y="519.72" width="1.33" height="0.8" fill-opacity="0.45"/>
<rect x="572.32" y="518.60" width="1.33" height="0.8" fill-opacity="0.45"/>
<rect x="574.25" y="540.85" width="1.33" height="0.8" fill-opacity="0.45"/>
<rect x="574.25" y="539.60" width="1.33" height="0.8" fill-opacity="0.45"/>
<rect x="574.25" y="537.10" width="1.33" height="0.8" fill-opacity="0.45"/>
<rect x="576.17" y="534.88" width="1.33" height="1.1"/>
<rect x="576.17" y="531.49" width="1.33" height="0.8" fill-opacity="0.45"/>
<rect x="576.17" y="529.14" width="1.33" height="0.8" fill-opacity="0.45"/>
<rect x="576.17" y="527.96" width="1.33" height="0.8" fill-opacity="0.45"/>
<rect x="576.17" y="525.60" width="1.33" height="0.8" fill-opacity="0.45"/>
<rect x="578.10" y="540.95" width="1.33" height="0.8" fill-opacity="0.45"/>
<rect x="578.10" y="534.02" width="1.33" height="0.8" fill-opacity="0.45"/>
<rect x="578.10" y="531.72" width="1.33" height="0.8" fill-opacity="0.45"/>
<rect x="578.10" y="530.56" width="1.33" height="0.8" fill-opacity="0.45"/>
<rect x="578.10" y="528.25" width="1.33" height="0.8" fill-opacity="0.45"/>
<rect x="578.10" y="527.10" width="1.33" height="0.8" fill-opacity="0.45"/>
<rect x="580.02" y="537.28" width="1.33" height="1.1"/>
<rect x="580.02" y="532.77" width="1.33" height="0.8" fill-opacity="0.45"/>
<rect x="580.02" y="531.60" width="1.33" height="0.8" fill-opacity="0.45"/>
<rect x="580.02" y="530.43" width="1.33" height="0.8" fill-opacity="0.45"/>
<rect x="580.02" y="529.27" width="1.33" height="0.8" fill-opacity="0.45"/>
<rect x="580.02" y="528.10" width="1.33" height="0.8" fill-opacity="0.45"/>
<rect x="581.95" y="531.83" width="1.33" height="1.1"/>
<rect x="581.95" y="528.45" width="1.33" height="1.1"/>
<rect x="583.87" y="538.58" width="1.33" height="1.1"/>
<rect x="583.87" y="535.35" width="1.33" height="0.8" fill-opacity="0.45"/>
<rect x="583.87" y="533.10" width="1.33" height="0.8" fill-opacity="0.45"/>
<rect x="583.87" y="530.85" width="1.33" height="0.8" fill-opacity="0.45"/>
<rect x="583.87" y="529.73" width="1.33" height="0.8" fill-opacity="0.45"/>
<rect x="583.87" y="528.60" width="1.33" height="0.8" fill-opacity="0.45"/>
<rect x="585.80" y="539.87" width="1.33" height="0.8" fill-opacity="0.45"/>
<rect x="585.80" y="534.29" width="1.33" height="0.8" fill-opacity="0.45"/>
<rect x="585.80" y="533.18" width="1.33" height="0.8" fill-opacity="0.45"/>
<rect x="585.80" y="530.95" width="1.33" height="0.8" fill-opacity="0.45"/>
<rect x="585.80" y="529.83" width="1.33" height="0.8" fill-opacity="0.45"/>
<rect x="585.80" y="527.60" width="1.33" height="0.8" fill-opacity="0.45"/>
<rect x="587.73" y="540.96" width="1.33" height="0.8" fill-opacity="0.45"/>
<rect x="587.73" y="532.96" width="1.33" height="0.8" fill-opacity="0.45"/>
<rect x="587.73" y="531.81" width="1.33" height="0.8" fill-opacity="0.45"/>
<rect x="587.73" y="528.39" width="1.33" height="0.8" fill-opacity="0.45"/>
<rect x="587.73" y="526.10" width="1.33" height="0.8" fill-opacity="0.45"/>
<rect x="589.65" y="537.39" width="1.33" height="1.1"/>
<rect x="589.65" y="532.84" width="1.33" height="1.1"/>
<rect x="589.65" y="527.29" width="1.33" height="0.8" fill-opacity="0.45"/>
<rect x="589.65" y="526.16" width="1.33" height="0.8" fill-opacity="0.45"/>
<rect x="589.65" y="522.74" width="1.33" height="0.8" fill-opacity="0.45"/>
<rect x="589.65" y="521.60" width="1.33" height="0.8" fill-opacity="0.45"/>
<rect x="591.58" y="535.14" width="1.33" height="1.1"/>
<rect x="591.58" y="529.47" width="1.33" height="1.1"/>
<rect x="591.58" y="523.80" width="1.33" height="1.1"/>
<rect x="591.58" y="520.54" width="1.33" height="0.8" fill-opacity="0.45"/>
<rect x="591.58" y="518.27" width="1.33" height="0.8" fill-opacity="0.45"/>
<rect x="591.58" y="516.00" width="1.33" height="0.8" fill-opacity="0.45"/>
<rect x="591.58" y="513.73" width="1.33" height="0.8" fill-opacity="0.45"/>
<rect x="591.58" y="512.60" width="1.33" height="0.8" fill-opacity="0.45"/>
<rect x="593.50" y="539.77" width="1.33" height="0.8" fill-opacity="0.45"/>
<rect x="593.50" y="537.43" width="1.33" height="0.8" fill-opacity="0.45"/>
<rect x="593.50" y="533.93" width="1.33" height="0.8" fill-opacity="0.45"/>
<rect x="593.50" y="532.77" width="1.33" height="0.8" fill-opacity="0.45"/>
<rect x="593.50" y="531.60" width="1.33" height="0.8" fill-opacity="0.45"/>
<rect x="595.43" y="538.48" width="1.33" height="1.1"/>
<rect x="595.43" y="526.93" width="1.33" height="1.1"/>
<rect x="595.43" y="520.15" width="1.33" height="0.8" fill-opacity="0.45"/>
<rect x="595.43" y="517.84" width="1.33" height="0.8" fill-opacity="0.45"/>
<rect x="595.43" y="513.22" width="1.33" height="0.8" fill-opacity="0.45"/>
<rect x="595.43" y="512.07" width="1.33" height="0.8" fill-opacity="0.45"/>
<rect x="595.43" y="509.76" width="1.33" height="0.8" fill-opacity="0.45"/>
<rect x="595.43" y="508.60" width="1.33" height="0.8" fill-opacity="0.45"/>
<rect x="597.35" y="540.99" width="1.33" height="0.8" fill-opacity="0.45"/>
<rect x="597.35" y="536.38" width="1.33" height="1.1"/>
<rect x="597.35" y="526.51" width="1.33" height="0.8" fill-opacity="0.45"/>
<rect x="597.35" y="525.40" width="1.33" height="0.8" fill-opacity="0.45"/>
<rect x="597.35" y="523.17" width="1.33" height="0.8" fill-opacity="0.45"/>
<rect x="597.35" y="520.94" width="1.33" height="0.8" fill-opacity="0.45"/>
<rect x="597.35" y="518.71" width="1.33" height="0.8" fill-opacity="0.45"/>
<rect x="597.35" y="517.60" width="1.33" height="0.8" fill-opacity="0.45"/>
<rect x="599.28" y="540.93" width="1.33" height="0.8" fill-opacity="0.45"/>
<rect x="599.28" y="530.43" width="1.33" height="0.8" fill-opacity="0.45"/>
<rect x="599.28" y="528.10" width="1.33" height="0.8" fill-opacity="0.45"/>
<rect x="599.28" y="525.77" width="1.33" height="0.8" fill-opacity="0.45"/>
<rect x="599.28" y="523.43" width="1.33" height="0.8" fill-opacity="0.45"/>
<rect x="599.28" y="522.27" width="1.33" height="0.8" fill-opacity="0.45"/>
<rect x="599.28" y="521.10" width="1.33" height="0.8" fill-opacity="0.45"/>
<rect x="601.20" y="538.56" width="1.33" height="1.1"/>
<rect x="601.20" y="529.50" width="1.33" height="1.1"/>
<rect x="601.20" y="526.11" width="1.33" height="1.1"/>
<rect x="601.20" y="521.73" width="1.33" height="0.8" fill-opacity="0.45"/>
<rect x="601.20" y="520.60" width="1.33" height="0.8" fill-opacity="0.45"/>
<rect x="603.13" y="539.82" width="1.33" height="0.8" fill-opacity="0.45"/>
<rect x="603.13" y="530.55" width="1.33" height="1.1"/>
<rect x="603.13" y="527.13" width="1.33" height="1.1"/>
<rect x="603.13" y="523.71" width="1.33" height="1.1"/>
<rect x="603.13" y="520.44" width="1.33" height="0.8" fill-opacity="0.45"/>
<rect x="603.13" y="519.30" width="1.33" height="0.8" fill-opacity="0.45"/>
<rect x="603.13" y="517.02" width="1.33" height="0.8" fill-opacity="0.45"/>
<rect x="603.13" y="513.45" width="1.33" height="1.1"/>
<rect x="605.05" y="540.96" width="1.33" height="0.8" fill-opacity="0.45"/>
<rect x="605.05" y="535.28" width="1.33" height="0.8" fill-opacity="0.45"/>
<rect x="605.05" y="533.01" width="1.33" height="0.8" fill-opacity="0.45"/>
<rect x="605.05" y="530.74" width="1.33" height="0.8" fill-opacity="0.45"/>
<rect x="606.98" y="540.93" width="1.33" height="0.8" fill-opacity="0.45"/>
<rect x="606.98" y="538.60" width="1.33" height="0.8" fill-opacity="0.45"/>
<rect x="606.98" y="533.93" width="1.33" height="0.8" fill-opacity="0.45"/>
<rect x="606.98" y="532.77" width="1.33" height="0.8" fill-opacity="0.45"/>
<rect x="606.98" y="531.60" width="1.33" height="0.8" fill-opacity="0.45"/>
<rect x="608.90" y="535.20" width="1.33" height="1.1"/>
<rect x="608.90" y="531.98" width="1.33" height="0.8" fill-opacity="0.45"/>
<rect x="608.90" y="529.73" width="1.33" height="0.8" fill-opacity="0.45"/>
<rect x="608.90" y="528.60" width="1.33" height="0.8" fill-opacity="0.45"/>
<rect x="610.83" y="539.82" width="1.33" height="0.8" fill-opacity="0.45"/>
<rect x="610.83" y="530.70" width="1.33" height="0.8" fill-opacity="0.45"/>
<rect x="610.83" y="528.42" width="1.33" height="0.8" fill-opacity="0.45"/>
<rect x="610.83" y="526.14" width="1.33" height="0.8" fill-opacity="0.45"/>
<rect x="610.83" y="522.57" width="1.33" height="1.1"/>
<rect x="610.83" y="519.30" width="1.33" height="0.8" fill-opacity="0.45"/>
<rect x="610.83" y="517.02" width="1.33" height="0.8" fill-opacity="0.45"/>
<rect x="610.83" y="515.88" width="1.33" height="0.8" fill-opacity="0.45"/>
<rect x="610.83" y="513.60" width="1.33" height="0.8" fill-opacity="0.45"/>
<rect x="612.75" y="539.83" width="1.33" height="0.8" fill-opacity="0.45"/>
<rect x="612.75" y="529.62" width="1.33" height="0.8" fill-opacity="0.45"/>
<rect x="612.75" y="527.35" width="1.33" height="0.8" fill-opacity="0.45"/>
<rect x="612.75" y="521.68" width="1.33" height="0.8" fill-opacity="0.45"/>
<rect x="612.75" y="520.54" width="1.33" height="0.8" fill-opacity="0.45"/>
<rect x="612.75" y="519.41" width="1.33" height="0.8" fill-opacity="0.45"/>
<rect x="612.75" y="514.87" width="1.33" height="0.8" fill-opacity="0.45"/>
<rect x="612.75" y="513.73" width="1.33" height="0.8" fill-opacity="0.45"/>
<rect x="612.75" y="512.60" width="1.33" height="0.8" fill-opacity="0.45"/>
<rect x="614.68" y="540.98" width="1.33" height="0.8" fill-opacity="0.45"/>
<rect x="614.68" y="530.70" width="1.33" height="1.1"/>
<rect x="614.68" y="526.20" width="1.33" height="1.1"/>
<rect x="614.68" y="521.85" width="1.33" height="0.8" fill-opacity="0.45"/>
<rect x="614.68" y="519.60" width="1.33" height="0.8" fill-opacity="0.45"/>
<rect x="616.60" y="540.95" width="1.33" height="0.8" fill-opacity="0.45"/>
<rect x="616.60" y="533.92" width="1.33" height="1.1"/>
<rect x="616.60" y="530.48" width="1.33" height="1.1"/>
<rect x="616.60" y="527.19" width="1.33" height="0.8" fill-opacity="0.45"/>
<rect x="616.60" y="526.04" width="1.33" height="0.8" fill-opacity="0.45"/>
<rect x="616.60" y="524.89" width="1.33" height="0.8" fill-opacity="0.45"/>
<rect x="616.60" y="522.60" width="1.33" height="0.8" fill-opacity="0.45"/>
<rect x="618.53" y="540.98" width="1.33" height="0.8" fill-opacity="0.45"/>
<rect x="618.53" y="531.98" width="1.33" height="0.8" fill-opacity="0.45"/>
<rect x="618.53" y="530.85" width="1.33" height="0.8" fill-opacity="0.45"/>
<rect x="618.53" y="529.73" width="1.33" height="0.8" fill-opacity="0.45"/>
<rect x="618.53" y="528.60" width="1.33" height="0.8" fill-opacity="0.45"/>
<rect x="620.46" y="536.28" width="1.33" height="1.1"/>
<rect x="620.46" y="526.07" width="1.33" height="1.1"/>
<rect x="620.46" y="519.41" width="1.33" height="0.8" fill-opacity="0.45"/>
<rect x="620.46" y="518.27" width="1.33" height="0.8" fill-opacity="0.45"/>
<rect x="620.46" y="517.14" width="1.33" height="0.8" fill-opacity="0.45"/>
<rect x="620.46" y="516.00" width="1.33" height="0.8" fill-opacity="0.45"/>
<rect x="620.46" y="514.87" width="1.33" height="0.8" fill-opacity="0.45"/>
<rect x="620.46" y="513.73" width="1.33" height="0.8" fill-opacity="0.45"/>
<rect x="620.46" y="512.60" width="1.33" height="0.8" fill-opacity="0.45"/>
<rect x="622.38" y="540.96" width="1.33" height="0.8" fill-opacity="0.45"/>
<rect x="622.38" y="537.39" width="1.33" height="1.1"/>
<rect x="622.38" y="533.98" width="1.33" height="1.1"/>
<rect x="622.38" y="527.29" width="1.33" height="0.8" fill-opacity="0.45"/>
<rect x="622.38" y="526.16" width="1.33" height="0.8" fill-opacity="0.45"/>
<rect x="622.38" y="523.88" width="1.33" height="0.8" fill-opacity="0.45"/>
<rect x="622.38" y="522.74" width="1.33" height="0.8" fill-opacity="0.45"/>
<rect x="622.38" y="521.60" width="1.33" height="0.8" fill-opacity="0.45"/>
<rect x="624.31" y="537.42" width="1.33" height="1.1"/>
<rect x="624.31" y="521.57" width="1.33" height="1.1"/>
<rect x="624.31" y="518.32" width="1.33" height="0.8" fill-opacity="0.45"/>
<rect x="624.31" y="517.19" width="1.33" height="0.8" fill-opacity="0.45"/>
<rect x="624.31" y="512.66" width="1.33" height="0.8" fill-opacity="0.45"/>
<rect x="624.31" y="510.39" width="1.33" height="0.8" fill-opacity="0.45"/>
<rect x="624.31" y="505.86" width="1.33" height="0.8" fill-opacity="0.45"/>
<rect x="624.31" y="504.73" width="1.33" height="0.8" fill-opacity="0.45"/>
<rect x="624.31" y="503.60" width="1.33" height="0.8" fill-opacity="0.45"/>
<rect x="626.23" y="538.53" width="1.33" height="1.1"/>
<rect x="626.23" y="519.13" width="1.33" height="1.1"/>
<rect x="626.23" y="511.14" width="1.33" height="1.1"/>
<rect x="626.23" y="505.44" width="1.33" height="1.1"/>
<rect x="626.23" y="502.01" width="1.33" height="1.1"/>
<rect x="626.23" y="497.45" width="1.33" height="1.1"/>
<rect x="628.16" y="535.07" width="1.33" height="1.1"/>
<rect x="628.16" y="514.42" width="1.33" height="1.1"/>
<rect x="628.16" y="505.24" width="1.33" height="1.1"/>
<rect x="628.16" y="499.51" width="1.33" height="1.1"/>
<rect x="628.16" y="494.92" width="1.33" height="1.1"/>
<rect x="628.16" y="491.63" width="1.33" height="0.8" fill-opacity="0.45"/>
<rect x="628.16" y="489.34" width="1.33" height="0.8" fill-opacity="0.45"/>
<rect x="628.16" y="484.75" width="1.33" height="0.8" fill-opacity="0.45"/>
<rect x="628.16" y="483.60" width="1.33" height="0.8" fill-opacity="0.45"/>
<rect x="630.08" y="540.95" width="1.33" height="0.8" fill-opacity="0.45"/>
<rect x="630.08" y="527.06" width="1.33" height="1.1"/>
<rect x="630.08" y="522.48" width="1.33" height="1.1"/>
<rect x="630.08" y="517.90" width="1.33" height="1.1"/>
<rect x="630.08" y="511.18" width="1.33" height="0.8" fill-opacity="0.45"/>
<rect x="630.08" y="510.04" width="1.33" height="0.8" fill-opacity="0.45"/>
<rect x="630.08" y="507.75" width="1.33" height="0.8" fill-opacity="0.45"/>
<rect x="630.08" y="506.60" width="1.33" height="0.8" fill-opacity="0.45"/>
<rect x="632.01" y="539.79" width="1.33" height="0.8" fill-opacity="0.45"/>
<rect x="632.01" y="515.44" width="1.33" height="1.1"/>
<rect x="632.01" y="511.98" width="1.33" height="1.1"/>
<rect x="632.01" y="506.21" width="1.33" height="1.1"/>
<rect x="632.01" y="502.91" width="1.33" height="0.8" fill-opacity="0.45"/>
<rect x="632.01" y="501.75" width="1.33" height="0.8" fill-opacity="0.45"/>
<rect x="632.01" y="500.60" width="1.33" height="0.8" fill-opacity="0.45"/>
<rect x="633.93" y="537.53" width="1.33" height="0.8" fill-opacity="0.45"/>
<rect x="633.93" y="536.39" width="1.33" height="0.8" fill-opacity="0.45"/>
<rect x="633.93" y="528.39" width="1.33" height="0.8" fill-opacity="0.45"/>
<rect x="633.93" y="527.24" width="1.33" height="0.8" fill-opacity="0.45"/>
<rect x="633.93" y="522.67" width="1.33" height="0.8" fill-opacity="0.45"/>
<rect x="633.93" y="520.39" width="1.33" height="0.8" fill-opacity="0.45"/>
<rect x="633.93" y="519.24" width="1.33" height="0.8" fill-opacity="0.45"/>
<rect x="633.93" y="518.10" width="1.33" height="0.8" fill-opacity="0.45"/>
<rect x="635.86" y="541.00" width="1.33" height="0.8" fill-opacity="0.45"/>
<rect x="635.86" y="535.34" width="1.33" height="1.1"/>
<rect x="635.86" y="521.01" width="1.33" height="1.1"/>
<rect x="635.86" y="511.09" width="1.33" height="1.1"/>
<rect x="635.86" y="504.47" width="1.33" height="1.1"/>
<rect x="635.86" y="499.11" width="1.33" height="0.8" fill-opacity="0.45"/>
<rect x="635.86" y="496.91" width="1.33" height="0.8" fill-opacity="0.45"/>
<rect x="635.86" y="493.45" width="1.33" height="1.1"/>
<rect x="637.78" y="540.99" width="1.33" height="0.8" fill-opacity="0.45"/>
<rect x="637.78" y="534.21" width="1.33" height="1.1"/>
<rect x="637.78" y="516.50" width="1.33" height="1.1"/>
<rect x="637.78" y="512.08" width="1.33" height="1.1"/>
<rect x="637.78" y="507.65" width="1.33" height="1.1"/>
<rect x="637.78" y="498.95" width="1.33" height="0.8" fill-opacity="0.45"/>
<rect x="637.78" y="497.84" width="1.33" height="0.8" fill-opacity="0.45"/>
<rect x="637.78" y="491.21" width="1.33" height="0.8" fill-opacity="0.45"/>
<rect x="637.78" y="490.10" width="1.33" height="0.8" fill-opacity="0.45"/>
<rect x="639.71" y="540.99" width="1.33" height="0.8" fill-opacity="0.45"/>
<rect x="639.71" y="539.89" width="1.33" height="0.8" fill-opacity="0.45"/>
<rect x="639.71" y="535.31" width="1.33" height="1.1"/>
<rect x="639.71" y="507.63" width="1.33" height="1.1"/>
<rect x="639.71" y="494.49" width="1.33" height="0.8" fill-opacity="0.45"/>
<rect x="639.71" y="492.28" width="1.33" height="0.8" fill-opacity="0.45"/>
<rect x="639.71" y="491.17" width="1.33" height="0.8" fill-opacity="0.45"/>
<rect x="639.71" y="485.64" width="1.33" height="0.8" fill-opacity="0.45"/>
<rect x="639.71" y="484.53" width="1.33" height="0.8" fill-opacity="0.45"/>
<rect x="639.71" y="479.95" width="1.33" height="1.1"/>
<rect x="641.63" y="530.49" width="1.33" height="1.1"/>
<rect x="641.63" y="506.43" width="1.33" height="1.1"/>
<rect x="641.63" y="499.55" width="1.33" height="1.1"/>
<rect x="641.63" y="489.24" width="1.33" height="1.1"/>
<rect x="641.63" y="481.22" width="1.33" height="1.1"/>
<rect x="641.63" y="477.78" width="1.33" height="1.1"/>
<rect x="641.63" y="474.35" width="1.33" height="1.1"/>
<rect x="641.63" y="467.47" width="1.33" height="1.1"/>
<rect x="641.63" y="459.45" width="1.33" height="1.1"/>
<rect x="643.56" y="540.99" width="1.33" height="0.8" fill-opacity="0.45"/>
<rect x="643.56" y="535.29" width="1.33" height="1.1"/>
<rect x="643.56" y="517.53" width="1.33" height="1.1"/>
<rect x="643.56" y="510.87" width="1.33" height="1.1"/>
<rect x="643.56" y="500.87" width="1.33" height="1.1"/>
<rect x="643.56" y="495.32" width="1.33" height="1.1"/>
<rect x="643.56" y="490.88" width="1.33" height="1.1"/>
<rect x="643.56" y="484.22" width="1.33" height="1.1"/>
<rect x="643.56" y="480.89" width="1.33" height="1.1"/>
<rect x="643.56" y="476.45" width="1.33" height="1.1"/>
<rect x="645.48" y="532.78" width="1.33" height="1.1"/>
<rect x="645.48" y="500.70" width="1.33" height="1.1"/>
<rect x="645.48" y="491.53" width="1.33" height="1.1"/>
<rect x="645.48" y="481.22" width="1.33" height="1.1"/>
<rect x="645.48" y="477.78" width="1.33" height="1.1"/>
<rect x="645.48" y="468.62" width="1.33" height="1.1"/>
<rect x="645.48" y="462.89" width="1.33" height="1.1"/>
<rect x="645.48" y="459.45" width="1.33" height="1.1"/>
<rect x="647.41" y="539.82" width="1.33" height="0.8" fill-opacity="0.45"/>
<rect x="647.41" y="516.89" width="1.33" height="1.1"/>
<rect x="647.41" y="512.34" width="1.33" height="1.1"/>
<rect x="647.41" y="502.09" width="1.33" height="1.1"/>
<rect x="647.41" y="496.39" width="1.33" height="1.1"/>
<rect x="647.41" y="489.56" width="1.33" height="1.1"/>
<rect x="647.41" y="482.88" width="1.33" height="0.8" fill-opacity="0.45"/>
<rect x="647.41" y="480.60" width="1.33" height="0.8" fill-opacity="0.45"/>
<rect x="649.33" y="540.99" width="1.33" height="0.8" fill-opacity="0.45"/>
<rect x="649.33" y="537.49" width="1.33" height="1.1"/>
<rect x="649.33" y="509.64" width="1.33" height="1.1"/>
<rect x="649.33" y="505.19" width="1.33" height="1.1"/>
<rect x="649.33" y="499.62" width="1.33" height="1.1"/>
<rect x="649.33" y="488.48" width="1.33" height="1.1"/>
<rect x="649.33" y="485.28" width="1.33" height="0.8" fill-opacity="0.45"/>
<rect x="649.33" y="483.06" width="1.33" height="0.8" fill-opacity="0.45"/>
<rect x="649.33" y="478.45" width="1.33" height="1.1"/>
<rect x="651.26" y="535.13" width="1.33" height="1.1"/>
<rect x="651.26" y="490.81" width="1.33" height="1.1"/>
<rect x="651.26" y="484.00" width="1.33" height="1.1"/>
<rect x="651.26" y="470.36" width="1.33" height="1.1"/>
<rect x="651.26" y="459.00" width="1.33" height="1.1"/>
<rect x="651.26" y="452.33" width="1.33" height="0.8" fill-opacity="0.45"/>
<rect x="651.26" y="451.19" width="1.33" height="0.8" fill-opacity="0.45"/>
<rect x="651.26" y="436.27" width="1.33" height="1.1"/>
<rect x="651.26" y="429.45" width="1.33" height="1.1"/>
<rect x="653.19" y="539.86" width="1.33" height="0.8" fill-opacity="0.45"/>
<rect x="653.19" y="532.99" width="1.33" height="1.1"/>
<rect x="653.19" y="524.03" width="1.33" height="1.1"/>
<rect x="653.19" y="493.78" width="1.33" height="1.1"/>
<rect x="653.19" y="481.46" width="1.33" height="1.1"/>
<rect x="653.19" y="466.90" width="1.33" height="1.1"/>
<rect x="653.19" y="457.94" width="1.33" height="1.1"/>
<rect x="653.19" y="448.97" width="1.33" height="1.1"/>
<rect x="653.19" y="433.29" width="1.33" height="1.1"/>
<rect x="653.19" y="425.45" width="1.33" height="1.1"/>
<rect x="655.11" y="527.17" width="1.33" height="1.1"/>
<rect x="655.11" y="489.64" width="1.33" height="1.1"/>
<rect x="655.11" y="462.35" width="1.33" height="1.1"/>
<rect x="655.11" y="444.15" width="1.33" height="1.1"/>
<rect x="655.11" y="408.90" width="1.33" height="1.1"/>
<rect x="655.11" y="392.98" width="1.33" height="1.1"/>
<rect x="655.11" y="385.02" width="1.33" height="1.1"/>
<rect x="655.11" y="366.82" width="1.33" height="1.1"/>
<rect x="655.11" y="355.45" width="1.33" height="1.1"/>
<rect x="657.04" y="524.91" width="1.33" height="1.1"/>
<rect x="657.04" y="505.60" width="1.33" height="1.1"/>
<rect x="657.04" y="490.83" width="1.33" height="1.1"/>
<rect x="657.04" y="472.65" width="1.33" height="1.1"/>
<rect x="657.04" y="449.93" width="1.33" height="1.1"/>
<rect x="657.04" y="423.80" width="1.33" height="1.1"/>
<rect x="657.04" y="413.58" width="1.33" height="1.1"/>
<rect x="657.04" y="401.08" width="1.33" height="1.1"/>
<rect x="657.04" y="387.45" width="1.33" height="1.1"/>
<rect x="658.96" y="521.44" width="1.33" height="1.1"/>
<rect x="658.96" y="479.29" width="1.33" height="1.1"/>
<rect x="658.96" y="433.71" width="1.33" height="1.1"/>
<rect x="658.96" y="410.93" width="1.33" height="1.1"/>
<rect x="658.96" y="382.44" width="1.33" height="1.1"/>
<rect x="658.96" y="367.63" width="1.33" height="1.1"/>
<rect x="658.96" y="355.10" width="1.33" height="1.1"/>
<rect x="658.96" y="338.01" width="1.33" height="1.1"/>
<rect x="658.96" y="333.45" width="1.33" height="1.1"/>
<rect x="660.89" y="540.97" width="1.33" height="0.8" fill-opacity="0.45"/>
<rect x="660.89" y="527.26" width="1.33" height="1.1"/>
<rect x="660.89" y="483.19" width="1.33" height="1.1"/>
<rect x="660.89" y="436.86" width="1.33" height="1.1"/>
<rect x="660.89" y="415.39" width="1.33" height="1.1"/>
<rect x="660.89" y="401.83" width="1.33" height="1.1"/>
<rect x="660.89" y="393.92" width="1.33" height="1.1"/>
<rect x="660.89" y="389.40" width="1.33" height="1.1"/>
<rect x="660.89" y="378.10" width="1.33" height="1.1"/>
<rect x="660.89" y="372.45" width="1.33" height="1.1"/>
<rect x="662.81" y="520.37" width="1.33" height="1.1"/>
<rect x="662.81" y="488.58" width="1.33" height="1.1"/>
<rect x="662.81" y="448.84" width="1.33" height="1.1"/>
<rect x="662.81" y="421.58" width="1.33" height="1.1"/>
<rect x="662.81" y="405.68" width="1.33" height="1.1"/>
<rect x="662.81" y="397.74" width="1.33" height="1.1"/>
<rect x="662.81" y="379.57" width="1.33" height="1.1"/>
<rect x="662.81" y="359.13" width="1.33" height="1.1"/>
<rect x="662.81" y="353.45" width="1.33" height="1.1"/>
<rect x="664.74" y="521.44" width="1.33" height="1.1"/>
<rect x="664.74" y="475.86" width="1.33" height="1.1"/>
<rect x="664.74" y="453.07" width="1.33" height="1.1"/>
<rect x="664.74" y="422.31" width="1.33" height="1.1"/>
<rect x="664.74" y="385.85" width="1.33" height="1.1"/>
<rect x="664.74" y="363.06" width="1.33" height="1.1"/>
<rect x="664.74" y="350.52" width="1.33" height="1.1"/>
<rect x="664.74" y="311.78" width="1.33" height="1.1"/>
<rect x="664.74" y="299.25" width="1.33" height="1.1"/>
<rect x="666.66" y="540.97" width="1.33" height="0.8" fill-opacity="0.45"/>
<rect x="666.66" y="528.34" width="1.33" height="1.1"/>
<rect x="666.66" y="495.46" width="1.33" height="1.1"/>
<rect x="666.66" y="445.56" width="1.33" height="1.1"/>
<rect x="666.66" y="412.68" width="1.33" height="1.1"/>
<rect x="666.66" y="365.05" width="1.33" height="1.1"/>
<rect x="666.66" y="345.77" width="1.33" height="1.1"/>
<rect x="666.66" y="327.63" width="1.33" height="1.1"/>
<rect x="666.66" y="308.35" width="1.33" height="1.1"/>
<rect x="666.66" y="301.55" width="1.33" height="1.1"/>
<rect x="668.59" y="540.97" width="1.33" height="0.8" fill-opacity="0.45"/>
<rect x="668.59" y="522.69" width="1.33" height="1.1"/>
<rect x="668.59" y="461.51" width="1.33" height="1.1"/>
<rect x="668.59" y="398.06" width="1.33" height="1.1"/>
<rect x="668.59" y="368.60" width="1.33" height="1.1"/>
<rect x="668.59" y="343.67" width="1.33" height="1.1"/>
<rect x="668.59" y="335.74" width="1.33" height="1.1"/>
<rect x="668.59" y="322.15" width="1.33" height="1.1"/>
<rect x="668.59" y="311.95" width="1.33" height="1.1"/>
<rect x="670.51" y="506.72" width="1.33" height="1.1"/>
<rect x="670.51" y="473.77" width="1.33" height="1.1"/>
<rect x="670.51" y="434.00" width="1.33" height="1.1"/>
<rect x="670.51" y="420.36" width="1.33" height="1.1"/>
<rect x="670.51" y="387.40" width="1.33" height="1.1"/>
<rect x="670.51" y="370.36" width="1.33" height="1.1"/>
<rect x="670.51" y="357.86" width="1.33" height="1.1"/>
<rect x="670.51" y="334.00" width="1.33" height="1.1"/>
<rect x="670.51" y="329.45" width="1.33" height="1.1"/>
<rect x="672.44" y="540.97" width="1.33" height="0.8" fill-opacity="0.45"/>
<rect x="672.44" y="532.92" width="1.33" height="1.1"/>
<rect x="672.44" y="504.69" width="1.33" height="1.1"/>
<rect x="672.44" y="465.18" width="1.33" height="1.1"/>
<rect x="672.44" y="448.24" width="1.33" height="1.1"/>
<rect x="672.44" y="424.53" width="1.33" height="1.1"/>
<rect x="672.44" y="415.50" width="1.33" height="1.1"/>
<rect x="672.44" y="391.79" width="1.33" height="1.1"/>
<rect x="672.44" y="370.34" width="1.33" height="1.1"/>
<rect x="672.44" y="366.95" width="1.33" height="1.1"/>
<rect x="674.36" y="539.85" width="1.33" height="0.8" fill-opacity="0.45"/>
<rect x="674.36" y="525.11" width="1.33" height="1.1"/>
<rect x="674.36" y="492.54" width="1.33" height="1.1"/>
<rect x="674.36" y="462.22" width="1.33" height="1.1"/>
<rect x="674.36" y="437.52" width="1.33" height="1.1"/>
<rect x="674.36" y="413.93" width="1.33" height="1.1"/>
<rect x="674.36" y="389.23" width="1.33" height="1.1"/>
<rect x="674.36" y="369.02" width="1.33" height="1.1"/>
<rect x="674.36" y="346.56" width="1.33" height="1.1"/>
<rect x="674.36" y="336.45" width="1.33" height="1.1"/>
<rect x="676.29" y="515.82" width="1.33" height="1.1"/>
<rect x="676.29" y="469.24" width="1.33" height="1.1"/>
<rect x="676.29" y="454.47" width="1.33" height="1.1"/>
<rect x="676.29" y="411.29" width="1.33" height="1.1"/>
<rect x="676.29" y="370.39" width="1.33" height="1.1"/>
<rect x="676.29" y="354.49" width="1.33" height="1.1"/>
<rect x="676.29" y="329.49" width="1.33" height="1.1"/>
<rect x="676.29" y="314.87" width="1.33" height="0.8" fill-opacity="0.45"/>
<rect x="676.29" y="312.60" width="1.33" height="0.8" fill-opacity="0.45"/>
<rect x="678.21" y="540.98" width="1.33" height="0.8" fill-opacity="0.45"/>
<rect x="678.21" y="538.73" width="1.33" height="0.8" fill-opacity="0.45"/>
<rect x="678.21" y="529.61" width="1.33" height="1.1"/>
<rect x="678.21" y="495.95" width="1.33" height="1.1"/>
<rect x="678.21" y="438.74" width="1.33" height="1.1"/>
<rect x="678.21" y="390.50" width="1.33" height="1.1"/>
<rect x="678.21" y="363.57" width="1.33" height="1.1"/>
<rect x="678.21" y="356.84" width="1.33" height="1.1"/>
<rect x="678.21" y="332.16" width="1.33" height="1.1"/>
<rect x="678.21" y="294.02" width="1.33" height="1.1"/>
<rect x="678.21" y="272.70" width="1.33" height="1.1"/>
<rect x="680.14" y="514.68" width="1.33" height="1.1"/>
<rect x="680.14" y="473.77" width="1.33" height="1.1"/>
<rect x="680.14" y="430.59" width="1.33" height="1.1"/>
<rect x="680.14" y="361.28" width="1.33" height="1.1"/>
<rect x="680.14" y="323.78" width="1.33" height="1.1"/>
<rect x="680.14" y="307.88" width="1.33" height="1.1"/>
<rect x="680.14" y="282.88" width="1.33" height="1.1"/>
<rect x="680.14" y="259.02" width="1.33" height="1.1"/>
<rect x="680.14" y="239.70" width="1.33" height="1.1"/>
<rect x="682.06" y="530.59" width="1.33" height="1.1"/>
<rect x="682.06" y="501.05" width="1.33" height="1.1"/>
<rect x="682.06" y="470.37" width="1.33" height="1.1"/>
<rect x="682.06" y="426.06" width="1.33" height="1.1"/>
<rect x="682.06" y="405.61" width="1.33" height="1.1"/>
<rect x="682.06" y="384.03" width="1.33" height="1.1"/>
<rect x="682.06" y="362.44" width="1.33" height="1.1"/>
<rect x="682.06" y="326.08" width="1.33" height="1.1"/>
<rect x="682.06" y="312.45" width="1.33" height="1.1"/>
<rect x="683.99" y="529.43" width="1.33" height="1.1"/>
<rect x="683.99" y="481.63" width="1.33" height="1.1"/>
<rect x="683.99" y="463.41" width="1.33" height="1.1"/>
<rect x="683.99" y="436.10" width="1.33" height="1.1"/>
<rect x="683.99" y="405.37" width="1.33" height="1.1"/>
<rect x="683.99" y="396.26" width="1.33" height="1.1"/>
<rect x="683.99" y="373.50" width="1.33" height="1.1"/>
<rect x="683.99" y="335.94" width="1.33" height="1.1"/>
<rect x="683.99" y="315.45" width="1.33" height="1.1"/>
<rect x="683.99" y="285.45" width="1.33" height="1.1"/>
<rect x="685.91" y="526.02" width="1.33" height="1.1"/>
<rect x="685.91" y="498.72" width="1.33" height="1.1"/>
<rect x="685.91" y="479.38" width="1.33" height="1.1"/>
<rect x="685.91" y="439.56" width="1.33" height="1.1"/>
<rect x="685.91" y="411.12" width="1.33" height="1.1"/>
<rect x="685.91" y="390.64" width="1.33" height="1.1"/>
<rect x="685.91" y="378.13" width="1.33" height="1.1"/>
<rect x="685.91" y="350.83" width="1.33" height="1.1"/>
<rect x="685.91" y="339.45" width="1.33" height="1.1"/>
<rect x="687.84" y="539.85" width="1.33" height="0.8" fill-opacity="0.45"/>
<rect x="687.84" y="525.08" width="1.33" height="1.1"/>
<rect x="687.84" y="494.73" width="1.33" height="1.1"/>
<rect x="687.84" y="457.62" width="1.33" height="1.1"/>
<rect x="687.84" y="411.52" width="1.33" height="1.1"/>
<rect x="687.84" y="380.04" width="1.33" height="1.1"/>
<rect x="687.84" y="369.92" width="1.33" height="1.1"/>
<rect x="687.84" y="357.55" width="1.33" height="1.1"/>
<rect x="687.84" y="329.44" width="1.33" height="1.1"/>
<rect x="687.84" y="320.45" width="1.33" height="1.1"/>
<rect x="687.84" y="309.45" width="1.33" height="1.1"/>
<rect x="689.77" y="539.86" width="1.33" height="0.8" fill-opacity="0.45"/>
<rect x="689.77" y="518.44" width="1.33" height="1.1"/>
<rect x="689.77" y="500.52" width="1.33" height="1.1"/>
<rect x="689.77" y="469.17" width="1.33" height="1.1"/>
<rect x="689.77" y="453.49" width="1.33" height="1.1"/>
<rect x="689.77" y="436.70" width="1.33" height="1.1"/>
<rect x="689.77" y="423.26" width="1.33" height="1.1"/>
<rect x="689.77" y="415.42" width="1.33" height="1.1"/>
<rect x="689.77" y="390.79" width="1.33" height="1.1"/>
<rect x="689.77" y="382.95" width="1.33" height="1.1"/>
<rect x="689.77" y="363.45" width="1.33" height="1.1"/>
<rect x="691.69" y="540.97" width="1.33" height="0.8" fill-opacity="0.45"/>
<rect x="691.69" y="520.46" width="1.33" height="1.1"/>
<rect x="691.69" y="489.93" width="1.33" height="1.1"/>
<rect x="691.69" y="457.13" width="1.33" height="1.1"/>
<rect x="691.69" y="403.98" width="1.33" height="1.1"/>
<rect x="691.69" y="377.97" width="1.33" height="1.1"/>
<rect x="691.69" y="363.27" width="1.33" height="1.1"/>
<rect x="691.69" y="336.13" width="1.33" height="1.1"/>
<rect x="691.69" y="292.02" width="1.33" height="1.1"/>
<rect x="691.69" y="278.45" width="1.33" height="1.1"/>
<rect x="693.62" y="528.32" width="1.33" height="1.1"/>
<rect x="693.62" y="485.14" width="1.33" height="1.1"/>
<rect x="693.62" y="448.78" width="1.33" height="1.1"/>
<rect x="693.62" y="397.66" width="1.33" height="1.1"/>
<rect x="693.62" y="366.98" width="1.33" height="1.1"/>
<rect x="693.62" y="351.08" width="1.33" height="1.1"/>
<rect x="693.62" y="330.62" width="1.33" height="1.1"/>
<rect x="693.62" y="303.36" width="1.33" height="1.1"/>
<rect x="693.62" y="287.45" width="1.33" height="1.1"/>
<rect x="693.62" y="261.45" width="1.33" height="1.1"/>
<rect x="695.54" y="520.31" width="1.33" height="1.1"/>
<rect x="695.54" y="475.90" width="1.33" height="1.1"/>
<rect x="695.54" y="413.27" width="1.33" height="1.1"/>
<rect x="695.54" y="388.22" width="1.33" height="1.1"/>
<rect x="695.54" y="363.16" width="1.33" height="1.1"/>
<rect x="695.54" y="340.39" width="1.33" height="1.1"/>
<rect x="695.54" y="316.47" width="1.33" height="1.1"/>
<rect x="695.54" y="299.39" width="1.33" height="1.1"/>
<rect x="695.54" y="283.45" width="1.33" height="1.1"/>
<rect x="697.47" y="530.60" width="1.33" height="1.1"/>
<rect x="697.47" y="492.01" width="1.33" height="1.1"/>
<rect x="697.47" y="472.71" width="1.33" height="1.1"/>
<rect x="697.47" y="432.98" width="1.33" height="1.1"/>
<rect x="697.47" y="412.55" width="1.33" height="1.1"/>
<rect x="697.47" y="390.99" width="1.33" height="1.1"/>
<rect x="697.47" y="373.96" width="1.33" height="1.1"/>
<rect x="697.47" y="353.53" width="1.33" height="1.1"/>
<rect x="697.47" y="344.45" width="1.33" height="1.1"/>
<rect x="699.39" y="540.97" width="1.33" height="0.8" fill-opacity="0.45"/>
<rect x="699.39" y="536.31" width="1.33" height="1.1"/>
<rect x="699.39" y="505.86" width="1.33" height="1.1"/>
<rect x="699.39" y="470.91" width="1.33" height="1.1"/>
<rect x="699.39" y="441.59" width="1.33" height="1.1"/>
<rect x="699.39" y="425.80" width="1.33" height="1.1"/>
<rect x="699.39" y="407.76" width="1.33" height="1.1"/>
<rect x="699.39" y="395.35" width="1.33" height="1.1"/>
<rect x="699.39" y="387.46" width="1.33" height="1.1"/>
<rect x="699.39" y="382.95" width="1.33" height="1.1"/>
<rect x="701.32" y="526.05" width="1.33" height="1.1"/>
<rect x="701.32" y="510.16" width="1.33" height="1.1"/>
<rect x="701.32" y="472.69" width="1.33" height="1.1"/>
<rect x="701.32" y="447.72" width="1.33" height="1.1"/>
<rect x="701.32" y="413.65" width="1.33" height="1.1"/>
<rect x="701.32" y="387.54" width="1.33" height="1.1"/>
<rect x="701.32" y="369.38" width="1.33" height="1.1"/>
<rect x="701.32" y="358.02" width="1.33" height="1.1"/>
<rect x="701.32" y="336.45" width="1.33" height="1.1"/>
<rect x="701.32" y="315.95" width="1.33" height="1.1"/>
<rect x="703.24" y="531.72" width="1.33" height="1.1"/>
<rect x="703.24" y="509.00" width="1.33" height="1.1"/>
<rect x="703.24" y="504.45" width="1.33" height="1.1"/>
<rect x="703.24" y="488.54" width="1.33" height="1.1"/>
<rect x="703.24" y="460.13" width="1.33" height="1.1"/>
<rect x="703.24" y="445.36" width="1.33" height="1.1"/>
<rect x="703.24" y="430.59" width="1.33" height="1.1"/>
<rect x="703.24" y="398.77" width="1.33" height="1.1"/>
<rect x="703.24" y="391.95" width="1.33" height="1.1"/>
<rect x="703.24" y="362.45" width="1.33" height="1.1"/>
<rect x="705.17" y="527.18" width="1.33" height="1.1"/>
<rect x="705.17" y="494.23" width="1.33" height="1.1"/>
<rect x="705.17" y="473.78" width="1.33" height="1.1"/>
<rect x="705.17" y="452.20" width="1.33" height="1.1"/>
<rect x="705.17" y="430.61" width="1.33" height="1.1"/>
<rect x="705.17" y="399.94" width="1.33" height="1.1"/>
<rect x="705.17" y="379.49" width="1.33" height="1.1"/>
<rect x="705.17" y="362.44" width="1.33" height="1.1"/>
<rect x="705.17" y="337.45" width="1.33" height="1.1"/>
<rect x="707.09" y="539.85" width="1.33" height="0.8" fill-opacity="0.45"/>
<rect x="707.09" y="530.71" width="1.33" height="1.1"/>
<rect x="707.09" y="502.60" width="1.33" height="1.1"/>
<rect x="707.09" y="476.74" width="1.33" height="1.1"/>
<rect x="707.09" y="463.25" width="1.33" height="1.1"/>
<rect x="707.09" y="437.39" width="1.33" height="1.1"/>
<rect x="707.09" y="417.15" width="1.33" height="1.1"/>
<rect x="707.09" y="393.54" width="1.33" height="1.1"/>
<rect x="707.09" y="346.32" width="1.33" height="1.1"/>
<rect x="707.09" y="338.45" width="1.33" height="1.1"/>
<rect x="707.09" y="304.60" width="1.33" height="0.8" fill-opacity="0.45"/>
<rect x="709.02" y="540.97" width="1.33" height="0.8" fill-opacity="0.45"/>
<rect x="709.02" y="525.00" width="1.33" height="1.1"/>
<rect x="709.02" y="506.92" width="1.33" height="1.1"/>
<rect x="709.02" y="478.68" width="1.33" height="1.1"/>
<rect x="709.02" y="459.47" width="1.33" height="1.1"/>
<rect x="709.02" y="438.00" width="1.33" height="1.1"/>
<rect x="709.02" y="430.09" width="1.33" height="1.1"/>
<rect x="709.02" y="401.85" width="1.33" height="1.1"/>
<rect x="709.02" y="375.86" width="1.33" height="1.1"/>
<rect x="709.02" y="367.95" width="1.33" height="1.1"/>
<rect x="710.94" y="540.97" width="1.33" height="0.8" fill-opacity="0.45"/>
<rect x="710.94" y="523.84" width="1.33" height="1.1"/>
<rect x="710.94" y="507.99" width="1.33" height="1.1"/>
<rect x="710.94" y="479.70" width="1.33" height="1.1"/>
<rect x="710.94" y="442.34" width="1.33" height="1.1"/>
<rect x="710.94" y="428.76" width="1.33" height="1.1"/>
<rect x="710.94" y="424.23" width="1.33" height="1.1"/>
<rect x="710.94" y="388.01" width="1.33" height="1.1"/>
<rect x="710.94" y="361.98" width="1.33" height="1.1"/>
<rect x="710.94" y="357.45" width="1.33" height="1.1"/>
<rect x="710.94" y="332.10" width="1.33" height="0.8" fill-opacity="0.45"/>
<rect x="712.87" y="532.86" width="1.33" height="1.1"/>
<rect x="712.87" y="523.76" width="1.33" height="1.1"/>
<rect x="712.87" y="508.98" width="1.33" height="1.1"/>
<rect x="712.87" y="488.52" width="1.33" height="1.1"/>
<rect x="712.87" y="471.47" width="1.33" height="1.1"/>
<rect x="712.87" y="465.78" width="1.33" height="1.1"/>
<rect x="712.87" y="443.05" width="1.33" height="1.1"/>
<rect x="712.87" y="433.95" width="1.33" height="1.1"/>
<rect x="712.87" y="421.45" width="1.33" height="1.1"/>
<rect x="712.87" y="404.60" width="1.33" height="0.8" fill-opacity="0.45"/>
<rect x="714.79" y="523.69" width="1.33" height="1.1"/>
<rect x="714.79" y="496.29" width="1.33" height="1.1"/>
<rect x="714.79" y="478.03" width="1.33" height="1.1"/>
<rect x="714.79" y="446.06" width="1.33" height="1.1"/>
<rect x="714.79" y="436.93" width="1.33" height="1.1"/>
<rect x="714.79" y="418.67" width="1.33" height="1.1"/>
<rect x="714.79" y="390.13" width="1.33" height="1.1"/>
<rect x="714.79" y="379.86" width="1.33" height="1.1"/>
<rect x="714.79" y="360.45" width="1.33" height="1.1"/>
<rect x="714.79" y="319.45" width="1.33" height="1.1"/>
<rect x="716.72" y="527.18" width="1.33" height="1.1"/>
<rect x="716.72" y="494.24" width="1.33" height="1.1"/>
<rect x="716.72" y="454.49" width="1.33" height="1.1"/>
<rect x="716.72" y="445.40" width="1.33" height="1.1"/>
<rect x="716.72" y="422.69" width="1.33" height="1.1"/>
<rect x="716.72" y="395.43" width="1.33" height="1.1"/>
<rect x="716.72" y="363.62" width="1.33" height="1.1"/>
<rect x="716.72" y="353.40" width="1.33" height="1.1"/>
<rect x="716.72" y="345.45" width="1.33" height="1.1"/>
<rect x="718.64" y="522.60" width="1.33" height="1.1"/>
<rect x="718.64" y="493.01" width="1.33" height="1.1"/>
<rect x="718.64" y="472.53" width="1.33" height="1.1"/>
<rect x="718.64" y="437.25" width="1.33" height="1.1"/>
<rect x="718.64" y="416.76" width="1.33" height="1.1"/>
<rect x="718.64" y="383.76" width="1.33" height="1.1"/>
<rect x="718.64" y="348.48" width="1.33" height="1.1"/>
<rect x="718.64" y="318.89" width="1.33" height="1.1"/>
<rect x="718.64" y="313.20" width="1.33" height="1.1"/>
<rect x="718.64" y="271.35" width="1.33" height="0.8" fill-opacity="0.45"/>
<rect x="720.57" y="527.19" width="1.33" height="1.1"/>
<rect x="720.57" y="502.22" width="1.33" height="1.1"/>
<rect x="720.57" y="474.97" width="1.33" height="1.1"/>
<rect x="720.57" y="445.46" width="1.33" height="1.1"/>
<rect x="720.57" y="421.62" width="1.33" height="1.1"/>
<rect x="720.57" y="405.72" width="1.33" height="1.1"/>
<rect x="720.57" y="394.37" width="1.33" height="1.1"/>
<rect x="720.57" y="377.34" width="1.33" height="1.1"/>
<rect x="720.57" y="361.45" width="1.33" height="1.1"/>
<rect x="722.50" y="532.85" width="1.33" height="1.1"/>
<rect x="722.50" y="500.99" width="1.33" height="1.1"/>
<rect x="722.50" y="481.65" width="1.33" height="1.1"/>
<rect x="722.50" y="469.13" width="1.33" height="1.1"/>
<rect x="722.50" y="436.13" width="1.33" height="1.1"/>
<rect x="722.50" y="428.17" width="1.33" height="1.1"/>
<rect x="722.50" y="406.55" width="1.33" height="1.1"/>
<rect x="722.50" y="375.83" width="1.33" height="1.1"/>
<rect x="722.50" y="364.45" width="1.33" height="1.1"/>
<rect x="722.50" y="331.45" width="1.33" height="1.1"/>
<rect x="724.42" y="540.97" width="1.33" height="0.8" fill-opacity="0.45"/>
<rect x="724.42" y="532.90" width="1.33" height="1.1"/>
<rect x="724.42" y="506.90" width="1.33" height="1.1"/>
<rect x="724.42" y="477.50" width="1.33" height="1.1"/>
<rect x="724.42" y="469.58" width="1.33" height="1.1"/>
<rect x="724.42" y="451.49" width="1.33" height="1.1"/>
<rect x="724.42" y="437.92" width="1.33" height="1.1"/>
<rect x="724.42" y="418.70" width="1.33" height="1.1"/>
<rect x="724.42" y="401.73" width="1.33" height="1.1"/>
<rect x="724.42" y="394.95" width="1.33" height="1.1"/>
<rect x="724.42" y="357.60" width="1.33" height="0.8" fill-opacity="0.45"/>
<rect x="726.35" y="539.87" width="1.33" height="0.8" fill-opacity="0.45"/>
<rect x="726.35" y="536.38" width="1.33" height="1.1"/>
<rect x="726.35" y="517.45" width="1.33" height="1.1"/>
<rect x="726.35" y="500.75" width="1.33" height="1.1"/>
<rect x="726.35" y="465.11" width="1.33" height="1.1"/>
<rect x="726.35" y="459.54" width="1.33" height="1.1"/>
<rect x="726.35" y="452.86" width="1.33" height="1.1"/>
<rect x="726.35" y="431.70" width="1.33" height="1.1"/>
<rect x="726.35" y="425.02" width="1.33" height="1.1"/>
<rect x="726.35" y="419.45" width="1.33" height="1.1"/>
<rect x="728.27" y="539.83" width="1.33" height="0.8" fill-opacity="0.45"/>
<rect x="728.27" y="524.89" width="1.33" height="1.1"/>
<rect x="728.27" y="501.00" width="1.33" height="1.1"/>
<rect x="728.27" y="488.49" width="1.33" height="1.1"/>
<rect x="728.27" y="481.67" width="1.33" height="1.1"/>
<rect x="728.27" y="468.02" width="1.33" height="1.1"/>
<rect x="728.27" y="450.96" width="1.33" height="1.1"/>
<rect x="728.27" y="444.14" width="1.33" height="1.1"/>
<rect x="728.27" y="438.45" width="1.33" height="1.1"/>
<rect x="730.20" y="533.97" width="1.33" height="1.1"/>
<rect x="730.20" y="522.57" width="1.33" height="1.1"/>
<rect x="730.20" y="516.86" width="1.33" height="1.1"/>
<rect x="730.20" y="500.90" width="1.33" height="1.1"/>
<rect x="730.20" y="488.36" width="1.33" height="1.1"/>
<rect x="730.20" y="478.09" width="1.33" height="1.1"/>
<rect x="730.20" y="471.25" width="1.33" height="1.1"/>
<rect x="730.20" y="464.41" width="1.33" height="1.1"/>
<rect x="730.20" y="459.85" width="1.33" height="1.1"/>
<rect x="732.12" y="540.97" width="1.33" height="0.8" fill-opacity="0.45"/>
<rect x="732.12" y="538.72" width="1.33" height="0.8" fill-opacity="0.45"/>
<rect x="732.12" y="520.55" width="1.33" height="1.1"/>
<rect x="732.12" y="504.79" width="1.33" height="1.1"/>
<rect x="732.12" y="486.77" width="1.33" height="1.1"/>
<rect x="732.12" y="478.89" width="1.33" height="1.1"/>
<rect x="732.12" y="464.25" width="1.33" height="1.1"/>
<rect x="732.12" y="439.48" width="1.33" height="1.1"/>
<rect x="732.12" y="420.33" width="1.33" height="1.1"/>
<rect x="732.12" y="412.45" width="1.33" height="1.1"/>
<rect x="734.05" y="540.97" width="1.33" height="0.8" fill-opacity="0.45"/>
<rect x="734.05" y="539.84" width="1.33" height="0.8" fill-opacity="0.45"/>
<rect x="734.05" y="519.31" width="1.33" height="1.1"/>
<rect x="734.05" y="496.68" width="1.33" height="1.1"/>
<rect x="734.05" y="478.57" width="1.33" height="1.1"/>
<rect x="734.05" y="468.38" width="1.33" height="1.1"/>
<rect x="734.05" y="450.27" width="1.33" height="1.1"/>
<rect x="734.05" y="441.22" width="1.33" height="1.1"/>
<rect x="734.05" y="421.98" width="1.33" height="1.1"/>
<rect x="734.05" y="417.45" width="1.33" height="1.1"/>
<rect x="734.05" y="384.60" width="1.33" height="0.8" fill-opacity="0.45"/>
<rect x="735.97" y="540.96" width="1.33" height="0.8" fill-opacity="0.45"/>
<rect x="735.97" y="529.45" width="1.33" height="1.1"/>
<rect x="735.97" y="515.81" width="1.33" height="1.1"/>
<rect x="735.97" y="497.63" width="1.33" height="1.1"/>
<rect x="735.97" y="488.54" width="1.33" height="1.1"/>
<rect x="735.97" y="478.31" width="1.33" height="1.1"/>
<rect x="735.97" y="463.53" width="1.33" height="1.1"/>
<rect x="735.97" y="444.21" width="1.33" height="1.1"/>
<rect x="735.97" y="432.85" width="1.33" height="1.1"/>
<rect x="735.97" y="396.85" width="1.33" height="1.1"/>
<rect x="737.90" y="540.97" width="1.33" height="0.8" fill-opacity="0.45"/>
<rect x="737.90" y="534.05" width="1.33" height="1.1"/>
<rect x="737.90" y="522.76" width="1.33" height="1.1"/>
<rect x="737.90" y="508.09" width="1.33" height="1.1"/>
<rect x="737.90" y="479.88" width="1.33" height="1.1"/>
<rect x="737.90" y="469.72" width="1.33" height="1.1"/>
<rect x="737.90" y="456.18" width="1.33" height="1.1"/>
<rect x="737.90" y="442.64" width="1.33" height="1.1"/>
<rect x="737.90" y="424.73" width="1.33" height="0.8" fill-opacity="0.45"/>
<rect x="737.90" y="423.60" width="1.33" height="0.8" fill-opacity="0.45"/>
<rect x="739.82" y="529.37" width="1.33" height="1.1"/>
<rect x="739.82" y="522.51" width="1.33" height="1.1"/>
<rect x="739.82" y="506.51" width="1.33" height="1.1"/>
<rect x="739.82" y="485.93" width="1.33" height="1.1"/>
<rect x="739.82" y="482.50" width="1.33" height="1.1"/>
<rect x="739.82" y="459.64" width="1.33" height="1.1"/>
<rect x="739.82" y="447.06" width="1.33" height="1.1"/>
<rect x="739.82" y="440.20" width="1.33" height="1.1"/>
<rect x="741.75" y="540.98" width="1.33" height="0.8" fill-opacity="0.45"/>
<rect x="741.75" y="534.14" width="1.33" height="1.1"/>
<rect x="741.75" y="527.45" width="1.33" height="1.1"/>
<rect x="741.75" y="520.76" width="1.33" height="1.1"/>
<rect x="741.75" y="507.37" width="1.33" height="1.1"/>
<rect x="741.75" y="497.33" width="1.33" height="1.1"/>
<rect x="741.75" y="485.07" width="1.33" height="1.1"/>
<rect x="741.75" y="480.60" width="1.33" height="1.1"/>
<rect x="741.75" y="475.03" width="1.33" height="1.1"/>
<rect x="741.75" y="469.45" width="1.33" height="1.1"/>
<rect x="743.67" y="539.83" width="1.33" height="0.8" fill-opacity="0.45"/>
<rect x="743.67" y="528.35" width="1.33" height="1.1"/>
<rect x="743.67" y="518.16" width="1.33" height="1.1"/>
<rect x="743.67" y="502.30" width="1.33" height="1.1"/>
<rect x="743.67" y="478.50" width="1.33" height="1.1"/>
<rect x="743.67" y="468.31" width="1.33" height="1.1"/>
<rect x="743.67" y="461.51" width="1.33" height="1.1"/>
<rect x="743.67" y="444.51" width="1.33" height="1.1"/>
<rect x="743.67" y="435.45" width="1.33" height="1.1"/>
<rect x="743.67" y="416.60" width="1.33" height="0.8" fill-opacity="0.45"/>
<rect x="743.67" y="414.60" width="1.33" height="0.8" fill-opacity="0.45"/>
<rect x="745.60" y="535.15" width="1.33" height="1.1"/>
<rect x="745.60" y="519.29" width="1.33" height="1.1"/>
<rect x="745.60" y="509.09" width="1.33" height="1.1"/>
<rect x="745.60" y="490.96" width="1.33" height="1.1"/>
<rect x="745.60" y="479.63" width="1.33" height="1.1"/>
<rect x="745.60" y="464.90" width="1.33" height="1.1"/>
<rect x="745.60" y="455.83" width="1.33" height="1.1"/>
<rect x="745.60" y="441.10" width="1.33" height="1.1"/>
<rect x="745.60" y="437.70" width="1.33" height="1.1"/>
<rect x="745.60" y="404.85" width="1.33" height="0.8" fill-opacity="0.45"/>
<rect x="747.52" y="540.98" width="1.33" height="0.8" fill-opacity="0.45"/>
<rect x="747.52" y="536.33" width="1.33" height="1.1"/>
<rect x="747.52" y="527.50" width="1.33" height="0.8" fill-opacity="0.45"/>
<rect x="747.52" y="526.37" width="1.33" height="0.8" fill-opacity="0.45"/>
<rect x="747.52" y="511.62" width="1.33" height="1.1"/>
<rect x="747.52" y="499.27" width="1.33" height="1.1"/>
<rect x="747.52" y="495.90" width="1.33" height="1.1"/>
<rect x="747.52" y="483.54" width="1.33" height="1.1"/>
<rect x="747.52" y="466.69" width="1.33" height="1.1"/>
<rect x="747.52" y="459.95" width="1.33" height="1.1"/>
<rect x="747.52" y="434.10" width="1.33" height="0.8" fill-opacity="0.45"/>
<rect x="749.45" y="537.41" width="1.33" height="1.1"/>
<rect x="749.45" y="523.78" width="1.33" height="1.1"/>
<rect x="749.45" y="512.43" width="1.33" height="1.1"/>
<rect x="749.45" y="495.40" width="1.33" height="1.1"/>
<rect x="749.45" y="478.37" width="1.33" height="1.1"/>
<rect x="749.45" y="470.42" width="1.33" height="1.1"/>
<rect x="749.45" y="451.12" width="1.33" height="1.1"/>
<rect x="749.45" y="436.36" width="1.33" height="1.1"/>
<rect x="749.45" y="432.95" width="1.33" height="1.1"/>
<rect x="749.45" y="370.45" width="1.33" height="1.1"/>
<rect x="749.45" y="362.10" width="1.33" height="0.8" fill-opacity="0.45"/>
<rect x="749.45" y="361.10" width="1.33" height="0.8" fill-opacity="0.45"/>
<rect x="751.37" y="539.82" width="1.33" height="0.8" fill-opacity="0.45"/>
<rect x="751.37" y="529.54" width="1.33" height="0.8" fill-opacity="0.45"/>
<rect x="751.37" y="528.39" width="1.33" height="0.8" fill-opacity="0.45"/>
<rect x="751.37" y="512.25" width="1.33" height="1.1"/>
<rect x="751.37" y="498.54" width="1.33" height="1.1"/>
<rect x="751.37" y="492.83" width="1.33" height="1.1"/>
<rect x="751.37" y="481.41" width="1.33" height="1.1"/>
<rect x="751.37" y="464.28" width="1.33" height="1.1"/>
<rect x="751.37" y="460.85" width="1.33" height="1.1"/>
<rect x="751.37" y="447.50" width="1.33" height="0.8" fill-opacity="0.45"/>
</g>
</svg>
</body></html>
